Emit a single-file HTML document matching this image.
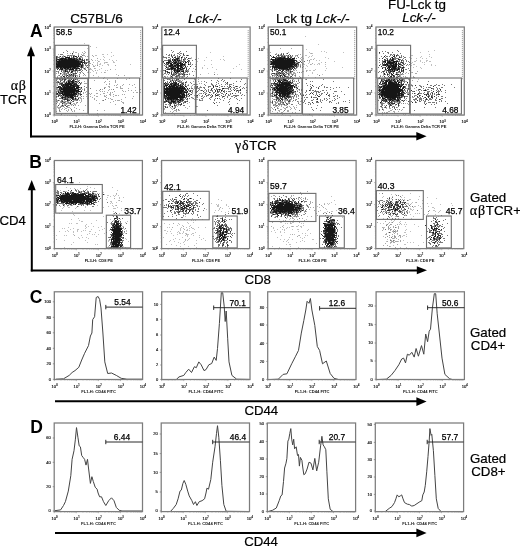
<!DOCTYPE html>
<html><head><meta charset="utf-8"><style>
html,body{margin:0;padding:0;background:#fff;width:520px;height:549px;overflow:hidden;font-family:"Liberation Sans", sans-serif;}
svg{display:block;will-change:transform}
</style></head><body>
<svg width="520" height="549" viewBox="0 0 520 549"><rect x="0" y="0" width="520" height="549" fill="#fff"/>
<defs><filter id="bl" x="-5%" y="-5%" width="110%" height="110%"><feGaussianBlur stdDeviation="0.55"/></filter></defs>
<text x="70.2" y="23" font-size="13.5" text-anchor="start" font-weight="normal" font-style="normal" fill="#000" font-family='"Liberation Sans", sans-serif'  stroke="#000" stroke-width="0.2">C57BL/6</text>
<text x="188.0" y="23" font-size="13.4" text-anchor="start" font-weight="normal" font-style="italic" fill="#000" font-family='"Liberation Sans", sans-serif'  stroke="#000" stroke-width="0.2">Lck-/-</text>
<text x="276.0" y="23" font-size="13.5" fill="#000" stroke="#000" stroke-width="0.2" font-family='"Liberation Sans", sans-serif'>Lck tg <tspan font-style="italic">Lck-/-</tspan></text>
<text x="388.0" y="8.8" font-size="13.4" text-anchor="start" font-weight="normal" font-style="normal" fill="#000" font-family='"Liberation Sans", sans-serif'  stroke="#000" stroke-width="0.2">FU-Lck tg</text>
<text x="402.2" y="22.4" font-size="13.4" text-anchor="start" font-weight="normal" font-style="italic" fill="#000" font-family='"Liberation Sans", sans-serif'  stroke="#000" stroke-width="0.2">Lck-/-</text>
<text x="30.0" y="37.0" font-size="17.5" text-anchor="start" font-weight="bold" font-style="normal" fill="#000" font-family='"Liberation Sans", sans-serif' >A</text>
<text x="29.3" y="168.2" font-size="17.5" text-anchor="start" font-weight="bold" font-style="normal" fill="#000" font-family='"Liberation Sans", sans-serif' >B</text>
<text x="29.8" y="303.0" font-size="17.5" text-anchor="start" font-weight="bold" font-style="normal" fill="#000" font-family='"Liberation Sans", sans-serif' >C</text>
<text x="30.2" y="432.6" font-size="17.5" text-anchor="start" font-weight="bold" font-style="normal" fill="#000" font-family='"Liberation Sans", sans-serif' >D</text>
<text x="26.4" y="90.1" font-size="14" text-anchor="end" letter-spacing="0.6" fill="#000" stroke="#000" stroke-width="0.2" font-family='"Liberation Serif", serif'>αβ</text>
<text x="26.8" y="103.6" font-size="13.0" text-anchor="end" font-weight="normal" font-style="normal" fill="#000" font-family='"Liberation Sans", sans-serif'  stroke="#000" stroke-width="0.2">TCR</text>
<text x="235.0" y="150.4" font-size="13.3" fill="#000" stroke="#000" stroke-width="0.2" font-family='"Liberation Sans", sans-serif'><tspan font-family='"Liberation Serif", serif' font-size="14" letter-spacing="0.7">γδ</tspan>TCR</text>
<text x="25.8" y="224.9" font-size="13.2" text-anchor="end" font-weight="normal" font-style="normal" fill="#000" font-family='"Liberation Sans", sans-serif'  stroke="#000" stroke-width="0.2">CD4</text>
<text x="244.4" y="283.9" font-size="13.3" text-anchor="start" font-weight="normal" font-style="normal" fill="#000" font-family='"Liberation Sans", sans-serif'  stroke="#000" stroke-width="0.2">CD8</text>
<text x="244.4" y="415.0" font-size="13.2" text-anchor="start" font-weight="normal" font-style="normal" fill="#000" font-family='"Liberation Sans", sans-serif'  stroke="#000" stroke-width="0.2">CD44</text>
<text x="244.2" y="545.8" font-size="13.2" text-anchor="start" font-weight="normal" font-style="normal" fill="#000" font-family='"Liberation Sans", sans-serif'  stroke="#000" stroke-width="0.2">CD44</text>
<text x="470.0" y="201.9" font-size="13.3" text-anchor="start" font-weight="normal" font-style="normal" fill="#000" font-family='"Liberation Sans", sans-serif'  stroke="#000" stroke-width="0.2">Gated</text>
<text x="469.8" y="215.2" font-size="13.3" fill="#000" stroke="#000" stroke-width="0.2" font-family='"Liberation Sans", sans-serif'><tspan font-family='"Liberation Serif", serif' font-size="14" letter-spacing="0.8">αβ</tspan>TCR+</text>
<text x="470.0" y="336.6" font-size="13.3" text-anchor="start" font-weight="normal" font-style="normal" fill="#000" font-family='"Liberation Sans", sans-serif'  stroke="#000" stroke-width="0.2">Gated</text>
<text x="470.8" y="350.0" font-size="13.3" text-anchor="start" font-weight="normal" font-style="normal" fill="#000" font-family='"Liberation Sans", sans-serif'  stroke="#000" stroke-width="0.2">CD4+</text>
<text x="470.0" y="463.1" font-size="13.3" text-anchor="start" font-weight="normal" font-style="normal" fill="#000" font-family='"Liberation Sans", sans-serif'  stroke="#000" stroke-width="0.2">Gated</text>
<text x="471.2" y="476.2" font-size="13.3" text-anchor="start" font-weight="normal" font-style="normal" fill="#000" font-family='"Liberation Sans", sans-serif'  stroke="#000" stroke-width="0.2">CD8+</text>
<line x1="31" y1="56" x2="31" y2="137.3" stroke="#000" stroke-width="2"/>
<line x1="30" y1="136.6" x2="417" y2="136.6" stroke="#000" stroke-width="2"/>
<polygon points="31,46 27,56.2 35,56.2" fill="#000"/>
<polygon points="426.6,136.3 416.3,132 416.3,140.6" fill="#000"/>
<line x1="31.8" y1="189" x2="31.8" y2="271.4" stroke="#000" stroke-width="2"/>
<line x1="30.8" y1="270.4" x2="417" y2="270.4" stroke="#000" stroke-width="2"/>
<polygon points="31.7,180.1 27.7,190.3 35.7,190.3" fill="#000"/>
<polygon points="427.0,270.2 416.8,266.2 416.8,274.2" fill="#000"/>
<line x1="55" y1="401.3" x2="417" y2="401.3" stroke="#000" stroke-width="2"/>
<polygon points="426.6,401.6 416.4,397.3 416.4,405.9" fill="#000"/>
<line x1="55" y1="533" x2="417" y2="533" stroke="#000" stroke-width="2"/>
<polygon points="426.6,532.9 416.4,528.6 416.4,537.2" fill="#000"/>
<path d="M84 43.5h1M96 47.5h1M87 48.5h1M111 52.5h1M83 53.5h1M83 54.5h1M102 54.5h1M103 54.5h1M107 54.5h1M95 55.5h1M96 55.5h1M113 55.5h1M103 56.5h1M111 56.5h1M104 57.5h1M100 59.5h1M103 59.5h1M109 59.5h1M95 60.5h1M97 60.5h1M104 60.5h1M112 60.5h1M116 60.5h1M99 61.5h1M113 61.5h1M93 62.5h1M97 62.5h1M104 62.5h1M105 62.5h1M107 62.5h1M113 62.5h1M114 62.5h1M97 63.5h1M100 63.5h1M104 63.5h1M97 64.5h1M99 64.5h1M100 64.5h1M107 64.5h1M108 64.5h1M130 64.5h1M93 65.5h1M95 65.5h1M102 65.5h1M108 65.5h1M99 66.5h1M85 67.5h1M95 68.5h1M101 68.5h1M90 69.5h1M91 69.5h1M99 69.5h1M115 69.5h1M92 70.5h1M97 70.5h1M105 70.5h1M107 70.5h1M93 71.5h1M87 72.5h1M90 72.5h1M96 72.5h1M101 72.5h1M105 72.5h1M96 73.5h1M116 74.5h1M98 76.5h1M104 77.5h1" stroke="#c0c0c0" stroke-width="1" fill="none" shape-rendering="crispEdges" filter="url(#bl)"/>
<path d="M90 46.5h1M66 50.5h1M73 51.5h1M84 51.5h1M73 52.5h1M75 52.5h1M76 52.5h1M82 52.5h1M85 52.5h1M67 53.5h1M70 53.5h1M78 53.5h1M84 53.5h1M58 54.5h1M72 54.5h1M78 54.5h1M81 54.5h1M63 55.5h1M69 55.5h1M72 55.5h1M83 55.5h1M84 55.5h1M92 55.5h1M59 56.5h1M63 56.5h1M67 56.5h1M85 56.5h1M87 56.5h1M93 56.5h1M61 57.5h1M63 57.5h1M72 57.5h1M74 57.5h1M80 57.5h1M81 57.5h1M82 57.5h1M57 58.5h1M77 58.5h1M78 58.5h1M97 58.5h1M88 59.5h1M91 59.5h1M57 60.5h1M80 60.5h1M87 60.5h1M92 60.5h1M98 61.5h1M89 62.5h1M106 62.5h1M89 63.5h1M90 63.5h1M83 64.5h1M92 64.5h1M86 65.5h1M115 65.5h1M83 66.5h1M93 66.5h1M94 66.5h1M83 67.5h1M83 68.5h1M85 68.5h1M90 68.5h1M94 68.5h1M63 69.5h1M64 69.5h1M77 69.5h1M84 69.5h1M89 69.5h1M110 69.5h1M59 70.5h1M62 70.5h1M70 70.5h1M95 70.5h1M57 71.5h1M68 71.5h1M73 71.5h1M74 71.5h1M88 71.5h1M62 72.5h1M63 72.5h1M65 72.5h1M70 72.5h1M77 72.5h1M79 72.5h1M82 72.5h1M104 72.5h1M56 73.5h1M58 73.5h1M61 73.5h1M63 73.5h1M65 73.5h1M67 73.5h1M70 73.5h1M72 73.5h1M80 73.5h1M60 74.5h1M62 74.5h1M63 74.5h1M65 74.5h1M68 74.5h1M70 74.5h1M72 74.5h1M74 74.5h1M75 74.5h1M58 75.5h1M64 75.5h1M65 75.5h1M68 75.5h1M74 75.5h1M76 75.5h1M77 75.5h1M79 75.5h1M83 75.5h1M85 75.5h1M93 75.5h1M118 75.5h1M124 75.5h1M57 76.5h1M60 76.5h1M70 76.5h1M71 76.5h1M72 76.5h1M77 76.5h1M60 77.5h1M62 77.5h1M65 77.5h1M66 77.5h1M69 77.5h1M71 77.5h1M72 77.5h1M74 77.5h1M75 77.5h1M57 78.5h1M68 78.5h1M69 78.5h1M74 78.5h1M79 78.5h1M85 78.5h1M103 78.5h1M117 78.5h1M129 78.5h1M56 79.5h1M57 79.5h1M61 79.5h1M63 79.5h1M66 79.5h1M68 79.5h1M70 79.5h1M74 79.5h1M76 79.5h1M107 79.5h1M126 79.5h1M62 80.5h1M65 80.5h1M67 80.5h1M77 80.5h1M78 80.5h1M88 80.5h1M94 80.5h1M115 80.5h1M67 81.5h1M77 81.5h1M84 81.5h1M105 81.5h1M109 81.5h1M115 81.5h1M60 82.5h1M61 82.5h1M63 82.5h1M65 82.5h1M67 82.5h1M75 82.5h1M104 82.5h1M115 82.5h1M57 83.5h1M64 83.5h1M81 83.5h1M84 83.5h1M85 83.5h1M86 83.5h1M109 83.5h1M57 84.5h1M77 84.5h1M88 84.5h1M106 84.5h1M109 84.5h1M117 84.5h1M123 84.5h1M129 84.5h1M134 84.5h1M57 85.5h1M114 85.5h1M116 85.5h1M122 85.5h1M132 85.5h1M88 86.5h1M108 86.5h1M109 86.5h1M120 86.5h1M80 87.5h1M104 87.5h1M105 87.5h1M109 87.5h1M116 87.5h1M117 87.5h1M120 87.5h1M135 87.5h1M56 88.5h1M57 88.5h1M80 88.5h1M84 88.5h1M120 88.5h1M121 88.5h1M122 88.5h1M128 88.5h1M56 89.5h1M57 89.5h1M58 89.5h1M82 89.5h1M88 89.5h1M102 89.5h1M109 89.5h1M111 89.5h1M140 89.5h1M57 90.5h1M96 90.5h1M99 90.5h1M108 90.5h1M122 90.5h1M128 90.5h1M131 90.5h1M135 90.5h1M57 91.5h1M59 91.5h1M86 91.5h1M100 91.5h1M102 91.5h1M104 91.5h1M114 91.5h1M123 91.5h1M125 91.5h1M83 92.5h1M85 92.5h1M107 92.5h1M110 92.5h1M112 92.5h1M133 92.5h1M136 92.5h1M137 92.5h1M140 92.5h1M58 93.5h1M77 93.5h1M83 93.5h1M88 93.5h1M89 93.5h1M91 93.5h1M96 93.5h1M97 93.5h1M103 93.5h1M104 93.5h1M110 93.5h1M77 94.5h1M79 94.5h1M86 94.5h1M90 94.5h1M100 94.5h1M109 94.5h1M110 94.5h1M113 94.5h1M122 94.5h1M124 94.5h1M62 95.5h1M78 95.5h1M94 95.5h1M104 95.5h1M106 95.5h1M110 95.5h1M115 95.5h1M116 95.5h1M118 95.5h1M57 96.5h1M61 96.5h1M63 96.5h1M83 96.5h1M86 96.5h1M90 96.5h1M96 96.5h1M97 96.5h1M104 96.5h1M105 96.5h1M113 96.5h1M133 96.5h1M78 97.5h1M79 97.5h1M80 97.5h1M88 97.5h1M92 97.5h1M106 97.5h1M125 97.5h1M63 98.5h1M68 98.5h1M69 98.5h1M70 98.5h1M74 98.5h1M76 98.5h1M80 98.5h1M81 98.5h1M83 98.5h1M87 98.5h1M94 98.5h1M108 98.5h1M110 98.5h1M132 98.5h1M62 99.5h1M69 99.5h1M78 99.5h1M81 99.5h1M94 99.5h1M111 99.5h1M112 99.5h1M121 99.5h1M56 100.5h1M57 100.5h1M59 100.5h1M64 100.5h1M73 100.5h1M74 100.5h1M75 100.5h1M79 100.5h1M81 100.5h1M96 100.5h1M102 100.5h1M115 100.5h1M117 100.5h1M118 100.5h1M119 100.5h1M57 101.5h1M60 101.5h1M63 101.5h1M64 101.5h1M66 101.5h1M68 101.5h1M70 101.5h1M81 101.5h1M113 101.5h1M121 101.5h1M57 102.5h1M60 102.5h1M62 102.5h1M65 102.5h1M67 102.5h1M69 102.5h1M71 102.5h1M76 102.5h1M80 102.5h1M110 102.5h1M122 102.5h1M123 102.5h1M59 103.5h1M63 103.5h1M64 103.5h1M65 103.5h1M67 103.5h1M68 103.5h1M73 103.5h1M74 103.5h1M76 103.5h1M99 103.5h1M123 103.5h1M59 104.5h1M62 104.5h1M64 104.5h1M65 104.5h1M66 104.5h1M70 104.5h1M71 104.5h1M72 104.5h1M74 104.5h1M75 104.5h1M115 104.5h1M61 105.5h1M63 105.5h1M64 105.5h1M67 105.5h1M69 105.5h1M71 105.5h1M75 105.5h1M78 105.5h1M85 105.5h1M57 106.5h1M60 106.5h1M62 106.5h1M57 107.5h1M58 107.5h1M59 107.5h1M64 107.5h1M67 107.5h1M68 107.5h1M69 107.5h1M74 107.5h1M58 108.5h1M59 108.5h1M62 108.5h1M65 108.5h1M66 108.5h1M70 108.5h1M76 108.5h1M59 109.5h1M61 109.5h1M64 109.5h1M68 109.5h1M79 109.5h1M66 110.5h1M68 110.5h1M71 110.5h1M74 110.5h1M83 110.5h1M97 110.5h1M104 110.5h1M56 111.5h1M59 111.5h1M60 111.5h1M67 111.5h1M72 111.5h1M74 111.5h1M65 113.5h1M97 113.5h1" stroke="#a8a8a8" stroke-width="1" fill="none" shape-rendering="crispEdges" filter="url(#bl)"/>
<path d="M89 65.5h1M97 65.5h1M86 66.5h1M84 74.5h1" stroke="#909090" stroke-width="1" fill="none" shape-rendering="crispEdges" filter="url(#bl)"/>
<path d="M67 51.5h1M63 52.5h1M60 54.5h1M61 54.5h1M62 54.5h1M67 55.5h1M68 55.5h1M70 55.5h1M71 55.5h1M73 55.5h1M74 55.5h1M78 55.5h1M82 55.5h1M57 56.5h1M62 56.5h1M65 56.5h1M69 56.5h1M71 56.5h1M74 56.5h1M81 56.5h1M57 57.5h1M58 57.5h1M59 57.5h1M62 57.5h1M71 57.5h1M76 57.5h1M79 57.5h1M59 58.5h1M67 58.5h1M82 58.5h1M78 59.5h1M81 59.5h1M84 59.5h1M87 59.5h1M58 60.5h1M79 60.5h1M81 60.5h1M86 60.5h1M82 61.5h1M85 62.5h1M86 62.5h1M87 62.5h1M85 63.5h1M81 64.5h1M85 64.5h1M80 65.5h1M83 65.5h1M85 65.5h1M87 65.5h1M80 66.5h1M78 67.5h1M80 67.5h1M56 68.5h1M57 68.5h1M63 68.5h1M69 68.5h1M71 68.5h1M81 68.5h1M68 69.5h1M79 69.5h1M80 69.5h1M81 69.5h1M85 69.5h1M61 70.5h1M63 70.5h1M64 70.5h1M66 70.5h1M67 70.5h1M71 70.5h1M72 70.5h1M74 70.5h1M77 70.5h1M78 70.5h1M80 70.5h1M82 70.5h1M56 71.5h1M58 71.5h1M63 71.5h1M64 71.5h1M75 71.5h1M77 71.5h1M81 71.5h1M58 72.5h1M64 72.5h1M67 72.5h1M72 72.5h1M75 72.5h1M80 72.5h1M88 72.5h1M64 73.5h1M66 73.5h1M68 73.5h1M74 73.5h1M83 73.5h1M64 74.5h1M66 74.5h1M79 74.5h1M59 75.5h1M62 75.5h1M66 75.5h1M69 75.5h1M71 75.5h1M72 75.5h1M61 76.5h1M68 76.5h1M69 76.5h1M57 77.5h1M61 77.5h1M68 77.5h1M70 77.5h1M76 77.5h1M58 78.5h1M63 78.5h1M71 78.5h1M75 78.5h1M59 79.5h1M60 79.5h1M69 79.5h1M77 79.5h1M56 80.5h1M60 80.5h1M61 80.5h1M74 80.5h1M79 80.5h1M57 81.5h1M58 81.5h1M63 81.5h1M66 81.5h1M74 81.5h1M56 82.5h1M57 82.5h1M59 82.5h1M62 82.5h1M64 82.5h1M70 82.5h1M74 82.5h1M76 82.5h1M77 82.5h1M81 82.5h1M59 83.5h1M78 83.5h1M59 84.5h1M60 84.5h1M72 84.5h1M80 84.5h1M69 85.5h1M79 85.5h1M84 86.5h1M56 87.5h1M62 87.5h1M86 87.5h1M81 88.5h1M90 88.5h1M104 88.5h1M76 89.5h1M77 89.5h1M80 89.5h1M84 89.5h1M100 89.5h1M113 89.5h1M58 90.5h1M59 90.5h1M61 90.5h1M62 90.5h1M81 90.5h1M84 90.5h1M56 91.5h1M80 91.5h1M56 92.5h1M75 92.5h1M78 92.5h1M80 92.5h1M79 93.5h1M80 93.5h1M58 94.5h1M59 94.5h1M60 94.5h1M78 94.5h1M60 95.5h1M77 95.5h1M80 95.5h1M60 96.5h1M64 96.5h1M73 96.5h1M76 96.5h1M81 96.5h1M56 97.5h1M66 97.5h1M75 97.5h1M59 98.5h1M60 98.5h1M61 98.5h1M64 98.5h1M66 98.5h1M56 99.5h1M63 99.5h1M68 99.5h1M70 99.5h1M74 99.5h1M76 99.5h1M105 99.5h1M61 100.5h1M62 100.5h1M76 100.5h1M77 100.5h1M103 100.5h1M56 101.5h1M61 101.5h1M65 101.5h1M67 101.5h1M72 101.5h1M61 102.5h1M63 102.5h1M68 102.5h1M70 102.5h1M77 102.5h1M56 103.5h1M66 103.5h1M69 103.5h1M68 105.5h1M73 105.5h1M61 106.5h1M63 106.5h1M67 106.5h1M60 107.5h1M71 109.5h1M59 110.5h1M61 114.5h1" stroke="#787878" stroke-width="1" fill="none" shape-rendering="crispEdges" filter="url(#bl)"/>
<path d="M80 56.5h1M88 62.5h1M88 64.5h1M86 70.5h1" stroke="#606060" stroke-width="1" fill="none" shape-rendering="crispEdges" filter="url(#bl)"/>
<path d="M56 56.5h1M77 57.5h1M66 58.5h1M72 58.5h1M75 58.5h1M80 58.5h1M75 59.5h1M86 59.5h1M83 60.5h1M84 60.5h1M89 61.5h1M79 65.5h1M82 66.5h1M58 67.5h1M59 67.5h1M76 67.5h1M82 67.5h1M87 67.5h1M66 68.5h1M84 68.5h1M59 69.5h1M60 69.5h1M67 69.5h1M75 69.5h1M69 70.5h1M61 71.5h1M66 71.5h1M69 71.5h1M68 72.5h1M73 73.5h1M75 73.5h1M76 73.5h1M69 74.5h1M73 74.5h1M70 75.5h1M73 75.5h1M75 75.5h1M64 76.5h1M66 76.5h1M73 76.5h1M79 76.5h1M67 77.5h1M59 78.5h1M64 78.5h1M65 78.5h1M62 79.5h1M64 79.5h1M71 79.5h1M75 79.5h1M69 80.5h1M70 80.5h1M60 81.5h1M64 81.5h1M70 81.5h1M78 81.5h1M71 82.5h1M60 83.5h1M73 83.5h1M76 83.5h1M80 83.5h1M62 84.5h1M78 85.5h1M60 86.5h1M59 87.5h1M78 88.5h1M60 89.5h1M79 89.5h1M59 92.5h1M60 92.5h1M61 92.5h1M63 93.5h1M72 93.5h1M57 94.5h1M59 95.5h1M64 95.5h1M74 95.5h1M75 95.5h1M56 96.5h1M58 96.5h1M62 96.5h1M61 97.5h1M67 97.5h1M69 97.5h1M67 98.5h1M71 98.5h1M73 98.5h1M66 99.5h1M75 99.5h1M77 99.5h1M58 100.5h1M68 100.5h1M69 100.5h1M73 101.5h1M64 102.5h1M58 105.5h1M65 105.5h1M66 106.5h1" stroke="#484848" stroke-width="1" fill="none" shape-rendering="crispEdges" filter="url(#bl)"/>
<path d="M72 53.5h1M60 56.5h1M64 56.5h1M76 56.5h1M78 56.5h1M56 57.5h1M65 57.5h1M73 57.5h1M56 58.5h1M60 58.5h1M64 58.5h1M73 58.5h1M76 58.5h1M56 59.5h1M57 59.5h1M59 59.5h1M63 59.5h1M67 59.5h1M76 59.5h1M79 59.5h1M82 59.5h1M60 60.5h1M77 60.5h1M78 60.5h1M82 60.5h1M56 61.5h1M79 61.5h1M80 61.5h1M88 61.5h1M56 62.5h1M57 62.5h1M79 62.5h1M80 62.5h1M82 62.5h1M83 62.5h1M84 62.5h1M57 63.5h1M80 63.5h1M82 63.5h1M84 63.5h1M86 63.5h1M82 64.5h1M56 65.5h1M82 65.5h1M56 67.5h1M62 67.5h1M71 67.5h1M72 67.5h1M77 67.5h1M81 67.5h1M61 68.5h1M73 68.5h1M75 68.5h1M77 68.5h1M79 68.5h1M57 69.5h1M65 69.5h1M66 69.5h1M76 69.5h1M73 70.5h1M75 70.5h1M76 70.5h1M79 70.5h1M67 71.5h1M71 71.5h1M60 73.5h1M62 78.5h1M67 78.5h1M72 78.5h1M65 79.5h1M73 79.5h1M64 80.5h1M68 80.5h1M72 80.5h1M69 81.5h1M73 81.5h1M76 81.5h1M58 82.5h1M61 83.5h1M62 83.5h1M66 83.5h1M71 83.5h1M74 83.5h1M75 83.5h1M61 84.5h1M64 84.5h1M73 84.5h1M75 84.5h1M61 85.5h1M62 85.5h1M64 85.5h1M74 85.5h1M75 85.5h1M76 85.5h1M58 86.5h1M59 86.5h1M63 86.5h1M65 86.5h1M71 86.5h1M72 86.5h1M75 86.5h1M76 86.5h1M77 86.5h1M57 87.5h1M61 87.5h1M79 87.5h1M81 87.5h1M59 88.5h1M60 88.5h1M62 88.5h1M73 88.5h1M75 88.5h1M59 89.5h1M58 91.5h1M60 91.5h1M75 91.5h1M77 91.5h1M63 92.5h1M76 92.5h1M77 92.5h1M56 93.5h1M59 93.5h1M60 93.5h1M70 93.5h1M76 93.5h1M78 93.5h1M56 94.5h1M75 94.5h1M80 94.5h1M81 94.5h1M58 95.5h1M61 95.5h1M66 96.5h1M68 96.5h1M69 96.5h1M74 96.5h1M75 96.5h1M77 96.5h1M63 97.5h1M64 97.5h1M65 97.5h1M65 98.5h1M78 98.5h1M64 99.5h1M65 99.5h1M67 99.5h1M72 99.5h1M73 99.5h1M62 101.5h1M62 103.5h1M62 105.5h1" stroke="#303030" stroke-width="1" fill="none" shape-rendering="crispEdges" filter="url(#bl)"/>
<path d="M73 56.5h1M75 56.5h1M66 57.5h1M67 57.5h1M68 57.5h1M69 57.5h1M61 58.5h1M62 58.5h1M63 58.5h1M65 58.5h1M68 58.5h1M69 58.5h1M70 58.5h1M71 58.5h1M74 58.5h1M79 58.5h1M58 59.5h1M60 59.5h1M61 59.5h1M62 59.5h1M64 59.5h1M65 59.5h1M66 59.5h1M68 59.5h1M69 59.5h1M70 59.5h1M71 59.5h1M72 59.5h1M73 59.5h1M74 59.5h1M77 59.5h1M80 59.5h1M56 60.5h1M59 60.5h1M61 60.5h1M62 60.5h1M63 60.5h1M64 60.5h1M65 60.5h1M66 60.5h1M67 60.5h1M68 60.5h1M69 60.5h1M70 60.5h1M71 60.5h1M72 60.5h1M73 60.5h1M74 60.5h1M75 60.5h1M76 60.5h1M57 61.5h1M58 61.5h1M59 61.5h1M60 61.5h1M61 61.5h1M62 61.5h1M63 61.5h1M64 61.5h1M65 61.5h1M66 61.5h1M67 61.5h1M68 61.5h1M69 61.5h1M70 61.5h1M71 61.5h1M72 61.5h1M73 61.5h1M74 61.5h1M75 61.5h1M76 61.5h1M77 61.5h1M78 61.5h1M81 61.5h1M84 61.5h1M58 62.5h1M59 62.5h1M60 62.5h1M61 62.5h1M62 62.5h1M63 62.5h1M64 62.5h1M65 62.5h1M66 62.5h1M67 62.5h1M68 62.5h1M69 62.5h1M70 62.5h1M71 62.5h1M72 62.5h1M73 62.5h1M74 62.5h1M75 62.5h1M76 62.5h1M77 62.5h1M78 62.5h1M81 62.5h1M56 63.5h1M58 63.5h1M59 63.5h1M60 63.5h1M61 63.5h1M62 63.5h1M63 63.5h1M64 63.5h1M65 63.5h1M66 63.5h1M67 63.5h1M68 63.5h1M69 63.5h1M70 63.5h1M71 63.5h1M72 63.5h1M73 63.5h1M74 63.5h1M75 63.5h1M76 63.5h1M77 63.5h1M78 63.5h1M79 63.5h1M56 64.5h1M57 64.5h1M58 64.5h1M59 64.5h1M60 64.5h1M61 64.5h1M62 64.5h1M63 64.5h1M64 64.5h1M65 64.5h1M66 64.5h1M67 64.5h1M68 64.5h1M69 64.5h1M70 64.5h1M71 64.5h1M72 64.5h1M73 64.5h1M74 64.5h1M75 64.5h1M76 64.5h1M77 64.5h1M78 64.5h1M79 64.5h1M80 64.5h1M57 65.5h1M58 65.5h1M59 65.5h1M60 65.5h1M61 65.5h1M62 65.5h1M63 65.5h1M64 65.5h1M65 65.5h1M66 65.5h1M67 65.5h1M68 65.5h1M69 65.5h1M70 65.5h1M71 65.5h1M72 65.5h1M73 65.5h1M74 65.5h1M75 65.5h1M76 65.5h1M77 65.5h1M78 65.5h1M81 65.5h1M56 66.5h1M57 66.5h1M58 66.5h1M59 66.5h1M60 66.5h1M61 66.5h1M62 66.5h1M63 66.5h1M64 66.5h1M65 66.5h1M66 66.5h1M67 66.5h1M68 66.5h1M69 66.5h1M70 66.5h1M71 66.5h1M72 66.5h1M73 66.5h1M74 66.5h1M75 66.5h1M76 66.5h1M77 66.5h1M78 66.5h1M79 66.5h1M81 66.5h1M57 67.5h1M60 67.5h1M61 67.5h1M63 67.5h1M64 67.5h1M65 67.5h1M66 67.5h1M67 67.5h1M68 67.5h1M69 67.5h1M70 67.5h1M73 67.5h1M74 67.5h1M75 67.5h1M58 68.5h1M60 68.5h1M62 68.5h1M64 68.5h1M65 68.5h1M67 68.5h1M68 68.5h1M70 68.5h1M72 68.5h1M74 68.5h1M76 68.5h1M78 68.5h1M61 69.5h1M62 69.5h1M69 69.5h1M70 69.5h1M71 69.5h1M72 69.5h1M73 69.5h1M65 70.5h1M65 71.5h1M72 71.5h1M71 72.5h1M71 74.5h1M67 75.5h1M63 76.5h1M75 76.5h1M64 77.5h1M73 80.5h1M68 81.5h1M71 81.5h1M72 81.5h1M75 81.5h1M66 82.5h1M68 82.5h1M69 82.5h1M72 82.5h1M73 82.5h1M79 82.5h1M65 83.5h1M67 83.5h1M68 83.5h1M69 83.5h1M70 83.5h1M72 83.5h1M63 84.5h1M65 84.5h1M66 84.5h1M67 84.5h1M68 84.5h1M69 84.5h1M70 84.5h1M71 84.5h1M74 84.5h1M76 84.5h1M63 85.5h1M65 85.5h1M66 85.5h1M67 85.5h1M68 85.5h1M70 85.5h1M71 85.5h1M72 85.5h1M73 85.5h1M77 85.5h1M62 86.5h1M64 86.5h1M66 86.5h1M67 86.5h1M68 86.5h1M69 86.5h1M70 86.5h1M73 86.5h1M74 86.5h1M78 86.5h1M58 87.5h1M60 87.5h1M63 87.5h1M64 87.5h1M65 87.5h1M66 87.5h1M67 87.5h1M68 87.5h1M69 87.5h1M70 87.5h1M71 87.5h1M72 87.5h1M73 87.5h1M74 87.5h1M76 87.5h1M77 87.5h1M78 87.5h1M61 88.5h1M63 88.5h1M64 88.5h1M65 88.5h1M66 88.5h1M67 88.5h1M68 88.5h1M69 88.5h1M70 88.5h1M71 88.5h1M72 88.5h1M74 88.5h1M76 88.5h1M77 88.5h1M61 89.5h1M62 89.5h1M63 89.5h1M64 89.5h1M65 89.5h1M66 89.5h1M67 89.5h1M68 89.5h1M69 89.5h1M70 89.5h1M71 89.5h1M72 89.5h1M73 89.5h1M74 89.5h1M75 89.5h1M78 89.5h1M60 90.5h1M63 90.5h1M64 90.5h1M65 90.5h1M66 90.5h1M67 90.5h1M68 90.5h1M69 90.5h1M70 90.5h1M71 90.5h1M72 90.5h1M73 90.5h1M74 90.5h1M75 90.5h1M76 90.5h1M77 90.5h1M78 90.5h1M61 91.5h1M62 91.5h1M63 91.5h1M64 91.5h1M65 91.5h1M66 91.5h1M67 91.5h1M68 91.5h1M69 91.5h1M70 91.5h1M71 91.5h1M72 91.5h1M73 91.5h1M74 91.5h1M76 91.5h1M78 91.5h1M79 91.5h1M81 91.5h1M58 92.5h1M62 92.5h1M64 92.5h1M65 92.5h1M66 92.5h1M67 92.5h1M68 92.5h1M69 92.5h1M70 92.5h1M71 92.5h1M72 92.5h1M73 92.5h1M74 92.5h1M57 93.5h1M61 93.5h1M62 93.5h1M64 93.5h1M65 93.5h1M66 93.5h1M67 93.5h1M68 93.5h1M69 93.5h1M71 93.5h1M73 93.5h1M74 93.5h1M75 93.5h1M62 94.5h1M63 94.5h1M64 94.5h1M65 94.5h1M66 94.5h1M67 94.5h1M68 94.5h1M69 94.5h1M70 94.5h1M71 94.5h1M72 94.5h1M73 94.5h1M74 94.5h1M76 94.5h1M63 95.5h1M65 95.5h1M66 95.5h1M67 95.5h1M68 95.5h1M69 95.5h1M70 95.5h1M71 95.5h1M72 95.5h1M73 95.5h1M65 96.5h1M67 96.5h1M70 96.5h1M71 96.5h1M72 96.5h1M62 97.5h1M68 97.5h1M70 97.5h1M71 97.5h1M72 97.5h1M73 97.5h1M62 98.5h1M72 98.5h1M75 98.5h1M67 100.5h1M71 100.5h1M70 103.5h1" stroke="#181818" stroke-width="1" fill="none" shape-rendering="crispEdges" filter="url(#bl)"/>
<rect x="54.20" y="27.00" width="88.30" height="88.00" fill="none" stroke="#7c7c7c" stroke-width="1.25"/>
<rect x="55.00" y="45.30" width="33.80" height="32.70" fill="none" stroke="#6e6e6e" stroke-width="1.1"/>
<rect x="88.40" y="78.00" width="51.20" height="36.00" fill="none" stroke="#6e6e6e" stroke-width="1.1"/>
<rect x="55.90" y="78.60" width="31.90" height="34.80" fill="none" stroke="#6e6e6e" stroke-width="1.0"/>
<path d="M140.6 30.0V80" stroke="#999" stroke-width="0.9" stroke-dasharray="1.2 0.8" fill="none"/>
<text x="54.50" y="123.40" font-size="4.2" text-anchor="middle" fill="#111" stroke="#111" stroke-width="0.15" font-family='"Liberation Sans", sans-serif'>10<tspan font-size="2.60" dy="-1.6">0</tspan></text>
<text x="76.58" y="123.40" font-size="4.2" text-anchor="middle" fill="#111" stroke="#111" stroke-width="0.15" font-family='"Liberation Sans", sans-serif'>10<tspan font-size="2.60" dy="-1.6">1</tspan></text>
<text x="98.65" y="123.40" font-size="4.2" text-anchor="middle" fill="#111" stroke="#111" stroke-width="0.15" font-family='"Liberation Sans", sans-serif'>10<tspan font-size="2.60" dy="-1.6">2</tspan></text>
<text x="120.72" y="123.40" font-size="4.2" text-anchor="middle" fill="#111" stroke="#111" stroke-width="0.15" font-family='"Liberation Sans", sans-serif'>10<tspan font-size="2.60" dy="-1.6">3</tspan></text>
<text x="142.80" y="123.40" font-size="4.2" text-anchor="middle" fill="#111" stroke="#111" stroke-width="0.15" font-family='"Liberation Sans", sans-serif'>10<tspan font-size="2.60" dy="-1.6">4</tspan></text>
<text x="50.60" y="116.50" font-size="4.2" text-anchor="end" fill="#111" stroke="#111" stroke-width="0.15" font-family='"Liberation Sans", sans-serif'>10<tspan font-size="2.60" dy="-1.6">0</tspan></text>
<text x="50.60" y="94.50" font-size="4.2" text-anchor="end" fill="#111" stroke="#111" stroke-width="0.15" font-family='"Liberation Sans", sans-serif'>10<tspan font-size="2.60" dy="-1.6">1</tspan></text>
<text x="50.60" y="72.50" font-size="4.2" text-anchor="end" fill="#111" stroke="#111" stroke-width="0.15" font-family='"Liberation Sans", sans-serif'>10<tspan font-size="2.60" dy="-1.6">2</tspan></text>
<text x="50.60" y="50.50" font-size="4.2" text-anchor="end" fill="#111" stroke="#111" stroke-width="0.15" font-family='"Liberation Sans", sans-serif'>10<tspan font-size="2.60" dy="-1.6">3</tspan></text>
<text x="50.60" y="28.50" font-size="4.2" text-anchor="end" fill="#111" stroke="#111" stroke-width="0.15" font-family='"Liberation Sans", sans-serif'>10<tspan font-size="2.60" dy="-1.6">4</tspan></text>
<path d="M54.20 115.00v1.6M54.20 115.00h-1.6M60.85 115.00v0.9M54.20 108.38h-0.9M64.73 115.00v0.9M54.20 104.50h-0.9M67.49 115.00v0.9M54.20 101.75h-0.9M69.63 115.00v0.9M54.20 99.62h-0.9M71.38 115.00v0.9M54.20 97.88h-0.9M72.86 115.00v0.9M54.20 96.41h-0.9M74.14 115.00v0.9M54.20 95.13h-0.9M75.26 115.00v0.9M54.20 94.01h-0.9M76.28 115.00v1.6M54.20 93.00h-1.6M82.92 115.00v0.9M54.20 86.38h-0.9M86.81 115.00v0.9M54.20 82.50h-0.9M89.57 115.00v0.9M54.20 79.75h-0.9M91.70 115.00v0.9M54.20 77.62h-0.9M93.45 115.00v0.9M54.20 75.88h-0.9M94.93 115.00v0.9M54.20 74.41h-0.9M96.21 115.00v0.9M54.20 73.13h-0.9M97.34 115.00v0.9M54.20 72.01h-0.9M98.35 115.00v1.6M54.20 71.00h-1.6M105.00 115.00v0.9M54.20 64.38h-0.9M108.88 115.00v0.9M54.20 60.50h-0.9M111.64 115.00v0.9M54.20 57.75h-0.9M113.78 115.00v0.9M54.20 55.62h-0.9M115.53 115.00v0.9M54.20 53.88h-0.9M117.01 115.00v0.9M54.20 52.41h-0.9M118.29 115.00v0.9M54.20 51.13h-0.9M119.41 115.00v0.9M54.20 50.01h-0.9M120.42 115.00v1.6M54.20 49.00h-1.6M127.07 115.00v0.9M54.20 42.38h-0.9M130.96 115.00v0.9M54.20 38.50h-0.9M133.72 115.00v0.9M54.20 35.75h-0.9M135.85 115.00v0.9M54.20 33.62h-0.9M137.60 115.00v0.9M54.20 31.88h-0.9M139.08 115.00v0.9M54.20 30.41h-0.9M140.36 115.00v0.9M54.20 29.13h-0.9M141.49 115.00v0.9M54.20 28.01h-0.9" stroke="#888" stroke-width="0.6" fill="none"/>
<text x="97.1" y="128.2" font-size="4.0" font-weight="bold" text-anchor="middle" fill="#111" font-family='"Liberation Sans", sans-serif'>FL2-H: Gamma Delta TCR PE</text>
<text x="56.0" y="34.8" font-size="8.3" text-anchor="start" font-weight="normal" font-style="normal" fill="#000" font-family='"Liberation Sans", sans-serif'  stroke="#000" stroke-width="0.25">58.5</text>
<text x="136.6" y="112.5" font-size="8.3" text-anchor="end" font-weight="normal" font-style="normal" fill="#000" font-family='"Liberation Sans", sans-serif'  stroke="#000" stroke-width="0.25">1.42</text>
<path d="M210 52.5h1M178 56.5h1M223 56.5h1M191 57.5h1M206 57.5h1M191 58.5h1M198 58.5h1M220 59.5h1M223 59.5h1M204 60.5h1M211 60.5h1M224 60.5h1M197 61.5h1M195 64.5h1M211 64.5h1M239 64.5h1M191 65.5h1M204 65.5h1M236 66.5h1M202 67.5h1M212 67.5h1M193 68.5h1M202 68.5h1M207 68.5h1M233 68.5h1M216 69.5h1M241 69.5h1M194 71.5h1M214 72.5h1M230 72.5h1M208 73.5h1M217 74.5h1" stroke="#c0c0c0" stroke-width="1" fill="none" shape-rendering="crispEdges" filter="url(#bl)"/>
<path d="M188 70.5h1M172 71.5h1M180 71.5h1M173 72.5h1M167 73.5h1M175 73.5h1M177 73.5h1M180 73.5h1M182 73.5h1M184 73.5h1M189 73.5h1M163 74.5h1M166 74.5h1M176 74.5h1M181 74.5h1M185 74.5h1M200 74.5h1M170 75.5h1M165 76.5h1M167 76.5h1M170 76.5h1M172 76.5h1M178 76.5h1M180 76.5h1M181 76.5h1M183 76.5h1M163 77.5h1M171 77.5h1M175 77.5h1M177 77.5h1M181 77.5h1M183 77.5h1M198 77.5h1M164 78.5h1M166 78.5h1M168 78.5h1M170 78.5h1M174 78.5h1M177 78.5h1M178 78.5h1M179 78.5h1M183 78.5h1M185 78.5h1M194 78.5h1M168 79.5h1M170 79.5h1M174 79.5h1M194 79.5h1M198 79.5h1M163 80.5h1M171 80.5h1M173 80.5h1M174 80.5h1M177 80.5h1M178 80.5h1M180 80.5h1M182 80.5h1M171 81.5h1M177 81.5h1M180 81.5h1M193 81.5h1M198 81.5h1M201 81.5h1M182 82.5h1M163 83.5h1M177 83.5h1M185 83.5h1M199 83.5h1M201 83.5h1M169 84.5h1M188 84.5h1M193 84.5h1M197 84.5h1M163 85.5h1M184 85.5h1M187 85.5h1M192 85.5h1M165 86.5h1M191 86.5h1M194 86.5h1M200 86.5h1M191 87.5h1M194 87.5h1M199 87.5h1M194 88.5h1M197 88.5h1M199 88.5h1M193 89.5h1M195 89.5h1M189 90.5h1M191 90.5h1M196 90.5h1M200 90.5h1M204 90.5h1M163 91.5h1M195 91.5h1M192 92.5h1M195 92.5h1M205 92.5h1M192 93.5h1M195 93.5h1M199 93.5h1M200 93.5h1M205 93.5h1M187 94.5h1M198 94.5h1M187 95.5h1M194 95.5h1M199 95.5h1M187 96.5h1M189 96.5h1M197 96.5h1M202 96.5h1M192 97.5h1M196 97.5h1M192 98.5h1M166 99.5h1M184 99.5h1M194 99.5h1M196 99.5h1M197 99.5h1M202 99.5h1M187 100.5h1M201 100.5h1M163 101.5h1M176 101.5h1M189 102.5h1M176 103.5h1M187 103.5h1M168 104.5h1M169 104.5h1M176 104.5h1M177 104.5h1M169 105.5h1M178 105.5h1M163 106.5h1M164 106.5h1M167 106.5h1M169 106.5h1M171 106.5h1M174 106.5h1M177 106.5h1M189 106.5h1M197 106.5h1M166 107.5h1M170 107.5h1M172 107.5h1M174 107.5h1M185 107.5h1M164 108.5h1M171 108.5h1M173 108.5h1M187 108.5h1M164 109.5h1M172 109.5h1M163 110.5h1M174 110.5h1M175 110.5h1M176 110.5h1M178 110.5h1M179 110.5h1M170 111.5h1M173 111.5h1M176 111.5h1M165 112.5h1M172 112.5h1M180 113.5h1M174 114.5h1" stroke="#a8a8a8" stroke-width="1" fill="none" shape-rendering="crispEdges" filter="url(#bl)"/>
<path d="M171 50.5h1M173 51.5h1M180 51.5h1M186 51.5h1M172 52.5h1M179 52.5h1M177 53.5h1M178 53.5h1M180 53.5h1M181 53.5h1M183 53.5h1M166 54.5h1M169 54.5h1M171 54.5h1M174 54.5h1M179 54.5h1M168 55.5h1M169 55.5h1M173 55.5h1M174 55.5h1M177 55.5h1M180 55.5h1M183 55.5h1M184 55.5h1M186 55.5h1M188 55.5h1M163 56.5h1M171 56.5h1M172 56.5h1M175 56.5h1M177 56.5h1M182 56.5h1M163 57.5h1M164 57.5h1M165 57.5h1M166 57.5h1M168 57.5h1M169 57.5h1M177 57.5h1M178 57.5h1M179 57.5h1M182 57.5h1M184 57.5h1M166 58.5h1M170 58.5h1M173 58.5h1M175 58.5h1M179 58.5h1M181 58.5h1M184 58.5h1M185 58.5h1M189 58.5h1M190 58.5h1M168 59.5h1M169 59.5h1M170 59.5h1M173 59.5h1M178 59.5h1M179 59.5h1M181 59.5h1M184 59.5h1M185 59.5h1M187 59.5h1M195 59.5h1M164 60.5h1M165 60.5h1M166 60.5h1M167 60.5h1M173 60.5h1M176 60.5h1M180 60.5h1M181 60.5h1M183 60.5h1M184 60.5h1M189 60.5h1M192 60.5h1M171 61.5h1M174 61.5h1M177 61.5h1M179 61.5h1M180 61.5h1M181 61.5h1M182 61.5h1M183 61.5h1M184 61.5h1M188 61.5h1M189 61.5h1M163 62.5h1M170 62.5h1M171 62.5h1M173 62.5h1M177 62.5h1M179 62.5h1M181 62.5h1M190 62.5h1M167 63.5h1M169 63.5h1M176 63.5h1M184 63.5h1M185 63.5h1M188 63.5h1M190 63.5h1M165 64.5h1M166 64.5h1M168 64.5h1M173 64.5h1M174 64.5h1M175 64.5h1M185 64.5h1M189 64.5h1M190 64.5h1M192 64.5h1M164 65.5h1M166 65.5h1M168 65.5h1M173 65.5h1M183 65.5h1M185 65.5h1M165 66.5h1M166 66.5h1M168 66.5h1M176 66.5h1M179 66.5h1M182 66.5h1M183 66.5h1M187 66.5h1M195 66.5h1M167 67.5h1M168 67.5h1M170 67.5h1M174 67.5h1M175 67.5h1M184 67.5h1M185 67.5h1M186 67.5h1M165 68.5h1M167 68.5h1M168 68.5h1M169 68.5h1M181 68.5h1M189 68.5h1M166 69.5h1M170 69.5h1M173 69.5h1M176 69.5h1M179 69.5h1M183 69.5h1M188 69.5h1M195 69.5h1M163 70.5h1M164 70.5h1M171 70.5h1M173 70.5h1M180 70.5h1M181 70.5h1M182 70.5h1M185 70.5h1M186 70.5h1M187 70.5h1M166 71.5h1M171 71.5h1M175 71.5h1M185 71.5h1M187 71.5h1M188 71.5h1M192 71.5h1M165 72.5h1M174 72.5h1M176 72.5h1M178 72.5h1M180 72.5h1M184 72.5h1M185 72.5h1M187 72.5h1M164 73.5h1M165 73.5h1M169 73.5h1M173 73.5h1M174 73.5h1M178 73.5h1M179 73.5h1M181 73.5h1M168 74.5h1M172 74.5h1M174 74.5h1M178 74.5h1M180 74.5h1M183 74.5h1M186 74.5h1M189 74.5h1M214 74.5h1M173 75.5h1M174 75.5h1M176 75.5h1M177 75.5h1M179 75.5h1M183 75.5h1M184 75.5h1M193 75.5h1M164 76.5h1M175 76.5h1M177 76.5h1M179 76.5h1M182 76.5h1M184 76.5h1M187 76.5h1M165 77.5h1M170 77.5h1M176 77.5h1M182 77.5h1M186 77.5h1M167 78.5h1M172 78.5h1M176 78.5h1M180 78.5h1M181 78.5h1M184 78.5h1M218 78.5h1M230 78.5h1M167 79.5h1M169 79.5h1M172 79.5h1M177 79.5h1M184 79.5h1M222 79.5h1M241 79.5h1M164 80.5h1M170 80.5h1M175 80.5h1M179 80.5h1M211 80.5h1M217 80.5h1M221 80.5h1M224 80.5h1M167 81.5h1M179 81.5h1M181 81.5h1M186 81.5h1M204 81.5h1M218 81.5h1M223 81.5h1M236 81.5h1M240 81.5h1M163 82.5h1M167 82.5h1M171 82.5h1M179 82.5h1M180 82.5h1M181 82.5h1M183 82.5h1M186 82.5h1M190 82.5h1M206 82.5h1M216 82.5h1M225 82.5h1M165 83.5h1M167 83.5h1M168 83.5h1M181 83.5h1M183 83.5h1M191 83.5h1M211 83.5h1M218 83.5h1M226 83.5h1M227 83.5h1M233 83.5h1M245 83.5h1M163 84.5h1M164 84.5h1M166 84.5h1M172 84.5h1M181 84.5h1M182 84.5h1M194 84.5h1M196 84.5h1M204 84.5h1M211 84.5h1M212 84.5h1M216 84.5h1M221 84.5h1M225 84.5h1M227 84.5h1M229 84.5h1M230 84.5h1M231 84.5h1M244 84.5h1M164 85.5h1M170 85.5h1M177 85.5h1M181 85.5h1M185 85.5h1M188 85.5h1M205 85.5h1M212 85.5h1M213 85.5h1M215 85.5h1M219 85.5h1M229 85.5h1M233 85.5h1M163 86.5h1M175 86.5h1M179 86.5h1M195 86.5h1M196 86.5h1M208 86.5h1M209 86.5h1M210 86.5h1M215 86.5h1M216 86.5h1M221 86.5h1M222 86.5h1M224 86.5h1M227 86.5h1M229 86.5h1M235 86.5h1M237 86.5h1M240 86.5h1M168 87.5h1M186 87.5h1M197 87.5h1M200 87.5h1M201 87.5h1M203 87.5h1M204 87.5h1M208 87.5h1M219 87.5h1M228 87.5h1M229 87.5h1M231 87.5h1M233 87.5h1M234 87.5h1M239 87.5h1M243 87.5h1M246 87.5h1M163 88.5h1M191 88.5h1M192 88.5h1M198 88.5h1M204 88.5h1M211 88.5h1M212 88.5h1M216 88.5h1M224 88.5h1M225 88.5h1M226 88.5h1M227 88.5h1M228 88.5h1M230 88.5h1M234 88.5h1M236 88.5h1M237 88.5h1M242 88.5h1M244 88.5h1M186 89.5h1M187 89.5h1M188 89.5h1M196 89.5h1M199 89.5h1M205 89.5h1M208 89.5h1M214 89.5h1M216 89.5h1M217 89.5h1M218 89.5h1M220 89.5h1M222 89.5h1M228 89.5h1M230 89.5h1M233 89.5h1M235 89.5h1M165 90.5h1M188 90.5h1M192 90.5h1M198 90.5h1M202 90.5h1M206 90.5h1M208 90.5h1M210 90.5h1M211 90.5h1M212 90.5h1M219 90.5h1M222 90.5h1M224 90.5h1M231 90.5h1M236 90.5h1M238 90.5h1M239 90.5h1M246 90.5h1M185 91.5h1M186 91.5h1M189 91.5h1M192 91.5h1M196 91.5h1M197 91.5h1M206 91.5h1M208 91.5h1M212 91.5h1M218 91.5h1M219 91.5h1M221 91.5h1M224 91.5h1M226 91.5h1M228 91.5h1M229 91.5h1M230 91.5h1M236 91.5h1M238 91.5h1M191 92.5h1M204 92.5h1M210 92.5h1M213 92.5h1M214 92.5h1M217 92.5h1M218 92.5h1M220 92.5h1M224 92.5h1M238 92.5h1M240 92.5h1M246 92.5h1M184 93.5h1M188 93.5h1M189 93.5h1M201 93.5h1M203 93.5h1M206 93.5h1M213 93.5h1M216 93.5h1M221 93.5h1M222 93.5h1M230 93.5h1M235 93.5h1M240 93.5h1M180 94.5h1M190 94.5h1M208 94.5h1M209 94.5h1M211 94.5h1M217 94.5h1M218 94.5h1M219 94.5h1M223 94.5h1M225 94.5h1M228 94.5h1M230 94.5h1M242 94.5h1M163 95.5h1M185 95.5h1M202 95.5h1M206 95.5h1M207 95.5h1M208 95.5h1M210 95.5h1M215 95.5h1M218 95.5h1M221 95.5h1M225 95.5h1M228 95.5h1M229 95.5h1M233 95.5h1M234 95.5h1M235 95.5h1M236 95.5h1M237 95.5h1M238 95.5h1M241 95.5h1M244 95.5h1M163 96.5h1M167 96.5h1M188 96.5h1M196 96.5h1M201 96.5h1M204 96.5h1M206 96.5h1M211 96.5h1M212 96.5h1M215 96.5h1M219 96.5h1M222 96.5h1M224 96.5h1M227 96.5h1M231 96.5h1M232 96.5h1M235 96.5h1M236 96.5h1M185 97.5h1M186 97.5h1M191 97.5h1M197 97.5h1M203 97.5h1M210 97.5h1M211 97.5h1M222 97.5h1M227 97.5h1M234 97.5h1M164 98.5h1M179 98.5h1M183 98.5h1M185 98.5h1M189 98.5h1M193 98.5h1M201 98.5h1M202 98.5h1M209 98.5h1M215 98.5h1M219 98.5h1M224 98.5h1M230 98.5h1M236 98.5h1M241 98.5h1M179 99.5h1M183 99.5h1M186 99.5h1M187 99.5h1M199 99.5h1M210 99.5h1M214 99.5h1M220 99.5h1M229 99.5h1M237 99.5h1M165 100.5h1M167 100.5h1M169 100.5h1M170 100.5h1M174 100.5h1M176 100.5h1M178 100.5h1M181 100.5h1M199 100.5h1M200 100.5h1M202 100.5h1M214 100.5h1M223 100.5h1M239 100.5h1M169 101.5h1M170 101.5h1M179 101.5h1M181 101.5h1M182 101.5h1M184 101.5h1M186 101.5h1M229 101.5h1M163 102.5h1M165 102.5h1M172 102.5h1M176 102.5h1M177 102.5h1M180 102.5h1M183 102.5h1M184 102.5h1M213 102.5h1M216 102.5h1M219 102.5h1M228 102.5h1M163 103.5h1M173 103.5h1M174 103.5h1M183 103.5h1M237 103.5h1M165 104.5h1M166 104.5h1M174 104.5h1M178 104.5h1M179 104.5h1M229 104.5h1M175 105.5h1M176 105.5h1M180 105.5h1M183 105.5h1M184 105.5h1M217 105.5h1M175 106.5h1M196 106.5h1M175 107.5h1M176 109.5h1M178 109.5h1M207 110.5h1M171 113.5h1" stroke="#787878" stroke-width="1" fill="none" shape-rendering="crispEdges" filter="url(#bl)"/>
<path d="M177 74.5h1" stroke="#606060" stroke-width="1" fill="none" shape-rendering="crispEdges" filter="url(#bl)"/>
<path d="M183 72.5h1M183 73.5h1M171 74.5h1M173 74.5h1M175 74.5h1M179 74.5h1M187 74.5h1M172 75.5h1M178 75.5h1M176 76.5h1M179 77.5h1M176 79.5h1M178 79.5h1M176 80.5h1M175 81.5h1M178 81.5h1M170 83.5h1M173 83.5h1M167 84.5h1M185 84.5h1M179 85.5h1M178 86.5h1M186 86.5h1M197 86.5h1M183 87.5h1M196 87.5h1M185 88.5h1M196 88.5h1M190 90.5h1M201 90.5h1M187 92.5h1M191 94.5h1M181 95.5h1M196 95.5h1M165 97.5h1M166 97.5h1M163 98.5h1M166 98.5h1M168 100.5h1M177 100.5h1M183 100.5h1M164 101.5h1M165 101.5h1M167 101.5h1M180 101.5h1M185 101.5h1M187 101.5h1M164 102.5h1M175 102.5h1M178 102.5h1M185 102.5h1M169 103.5h1M178 103.5h1M181 103.5h1M170 104.5h1M180 104.5h1M170 105.5h1M165 106.5h1M165 107.5h1M167 107.5h1M174 108.5h1" stroke="#484848" stroke-width="1" fill="none" shape-rendering="crispEdges" filter="url(#bl)"/>
<path d="M183 54.5h1M171 55.5h1M187 55.5h1M179 56.5h1M172 57.5h1M174 57.5h1M175 57.5h1M186 57.5h1M176 58.5h1M188 58.5h1M175 59.5h1M176 59.5h1M183 59.5h1M168 60.5h1M169 60.5h1M170 60.5h1M172 60.5h1M178 60.5h1M188 60.5h1M163 61.5h1M168 61.5h1M169 61.5h1M170 61.5h1M175 61.5h1M176 61.5h1M178 61.5h1M185 61.5h1M187 61.5h1M166 62.5h1M172 62.5h1M178 62.5h1M183 62.5h1M186 62.5h1M188 62.5h1M164 63.5h1M166 63.5h1M173 63.5h1M178 63.5h1M181 63.5h1M167 64.5h1M170 64.5h1M169 65.5h1M176 65.5h1M182 65.5h1M184 65.5h1M171 66.5h1M172 66.5h1M174 66.5h1M190 66.5h1M173 67.5h1M180 67.5h1M170 68.5h1M182 68.5h1M184 68.5h1M186 68.5h1M167 69.5h1M168 69.5h1M172 69.5h1M175 69.5h1M178 69.5h1M182 69.5h1M186 69.5h1M165 70.5h1M175 70.5h1M176 70.5h1M178 70.5h1M183 70.5h1M165 71.5h1M167 71.5h1M176 71.5h1M181 71.5h1M186 71.5h1M167 72.5h1M168 72.5h1M169 72.5h1M171 72.5h1M177 72.5h1M171 73.5h1M176 73.5h1M182 74.5h1M184 74.5h1M171 76.5h1M171 78.5h1M175 78.5h1M172 80.5h1M170 81.5h1M173 81.5h1M165 82.5h1M169 82.5h1M173 82.5h1M174 82.5h1M175 82.5h1M176 82.5h1M185 82.5h1M227 82.5h1M166 83.5h1M171 83.5h1M174 83.5h1M182 83.5h1M165 84.5h1M168 84.5h1M173 84.5h1M176 84.5h1M177 84.5h1M178 84.5h1M180 84.5h1M183 84.5h1M172 85.5h1M176 85.5h1M182 85.5h1M166 86.5h1M182 86.5h1M183 86.5h1M230 86.5h1M236 86.5h1M163 87.5h1M164 87.5h1M166 87.5h1M167 87.5h1M171 87.5h1M178 87.5h1M181 87.5h1M213 87.5h1M165 88.5h1M189 88.5h1M222 88.5h1M163 89.5h1M164 89.5h1M180 89.5h1M182 89.5h1M183 89.5h1M184 89.5h1M185 89.5h1M211 89.5h1M240 89.5h1M168 90.5h1M185 90.5h1M215 90.5h1M217 90.5h1M234 90.5h1M237 90.5h1M240 90.5h1M183 91.5h1M184 91.5h1M190 91.5h1M203 91.5h1M215 91.5h1M217 91.5h1M223 91.5h1M163 92.5h1M182 92.5h1M183 92.5h1M196 92.5h1M209 92.5h1M163 93.5h1M182 93.5h1M186 93.5h1M232 93.5h1M181 94.5h1M186 94.5h1M188 94.5h1M205 94.5h1M215 94.5h1M165 95.5h1M166 95.5h1M183 95.5h1M186 95.5h1M197 95.5h1M212 95.5h1M216 95.5h1M217 95.5h1M164 96.5h1M165 96.5h1M169 96.5h1M183 96.5h1M186 96.5h1M223 96.5h1M164 97.5h1M184 97.5h1M181 98.5h1M182 98.5h1M187 98.5h1M217 98.5h1M169 99.5h1M172 99.5h1M174 99.5h1M175 99.5h1M182 99.5h1M163 100.5h1M166 100.5h1M172 100.5h1M173 100.5h1M175 100.5h1M182 100.5h1M168 101.5h1M175 101.5h1M177 101.5h1M168 102.5h1M169 102.5h1M170 102.5h1M171 102.5h1M174 102.5h1M170 103.5h1M171 103.5h1M175 103.5h1M214 103.5h1M181 104.5h1M174 105.5h1" stroke="#303030" stroke-width="1" fill="none" shape-rendering="crispEdges" filter="url(#bl)"/>
<path d="M181 57.5h1M177 58.5h1M178 58.5h1M172 59.5h1M174 59.5h1M177 59.5h1M174 60.5h1M175 60.5h1M177 60.5h1M179 60.5h1M173 61.5h1M167 62.5h1M168 62.5h1M169 62.5h1M174 62.5h1M175 62.5h1M176 62.5h1M180 62.5h1M185 62.5h1M168 63.5h1M170 63.5h1M171 63.5h1M174 63.5h1M175 63.5h1M177 63.5h1M179 63.5h1M180 63.5h1M182 63.5h1M171 64.5h1M172 64.5h1M176 64.5h1M177 64.5h1M178 64.5h1M180 64.5h1M181 64.5h1M182 64.5h1M183 64.5h1M184 64.5h1M188 64.5h1M170 65.5h1M171 65.5h1M172 65.5h1M174 65.5h1M175 65.5h1M177 65.5h1M178 65.5h1M179 65.5h1M180 65.5h1M181 65.5h1M169 66.5h1M170 66.5h1M173 66.5h1M175 66.5h1M177 66.5h1M178 66.5h1M180 66.5h1M181 66.5h1M185 66.5h1M166 67.5h1M171 67.5h1M172 67.5h1M176 67.5h1M177 67.5h1M178 67.5h1M181 67.5h1M182 67.5h1M171 68.5h1M172 68.5h1M173 68.5h1M174 68.5h1M175 68.5h1M177 68.5h1M178 68.5h1M179 68.5h1M180 68.5h1M183 68.5h1M169 69.5h1M171 69.5h1M174 69.5h1M177 69.5h1M180 69.5h1M181 69.5h1M174 70.5h1M177 70.5h1M179 70.5h1M174 71.5h1M177 71.5h1M178 71.5h1M179 71.5h1M182 71.5h1M183 71.5h1M175 72.5h1M172 77.5h1M164 83.5h1M172 83.5h1M175 83.5h1M176 83.5h1M178 83.5h1M170 84.5h1M171 84.5h1M174 84.5h1M175 84.5h1M165 85.5h1M166 85.5h1M167 85.5h1M169 85.5h1M171 85.5h1M173 85.5h1M174 85.5h1M175 85.5h1M178 85.5h1M180 85.5h1M164 86.5h1M168 86.5h1M169 86.5h1M170 86.5h1M171 86.5h1M172 86.5h1M173 86.5h1M174 86.5h1M176 86.5h1M177 86.5h1M180 86.5h1M181 86.5h1M185 86.5h1M213 86.5h1M217 86.5h1M169 87.5h1M170 87.5h1M172 87.5h1M173 87.5h1M174 87.5h1M175 87.5h1M176 87.5h1M177 87.5h1M179 87.5h1M180 87.5h1M182 87.5h1M184 87.5h1M164 88.5h1M166 88.5h1M167 88.5h1M168 88.5h1M169 88.5h1M170 88.5h1M171 88.5h1M172 88.5h1M173 88.5h1M174 88.5h1M175 88.5h1M176 88.5h1M177 88.5h1M178 88.5h1M179 88.5h1M180 88.5h1M181 88.5h1M182 88.5h1M183 88.5h1M184 88.5h1M187 88.5h1M223 88.5h1M165 89.5h1M166 89.5h1M167 89.5h1M168 89.5h1M169 89.5h1M170 89.5h1M171 89.5h1M172 89.5h1M173 89.5h1M174 89.5h1M175 89.5h1M176 89.5h1M177 89.5h1M178 89.5h1M179 89.5h1M181 89.5h1M219 89.5h1M163 90.5h1M164 90.5h1M166 90.5h1M167 90.5h1M169 90.5h1M170 90.5h1M171 90.5h1M172 90.5h1M173 90.5h1M174 90.5h1M175 90.5h1M176 90.5h1M177 90.5h1M178 90.5h1M179 90.5h1M180 90.5h1M181 90.5h1M182 90.5h1M183 90.5h1M186 90.5h1M221 90.5h1M164 91.5h1M165 91.5h1M166 91.5h1M167 91.5h1M168 91.5h1M169 91.5h1M170 91.5h1M171 91.5h1M172 91.5h1M173 91.5h1M174 91.5h1M175 91.5h1M176 91.5h1M177 91.5h1M178 91.5h1M179 91.5h1M180 91.5h1M181 91.5h1M182 91.5h1M187 91.5h1M164 92.5h1M165 92.5h1M166 92.5h1M167 92.5h1M168 92.5h1M169 92.5h1M170 92.5h1M171 92.5h1M172 92.5h1M173 92.5h1M174 92.5h1M175 92.5h1M176 92.5h1M177 92.5h1M178 92.5h1M179 92.5h1M180 92.5h1M181 92.5h1M184 92.5h1M185 92.5h1M186 92.5h1M164 93.5h1M165 93.5h1M166 93.5h1M167 93.5h1M168 93.5h1M169 93.5h1M170 93.5h1M171 93.5h1M172 93.5h1M173 93.5h1M174 93.5h1M175 93.5h1M176 93.5h1M177 93.5h1M178 93.5h1M179 93.5h1M180 93.5h1M181 93.5h1M183 93.5h1M226 93.5h1M163 94.5h1M164 94.5h1M166 94.5h1M167 94.5h1M168 94.5h1M169 94.5h1M170 94.5h1M171 94.5h1M172 94.5h1M173 94.5h1M174 94.5h1M175 94.5h1M176 94.5h1M177 94.5h1M178 94.5h1M179 94.5h1M182 94.5h1M183 94.5h1M184 94.5h1M164 95.5h1M167 95.5h1M168 95.5h1M169 95.5h1M170 95.5h1M171 95.5h1M172 95.5h1M173 95.5h1M174 95.5h1M175 95.5h1M176 95.5h1M177 95.5h1M178 95.5h1M179 95.5h1M180 95.5h1M182 95.5h1M184 95.5h1M189 95.5h1M166 96.5h1M168 96.5h1M170 96.5h1M171 96.5h1M172 96.5h1M173 96.5h1M174 96.5h1M175 96.5h1M176 96.5h1M177 96.5h1M178 96.5h1M179 96.5h1M180 96.5h1M181 96.5h1M182 96.5h1M184 96.5h1M167 97.5h1M168 97.5h1M169 97.5h1M170 97.5h1M171 97.5h1M172 97.5h1M173 97.5h1M174 97.5h1M175 97.5h1M176 97.5h1M177 97.5h1M178 97.5h1M179 97.5h1M180 97.5h1M181 97.5h1M182 97.5h1M183 97.5h1M165 98.5h1M167 98.5h1M168 98.5h1M169 98.5h1M170 98.5h1M171 98.5h1M172 98.5h1M173 98.5h1M174 98.5h1M175 98.5h1M176 98.5h1M177 98.5h1M180 98.5h1M165 99.5h1M167 99.5h1M168 99.5h1M170 99.5h1M171 99.5h1M173 99.5h1M176 99.5h1M177 99.5h1M178 99.5h1M180 99.5h1M181 99.5h1M171 100.5h1M179 100.5h1M180 100.5h1M166 101.5h1M171 101.5h1M172 101.5h1M173 101.5h1M174 101.5h1M178 101.5h1M173 102.5h1M179 102.5h1M172 106.5h1" stroke="#181818" stroke-width="1" fill="none" shape-rendering="crispEdges" filter="url(#bl)"/>
<rect x="161.80" y="27.00" width="88.30" height="88.00" fill="none" stroke="#7c7c7c" stroke-width="1.25"/>
<rect x="162.60" y="45.30" width="33.80" height="32.70" fill="none" stroke="#6e6e6e" stroke-width="1.1"/>
<rect x="196.00" y="78.00" width="51.20" height="36.00" fill="none" stroke="#6e6e6e" stroke-width="1.1"/>
<rect x="163.50" y="78.60" width="31.90" height="34.80" fill="none" stroke="#6e6e6e" stroke-width="1.0"/>
<path d="M248.2 30.0V80" stroke="#999" stroke-width="0.9" stroke-dasharray="1.2 0.8" fill="none"/>
<text x="162.10" y="123.40" font-size="4.2" text-anchor="middle" fill="#111" stroke="#111" stroke-width="0.15" font-family='"Liberation Sans", sans-serif'>10<tspan font-size="2.60" dy="-1.6">0</tspan></text>
<text x="184.18" y="123.40" font-size="4.2" text-anchor="middle" fill="#111" stroke="#111" stroke-width="0.15" font-family='"Liberation Sans", sans-serif'>10<tspan font-size="2.60" dy="-1.6">1</tspan></text>
<text x="206.25" y="123.40" font-size="4.2" text-anchor="middle" fill="#111" stroke="#111" stroke-width="0.15" font-family='"Liberation Sans", sans-serif'>10<tspan font-size="2.60" dy="-1.6">2</tspan></text>
<text x="228.33" y="123.40" font-size="4.2" text-anchor="middle" fill="#111" stroke="#111" stroke-width="0.15" font-family='"Liberation Sans", sans-serif'>10<tspan font-size="2.60" dy="-1.6">3</tspan></text>
<text x="250.40" y="123.40" font-size="4.2" text-anchor="middle" fill="#111" stroke="#111" stroke-width="0.15" font-family='"Liberation Sans", sans-serif'>10<tspan font-size="2.60" dy="-1.6">4</tspan></text>
<text x="158.20" y="116.50" font-size="4.2" text-anchor="end" fill="#111" stroke="#111" stroke-width="0.15" font-family='"Liberation Sans", sans-serif'>10<tspan font-size="2.60" dy="-1.6">0</tspan></text>
<text x="158.20" y="94.50" font-size="4.2" text-anchor="end" fill="#111" stroke="#111" stroke-width="0.15" font-family='"Liberation Sans", sans-serif'>10<tspan font-size="2.60" dy="-1.6">1</tspan></text>
<text x="158.20" y="72.50" font-size="4.2" text-anchor="end" fill="#111" stroke="#111" stroke-width="0.15" font-family='"Liberation Sans", sans-serif'>10<tspan font-size="2.60" dy="-1.6">2</tspan></text>
<text x="158.20" y="50.50" font-size="4.2" text-anchor="end" fill="#111" stroke="#111" stroke-width="0.15" font-family='"Liberation Sans", sans-serif'>10<tspan font-size="2.60" dy="-1.6">3</tspan></text>
<text x="158.20" y="28.50" font-size="4.2" text-anchor="end" fill="#111" stroke="#111" stroke-width="0.15" font-family='"Liberation Sans", sans-serif'>10<tspan font-size="2.60" dy="-1.6">4</tspan></text>
<path d="M161.80 115.00v1.6M161.80 115.00h-1.6M168.45 115.00v0.9M161.80 108.38h-0.9M172.33 115.00v0.9M161.80 104.50h-0.9M175.09 115.00v0.9M161.80 101.75h-0.9M177.23 115.00v0.9M161.80 99.62h-0.9M178.98 115.00v0.9M161.80 97.88h-0.9M180.46 115.00v0.9M161.80 96.41h-0.9M181.74 115.00v0.9M161.80 95.13h-0.9M182.86 115.00v0.9M161.80 94.01h-0.9M183.88 115.00v1.6M161.80 93.00h-1.6M190.52 115.00v0.9M161.80 86.38h-0.9M194.41 115.00v0.9M161.80 82.50h-0.9M197.17 115.00v0.9M161.80 79.75h-0.9M199.30 115.00v0.9M161.80 77.62h-0.9M201.05 115.00v0.9M161.80 75.88h-0.9M202.53 115.00v0.9M161.80 74.41h-0.9M203.81 115.00v0.9M161.80 73.13h-0.9M204.94 115.00v0.9M161.80 72.01h-0.9M205.95 115.00v1.6M161.80 71.00h-1.6M212.60 115.00v0.9M161.80 64.38h-0.9M216.48 115.00v0.9M161.80 60.50h-0.9M219.24 115.00v0.9M161.80 57.75h-0.9M221.38 115.00v0.9M161.80 55.62h-0.9M223.13 115.00v0.9M161.80 53.88h-0.9M224.61 115.00v0.9M161.80 52.41h-0.9M225.89 115.00v0.9M161.80 51.13h-0.9M227.01 115.00v0.9M161.80 50.01h-0.9M228.03 115.00v1.6M161.80 49.00h-1.6M234.67 115.00v0.9M161.80 42.38h-0.9M238.56 115.00v0.9M161.80 38.50h-0.9M241.32 115.00v0.9M161.80 35.75h-0.9M243.45 115.00v0.9M161.80 33.62h-0.9M245.20 115.00v0.9M161.80 31.88h-0.9M246.68 115.00v0.9M161.80 30.41h-0.9M247.96 115.00v0.9M161.80 29.13h-0.9M249.09 115.00v0.9M161.80 28.01h-0.9" stroke="#888" stroke-width="0.6" fill="none"/>
<text x="204.8" y="128.2" font-size="4.0" font-weight="bold" text-anchor="middle" fill="#111" font-family='"Liberation Sans", sans-serif'>FL2-H: Gamma Delta TCR PE</text>
<text x="163.60000000000002" y="34.8" font-size="8.3" text-anchor="start" font-weight="normal" font-style="normal" fill="#000" font-family='"Liberation Sans", sans-serif'  stroke="#000" stroke-width="0.25">12.4</text>
<text x="244.20000000000002" y="112.5" font-size="8.3" text-anchor="end" font-weight="normal" font-style="normal" fill="#000" font-family='"Liberation Sans", sans-serif'  stroke="#000" stroke-width="0.25">4.94</text>
<path d="M305 36.5h1M318 44.5h1M306 49.5h1M321 51.5h1M324 51.5h1M309 52.5h1M326 52.5h1M343 52.5h1M310 53.5h1M312 53.5h1M298 54.5h1M285 55.5h1M305 55.5h1M306 55.5h1M312 55.5h1M302 56.5h1M309 56.5h1M311 56.5h1M308 57.5h1M325 57.5h1M303 58.5h1M314 58.5h1M328 58.5h1M310 59.5h1M311 59.5h1M299 60.5h1M301 60.5h1M316 60.5h1M319 60.5h1M309 61.5h1M334 61.5h1M296 62.5h1M309 62.5h1M321 62.5h1M303 63.5h1M308 63.5h1M318 63.5h1M319 63.5h1M303 64.5h1M304 64.5h1M311 64.5h1M314 64.5h1M317 64.5h1M319 64.5h1M325 64.5h1M302 65.5h1M306 65.5h1M307 66.5h1M325 66.5h1M342 67.5h1M305 68.5h1M326 68.5h1M315 69.5h1M307 70.5h1M309 70.5h1M310 70.5h1M313 70.5h1M314 70.5h1M325 70.5h1M303 71.5h1M312 72.5h1M312 73.5h1M317 74.5h1M322 74.5h1M308 75.5h1M315 77.5h1" stroke="#c0c0c0" stroke-width="1" fill="none" shape-rendering="crispEdges" filter="url(#bl)"/>
<path d="M280 48.5h1M291 48.5h1M270 52.5h1M288 52.5h1M276 53.5h1M286 53.5h1M311 53.5h1M276 54.5h1M280 54.5h1M300 54.5h1M279 55.5h1M283 55.5h1M287 55.5h1M295 55.5h1M296 55.5h1M279 56.5h1M289 56.5h1M292 56.5h1M295 56.5h1M297 56.5h1M301 57.5h1M291 58.5h1M300 58.5h1M301 59.5h1M313 59.5h1M270 60.5h1M297 61.5h1M325 62.5h1M302 63.5h1M312 63.5h1M300 64.5h1M302 64.5h1M310 64.5h1M297 65.5h1M271 66.5h1M298 66.5h1M303 66.5h1M297 67.5h1M300 67.5h1M296 68.5h1M271 69.5h1M295 69.5h1M271 70.5h1M275 70.5h1M276 70.5h1M285 70.5h1M289 70.5h1M293 70.5h1M294 70.5h1M296 70.5h1M306 70.5h1M278 71.5h1M285 71.5h1M286 71.5h1M287 71.5h1M289 71.5h1M302 71.5h1M306 71.5h1M276 72.5h1M280 72.5h1M288 72.5h1M289 72.5h1M291 72.5h1M293 72.5h1M294 72.5h1M297 72.5h1M301 72.5h1M271 73.5h1M275 73.5h1M286 73.5h1M289 73.5h1M290 73.5h1M291 73.5h1M293 73.5h1M294 73.5h1M295 73.5h1M274 74.5h1M275 74.5h1M278 74.5h1M281 74.5h1M282 74.5h1M284 74.5h1M286 74.5h1M289 74.5h1M291 74.5h1M293 74.5h1M295 74.5h1M273 75.5h1M274 75.5h1M275 75.5h1M276 75.5h1M278 75.5h1M282 75.5h1M285 75.5h1M288 75.5h1M289 75.5h1M294 75.5h1M270 76.5h1M272 76.5h1M274 76.5h1M279 76.5h1M288 76.5h1M295 76.5h1M299 76.5h1M270 77.5h1M272 77.5h1M273 77.5h1M278 77.5h1M281 77.5h1M289 77.5h1M277 78.5h1M278 78.5h1M285 78.5h1M286 78.5h1M289 78.5h1M293 78.5h1M272 79.5h1M273 79.5h1M276 79.5h1M278 79.5h1M286 79.5h1M292 79.5h1M293 79.5h1M298 79.5h1M302 79.5h1M305 79.5h1M270 80.5h1M294 80.5h1M273 81.5h1M276 81.5h1M293 81.5h1M294 81.5h1M298 81.5h1M278 83.5h1M292 83.5h1M293 83.5h1M295 83.5h1M298 83.5h1M293 84.5h1M272 86.5h1M295 86.5h1M296 86.5h1M298 86.5h1M295 87.5h1M297 87.5h1M296 88.5h1M296 89.5h1M298 89.5h1M270 90.5h1M272 90.5h1M297 90.5h1M299 90.5h1M273 91.5h1M273 92.5h1M274 92.5h1M294 92.5h1M295 92.5h1M270 93.5h1M274 93.5h1M291 93.5h1M293 93.5h1M272 94.5h1M273 94.5h1M275 94.5h1M290 94.5h1M291 94.5h1M293 94.5h1M296 94.5h1M297 94.5h1M303 94.5h1M270 95.5h1M271 95.5h1M290 95.5h1M296 95.5h1M270 96.5h1M271 96.5h1M274 96.5h1M275 96.5h1M277 96.5h1M291 96.5h1M293 96.5h1M294 96.5h1M298 96.5h1M275 97.5h1M279 97.5h1M283 97.5h1M296 97.5h1M272 98.5h1M279 98.5h1M273 99.5h1M275 99.5h1M277 99.5h1M283 99.5h1M284 99.5h1M286 99.5h1M289 99.5h1M291 99.5h1M295 99.5h1M272 100.5h1M279 100.5h1M284 100.5h1M285 100.5h1M286 100.5h1M288 100.5h1M290 100.5h1M301 100.5h1M270 101.5h1M274 101.5h1M275 101.5h1M277 101.5h1M278 101.5h1M279 101.5h1M281 101.5h1M282 101.5h1M284 101.5h1M285 101.5h1M290 101.5h1M292 101.5h1M298 101.5h1M300 101.5h1M301 101.5h1M270 102.5h1M271 102.5h1M276 102.5h1M277 102.5h1M281 102.5h1M288 102.5h1M289 102.5h1M298 102.5h1M275 103.5h1M276 103.5h1M279 103.5h1M282 103.5h1M287 103.5h1M288 103.5h1M273 104.5h1M274 104.5h1M280 104.5h1M282 104.5h1M286 104.5h1M299 104.5h1M300 104.5h1M274 105.5h1M275 105.5h1M279 105.5h1M281 105.5h1M284 105.5h1M285 105.5h1M286 105.5h1M296 105.5h1M275 106.5h1M276 106.5h1M278 106.5h1M281 106.5h1M287 106.5h1M289 106.5h1M293 106.5h1M271 107.5h1M277 107.5h1M283 107.5h1M287 107.5h1M290 107.5h1M294 107.5h1M296 107.5h1M272 108.5h1M278 108.5h1M284 108.5h1M285 108.5h1M291 108.5h1M294 108.5h1M273 109.5h1M280 109.5h1M281 109.5h1M285 109.5h1M290 109.5h1M295 109.5h1M270 110.5h1M275 110.5h1M278 110.5h1M279 110.5h1M287 110.5h1M288 110.5h1M272 111.5h1M279 111.5h1M283 111.5h1M287 111.5h1M288 111.5h1M277 112.5h1M281 112.5h1M282 112.5h1M292 112.5h1M295 112.5h1M280 113.5h1M281 113.5h1M284 113.5h1M289 113.5h1M282 114.5h1" stroke="#a8a8a8" stroke-width="1" fill="none" shape-rendering="crispEdges" filter="url(#bl)"/>
<path d="M291 56.5h1M307 60.5h1M309 60.5h1M300 65.5h1" stroke="#909090" stroke-width="1" fill="none" shape-rendering="crispEdges" filter="url(#bl)"/>
<path d="M281 53.5h1M283 53.5h1M275 54.5h1M278 54.5h1M289 54.5h1M277 55.5h1M280 55.5h1M281 55.5h1M282 55.5h1M284 55.5h1M286 55.5h1M292 55.5h1M297 55.5h1M271 56.5h1M278 56.5h1M283 56.5h1M285 56.5h1M287 56.5h1M288 56.5h1M290 56.5h1M275 57.5h1M276 57.5h1M285 57.5h1M287 57.5h1M294 57.5h1M298 57.5h1M296 58.5h1M270 59.5h1M294 59.5h1M270 62.5h1M295 62.5h1M297 62.5h1M270 63.5h1M295 63.5h1M298 63.5h1M297 64.5h1M272 65.5h1M274 65.5h1M293 65.5h1M298 65.5h1M270 66.5h1M294 66.5h1M297 66.5h1M300 66.5h1M270 67.5h1M302 67.5h1M275 68.5h1M277 68.5h1M288 68.5h1M291 68.5h1M295 68.5h1M270 69.5h1M272 69.5h1M280 69.5h1M272 70.5h1M287 70.5h1M290 70.5h1M276 71.5h1M284 71.5h1M288 71.5h1M291 71.5h1M277 72.5h1M278 72.5h1M281 72.5h1M282 72.5h1M283 72.5h1M285 72.5h1M299 72.5h1M277 73.5h1M279 73.5h1M281 73.5h1M283 73.5h1M287 73.5h1M288 73.5h1M271 74.5h1M277 74.5h1M279 74.5h1M285 74.5h1M292 74.5h1M279 75.5h1M283 75.5h1M292 75.5h1M295 75.5h1M319 75.5h1M276 76.5h1M278 76.5h1M286 76.5h1M287 76.5h1M290 76.5h1M275 77.5h1M282 77.5h1M284 77.5h1M286 77.5h1M292 77.5h1M300 77.5h1M271 78.5h1M272 78.5h1M273 78.5h1M275 78.5h1M276 78.5h1M279 78.5h1M281 78.5h1M282 78.5h1M290 78.5h1M291 78.5h1M274 79.5h1M275 79.5h1M277 79.5h1M280 79.5h1M281 79.5h1M282 79.5h1M288 79.5h1M306 79.5h1M323 79.5h1M273 80.5h1M277 80.5h1M280 80.5h1M282 80.5h1M290 80.5h1M298 80.5h1M284 81.5h1M285 81.5h1M288 81.5h1M290 81.5h1M292 81.5h1M296 81.5h1M310 81.5h1M312 81.5h1M333 81.5h1M278 82.5h1M291 82.5h1M299 82.5h1M272 83.5h1M280 83.5h1M290 83.5h1M297 83.5h1M306 83.5h1M271 84.5h1M273 84.5h1M274 84.5h1M294 84.5h1M295 84.5h1M296 84.5h1M310 84.5h1M322 84.5h1M270 85.5h1M271 85.5h1M276 85.5h1M295 85.5h1M307 85.5h1M321 85.5h1M275 86.5h1M293 86.5h1M310 86.5h1M313 86.5h1M319 86.5h1M324 86.5h1M272 87.5h1M273 87.5h1M278 87.5h1M316 87.5h1M318 87.5h1M324 87.5h1M326 87.5h1M327 87.5h1M330 87.5h1M336 87.5h1M339 87.5h1M348 87.5h1M272 88.5h1M275 88.5h1M310 88.5h1M311 88.5h1M333 88.5h1M273 89.5h1M276 89.5h1M292 89.5h1M299 89.5h1M301 89.5h1M310 89.5h1M330 89.5h1M273 90.5h1M301 90.5h1M306 90.5h1M310 90.5h1M312 90.5h1M313 90.5h1M315 90.5h1M322 90.5h1M323 90.5h1M326 90.5h1M272 91.5h1M275 91.5h1M278 91.5h1M292 91.5h1M293 91.5h1M294 91.5h1M297 91.5h1M306 91.5h1M314 91.5h1M315 91.5h1M316 91.5h1M317 91.5h1M318 91.5h1M320 91.5h1M334 91.5h1M335 91.5h1M336 91.5h1M341 91.5h1M299 92.5h1M302 92.5h1M305 92.5h1M311 92.5h1M313 92.5h1M316 92.5h1M318 92.5h1M319 92.5h1M324 92.5h1M327 92.5h1M271 93.5h1M277 93.5h1M278 93.5h1M295 93.5h1M300 93.5h1M316 93.5h1M321 93.5h1M322 93.5h1M327 93.5h1M333 93.5h1M270 94.5h1M274 94.5h1M281 94.5h1M292 94.5h1M300 94.5h1M302 94.5h1M306 94.5h1M309 94.5h1M313 94.5h1M316 94.5h1M319 94.5h1M321 94.5h1M329 94.5h1M344 94.5h1M272 95.5h1M281 95.5h1M289 95.5h1M298 95.5h1M301 95.5h1M305 95.5h1M315 95.5h1M320 95.5h1M329 95.5h1M335 95.5h1M337 95.5h1M273 96.5h1M285 96.5h1M292 96.5h1M296 96.5h1M311 96.5h1M329 96.5h1M333 96.5h1M334 96.5h1M337 96.5h1M278 97.5h1M286 97.5h1M290 97.5h1M291 97.5h1M293 97.5h1M304 97.5h1M306 97.5h1M307 97.5h1M313 97.5h1M314 97.5h1M315 97.5h1M316 97.5h1M339 97.5h1M276 98.5h1M282 98.5h1M284 98.5h1M288 98.5h1M291 98.5h1M293 98.5h1M298 98.5h1M301 98.5h1M324 98.5h1M326 98.5h1M329 98.5h1M334 98.5h1M337 98.5h1M274 99.5h1M278 99.5h1M285 99.5h1M290 99.5h1M296 99.5h1M305 99.5h1M313 99.5h1M316 99.5h1M320 99.5h1M324 99.5h1M327 99.5h1M335 99.5h1M287 100.5h1M293 100.5h1M295 100.5h1M304 100.5h1M311 100.5h1M312 100.5h1M320 100.5h1M322 100.5h1M326 100.5h1M332 100.5h1M334 100.5h1M349 100.5h1M280 101.5h1M297 101.5h1M304 101.5h1M316 101.5h1M320 101.5h1M329 101.5h1M330 101.5h1M343 101.5h1M345 101.5h1M275 102.5h1M280 102.5h1M282 102.5h1M285 102.5h1M303 102.5h1M308 102.5h1M309 102.5h1M316 102.5h1M317 102.5h1M318 102.5h1M321 102.5h1M329 102.5h1M331 102.5h1M338 102.5h1M349 102.5h1M272 103.5h1M278 103.5h1M280 103.5h1M283 103.5h1M289 103.5h1M298 103.5h1M305 103.5h1M310 103.5h1M313 103.5h1M336 103.5h1M338 103.5h1M275 104.5h1M278 104.5h1M279 104.5h1M281 104.5h1M283 104.5h1M291 104.5h1M292 104.5h1M308 104.5h1M310 104.5h1M273 105.5h1M276 105.5h1M277 105.5h1M317 105.5h1M302 106.5h1M274 107.5h1M286 107.5h1M311 107.5h1M321 107.5h1M277 108.5h1M316 108.5h1M302 109.5h1M312 109.5h1M284 110.5h1M299 110.5h1M313 110.5h1M320 110.5h1M309 114.5h1" stroke="#787878" stroke-width="1" fill="none" shape-rendering="crispEdges" filter="url(#bl)"/>
<path d="M304 61.5h1M301 62.5h1" stroke="#606060" stroke-width="1" fill="none" shape-rendering="crispEdges" filter="url(#bl)"/>
<path d="M287 53.5h1M281 54.5h1M283 54.5h1M288 55.5h1M290 55.5h1M276 56.5h1M281 56.5h1M282 56.5h1M272 57.5h1M277 57.5h1M278 57.5h1M282 57.5h1M290 57.5h1M291 57.5h1M271 58.5h1M296 60.5h1M270 61.5h1M272 61.5h1M300 61.5h1M299 62.5h1M298 64.5h1M295 65.5h1M296 66.5h1M291 67.5h1M292 67.5h1M294 67.5h1M296 67.5h1M274 69.5h1M279 69.5h1M281 69.5h1M289 69.5h1M290 69.5h1M274 70.5h1M279 70.5h1M272 71.5h1M277 71.5h1M281 71.5h1M292 71.5h1M286 72.5h1M290 72.5h1M272 73.5h1M273 73.5h1M276 73.5h1M278 73.5h1M282 73.5h1M284 73.5h1M276 74.5h1M288 74.5h1M272 75.5h1M281 75.5h1M282 76.5h1M284 76.5h1M291 76.5h1M276 77.5h1M277 77.5h1M280 77.5h1M287 77.5h1M288 77.5h1M284 78.5h1M279 79.5h1M275 80.5h1M283 80.5h1M292 80.5h1M286 81.5h1M277 82.5h1M271 83.5h1M273 83.5h1M277 83.5h1M275 84.5h1M274 85.5h1M284 85.5h1M296 85.5h1M270 86.5h1M274 87.5h1M270 89.5h1M275 90.5h1M291 90.5h1M293 90.5h1M272 92.5h1M289 94.5h1M295 94.5h1M278 95.5h1M286 95.5h1M294 95.5h1M303 95.5h1M272 96.5h1M290 96.5h1M280 97.5h1M285 97.5h1M287 97.5h1M289 97.5h1M278 98.5h1M281 98.5h1M276 99.5h1M279 99.5h1M287 99.5h1M276 100.5h1M278 100.5h1M282 100.5h1M289 100.5h1M272 101.5h1M288 101.5h1M289 101.5h1M272 102.5h1M283 102.5h1M286 103.5h1M284 104.5h1M287 104.5h1M275 109.5h1" stroke="#484848" stroke-width="1" fill="none" shape-rendering="crispEdges" filter="url(#bl)"/>
<path d="M270 55.5h1M278 55.5h1M273 56.5h1M284 56.5h1M279 57.5h1M281 57.5h1M283 57.5h1M276 58.5h1M277 58.5h1M288 58.5h1M290 58.5h1M274 59.5h1M276 59.5h1M284 59.5h1M286 59.5h1M293 59.5h1M272 60.5h1M274 60.5h1M295 60.5h1M294 61.5h1M296 61.5h1M271 62.5h1M298 62.5h1M293 63.5h1M296 63.5h1M297 63.5h1M272 64.5h1M294 64.5h1M296 64.5h1M273 65.5h1M292 65.5h1M274 66.5h1M295 66.5h1M272 67.5h1M273 67.5h1M290 67.5h1M293 67.5h1M276 68.5h1M290 68.5h1M294 68.5h1M275 69.5h1M276 69.5h1M277 69.5h1M282 69.5h1M284 69.5h1M285 69.5h1M286 69.5h1M291 69.5h1M293 69.5h1M278 70.5h1M280 70.5h1M282 70.5h1M283 70.5h1M286 70.5h1M288 70.5h1M282 71.5h1M290 71.5h1M279 72.5h1M274 73.5h1M277 75.5h1M280 76.5h1M285 76.5h1M283 77.5h1M290 77.5h1M280 78.5h1M284 79.5h1M285 79.5h1M279 80.5h1M281 80.5h1M286 80.5h1M287 80.5h1M275 81.5h1M282 81.5h1M283 81.5h1M287 81.5h1M289 81.5h1M274 82.5h1M279 82.5h1M283 82.5h1M287 82.5h1M289 82.5h1M292 82.5h1M274 83.5h1M275 83.5h1M276 83.5h1M291 83.5h1M276 84.5h1M278 84.5h1M290 84.5h1M272 85.5h1M275 85.5h1M312 85.5h1M277 86.5h1M279 86.5h1M288 86.5h1M289 86.5h1M292 86.5h1M271 87.5h1M275 87.5h1M287 87.5h1M291 87.5h1M296 87.5h1M311 87.5h1M273 88.5h1M289 88.5h1M291 88.5h1M292 88.5h1M297 88.5h1M318 88.5h1M272 89.5h1M288 89.5h1M290 89.5h1M291 89.5h1M293 89.5h1M274 90.5h1M276 90.5h1M289 90.5h1M290 90.5h1M309 90.5h1M277 91.5h1M288 91.5h1M295 91.5h1M276 92.5h1M280 92.5h1M286 92.5h1M290 92.5h1M291 92.5h1M292 92.5h1M293 92.5h1M272 93.5h1M276 93.5h1M290 93.5h1M292 93.5h1M310 93.5h1M312 93.5h1M277 94.5h1M286 94.5h1M326 94.5h1M275 95.5h1M276 95.5h1M283 95.5h1M288 95.5h1M317 95.5h1M328 95.5h1M276 96.5h1M279 96.5h1M280 96.5h1M282 96.5h1M288 96.5h1M289 96.5h1M318 96.5h1M319 96.5h1M276 97.5h1M277 97.5h1M284 97.5h1M288 97.5h1M311 97.5h1M277 98.5h1M280 98.5h1M285 98.5h1M317 98.5h1M282 99.5h1M317 99.5h1M280 100.5h1M317 101.5h1M312 102.5h1" stroke="#303030" stroke-width="1" fill="none" shape-rendering="crispEdges" filter="url(#bl)"/>
<path d="M273 57.5h1M274 57.5h1M280 57.5h1M284 57.5h1M288 57.5h1M275 58.5h1M278 58.5h1M279 58.5h1M280 58.5h1M281 58.5h1M282 58.5h1M283 58.5h1M284 58.5h1M285 58.5h1M286 58.5h1M287 58.5h1M289 58.5h1M292 58.5h1M293 58.5h1M294 58.5h1M271 59.5h1M272 59.5h1M273 59.5h1M275 59.5h1M277 59.5h1M278 59.5h1M279 59.5h1M280 59.5h1M281 59.5h1M282 59.5h1M283 59.5h1M285 59.5h1M287 59.5h1M288 59.5h1M289 59.5h1M290 59.5h1M291 59.5h1M292 59.5h1M273 60.5h1M275 60.5h1M276 60.5h1M277 60.5h1M278 60.5h1M279 60.5h1M280 60.5h1M281 60.5h1M282 60.5h1M283 60.5h1M284 60.5h1M285 60.5h1M286 60.5h1M287 60.5h1M288 60.5h1M289 60.5h1M290 60.5h1M291 60.5h1M292 60.5h1M293 60.5h1M294 60.5h1M271 61.5h1M273 61.5h1M274 61.5h1M275 61.5h1M276 61.5h1M277 61.5h1M278 61.5h1M279 61.5h1M280 61.5h1M281 61.5h1M282 61.5h1M283 61.5h1M284 61.5h1M285 61.5h1M286 61.5h1M287 61.5h1M288 61.5h1M289 61.5h1M290 61.5h1M291 61.5h1M292 61.5h1M293 61.5h1M272 62.5h1M273 62.5h1M274 62.5h1M275 62.5h1M276 62.5h1M277 62.5h1M278 62.5h1M279 62.5h1M280 62.5h1M281 62.5h1M282 62.5h1M283 62.5h1M284 62.5h1M285 62.5h1M286 62.5h1M287 62.5h1M288 62.5h1M289 62.5h1M290 62.5h1M291 62.5h1M292 62.5h1M293 62.5h1M294 62.5h1M271 63.5h1M272 63.5h1M273 63.5h1M274 63.5h1M275 63.5h1M276 63.5h1M277 63.5h1M278 63.5h1M279 63.5h1M280 63.5h1M281 63.5h1M282 63.5h1M283 63.5h1M284 63.5h1M285 63.5h1M286 63.5h1M287 63.5h1M288 63.5h1M289 63.5h1M290 63.5h1M291 63.5h1M292 63.5h1M294 63.5h1M270 64.5h1M271 64.5h1M273 64.5h1M274 64.5h1M275 64.5h1M276 64.5h1M277 64.5h1M278 64.5h1M279 64.5h1M280 64.5h1M281 64.5h1M282 64.5h1M283 64.5h1M284 64.5h1M285 64.5h1M286 64.5h1M287 64.5h1M288 64.5h1M289 64.5h1M290 64.5h1M291 64.5h1M292 64.5h1M293 64.5h1M295 64.5h1M275 65.5h1M276 65.5h1M277 65.5h1M278 65.5h1M279 65.5h1M280 65.5h1M281 65.5h1M282 65.5h1M283 65.5h1M284 65.5h1M285 65.5h1M286 65.5h1M287 65.5h1M288 65.5h1M289 65.5h1M290 65.5h1M291 65.5h1M294 65.5h1M296 65.5h1M272 66.5h1M273 66.5h1M275 66.5h1M276 66.5h1M277 66.5h1M278 66.5h1M279 66.5h1M280 66.5h1M281 66.5h1M282 66.5h1M283 66.5h1M284 66.5h1M285 66.5h1M286 66.5h1M287 66.5h1M288 66.5h1M289 66.5h1M290 66.5h1M291 66.5h1M292 66.5h1M293 66.5h1M274 67.5h1M275 67.5h1M276 67.5h1M277 67.5h1M278 67.5h1M279 67.5h1M280 67.5h1M281 67.5h1M282 67.5h1M283 67.5h1M284 67.5h1M285 67.5h1M286 67.5h1M287 67.5h1M288 67.5h1M289 67.5h1M272 68.5h1M274 68.5h1M278 68.5h1M279 68.5h1M280 68.5h1M281 68.5h1M282 68.5h1M283 68.5h1M284 68.5h1M285 68.5h1M286 68.5h1M287 68.5h1M289 68.5h1M292 68.5h1M283 69.5h1M287 69.5h1M288 69.5h1M280 73.5h1M283 74.5h1M280 75.5h1M284 75.5h1M283 78.5h1M283 79.5h1M278 80.5h1M284 80.5h1M285 80.5h1M278 81.5h1M279 81.5h1M280 81.5h1M280 82.5h1M281 82.5h1M282 82.5h1M284 82.5h1M285 82.5h1M286 82.5h1M288 82.5h1M290 82.5h1M279 83.5h1M281 83.5h1M282 83.5h1M283 83.5h1M284 83.5h1M285 83.5h1M286 83.5h1M287 83.5h1M288 83.5h1M289 83.5h1M277 84.5h1M279 84.5h1M280 84.5h1M281 84.5h1M282 84.5h1M283 84.5h1M284 84.5h1M285 84.5h1M286 84.5h1M287 84.5h1M288 84.5h1M289 84.5h1M277 85.5h1M278 85.5h1M279 85.5h1M280 85.5h1M281 85.5h1M282 85.5h1M283 85.5h1M285 85.5h1M286 85.5h1M287 85.5h1M288 85.5h1M289 85.5h1M290 85.5h1M291 85.5h1M292 85.5h1M293 85.5h1M276 86.5h1M278 86.5h1M280 86.5h1M281 86.5h1M282 86.5h1M283 86.5h1M284 86.5h1M285 86.5h1M286 86.5h1M287 86.5h1M290 86.5h1M291 86.5h1M294 86.5h1M276 87.5h1M277 87.5h1M279 87.5h1M280 87.5h1M281 87.5h1M282 87.5h1M283 87.5h1M284 87.5h1M285 87.5h1M286 87.5h1M288 87.5h1M289 87.5h1M290 87.5h1M292 87.5h1M294 87.5h1M274 88.5h1M276 88.5h1M277 88.5h1M278 88.5h1M279 88.5h1M280 88.5h1M281 88.5h1M282 88.5h1M283 88.5h1M284 88.5h1M285 88.5h1M286 88.5h1M287 88.5h1M288 88.5h1M290 88.5h1M274 89.5h1M275 89.5h1M277 89.5h1M278 89.5h1M279 89.5h1M280 89.5h1M281 89.5h1M282 89.5h1M283 89.5h1M284 89.5h1M285 89.5h1M286 89.5h1M287 89.5h1M289 89.5h1M277 90.5h1M278 90.5h1M279 90.5h1M280 90.5h1M281 90.5h1M282 90.5h1M283 90.5h1M284 90.5h1M285 90.5h1M286 90.5h1M287 90.5h1M288 90.5h1M292 90.5h1M276 91.5h1M279 91.5h1M280 91.5h1M281 91.5h1M282 91.5h1M283 91.5h1M284 91.5h1M285 91.5h1M286 91.5h1M287 91.5h1M289 91.5h1M290 91.5h1M291 91.5h1M275 92.5h1M277 92.5h1M278 92.5h1M279 92.5h1M281 92.5h1M282 92.5h1M283 92.5h1M284 92.5h1M285 92.5h1M287 92.5h1M288 92.5h1M289 92.5h1M279 93.5h1M280 93.5h1M281 93.5h1M282 93.5h1M283 93.5h1M284 93.5h1M285 93.5h1M286 93.5h1M287 93.5h1M288 93.5h1M289 93.5h1M276 94.5h1M279 94.5h1M280 94.5h1M282 94.5h1M283 94.5h1M284 94.5h1M285 94.5h1M287 94.5h1M288 94.5h1M274 95.5h1M279 95.5h1M280 95.5h1M282 95.5h1M284 95.5h1M285 95.5h1M287 95.5h1M281 96.5h1M283 96.5h1M284 96.5h1M286 96.5h1M287 96.5h1M282 97.5h1M286 98.5h1M281 99.5h1" stroke="#181818" stroke-width="1" fill="none" shape-rendering="crispEdges" filter="url(#bl)"/>
<rect x="268.30" y="27.00" width="88.30" height="88.00" fill="none" stroke="#7c7c7c" stroke-width="1.25"/>
<rect x="269.10" y="45.30" width="33.80" height="32.70" fill="none" stroke="#6e6e6e" stroke-width="1.1"/>
<rect x="302.50" y="78.00" width="51.20" height="36.00" fill="none" stroke="#6e6e6e" stroke-width="1.1"/>
<rect x="270.00" y="78.60" width="31.90" height="34.80" fill="none" stroke="#6e6e6e" stroke-width="1.0"/>
<path d="M354.7 30.0V80" stroke="#999" stroke-width="0.9" stroke-dasharray="1.2 0.8" fill="none"/>
<text x="268.60" y="123.40" font-size="4.2" text-anchor="middle" fill="#111" stroke="#111" stroke-width="0.15" font-family='"Liberation Sans", sans-serif'>10<tspan font-size="2.60" dy="-1.6">0</tspan></text>
<text x="290.68" y="123.40" font-size="4.2" text-anchor="middle" fill="#111" stroke="#111" stroke-width="0.15" font-family='"Liberation Sans", sans-serif'>10<tspan font-size="2.60" dy="-1.6">1</tspan></text>
<text x="312.75" y="123.40" font-size="4.2" text-anchor="middle" fill="#111" stroke="#111" stroke-width="0.15" font-family='"Liberation Sans", sans-serif'>10<tspan font-size="2.60" dy="-1.6">2</tspan></text>
<text x="334.83" y="123.40" font-size="4.2" text-anchor="middle" fill="#111" stroke="#111" stroke-width="0.15" font-family='"Liberation Sans", sans-serif'>10<tspan font-size="2.60" dy="-1.6">3</tspan></text>
<text x="356.90" y="123.40" font-size="4.2" text-anchor="middle" fill="#111" stroke="#111" stroke-width="0.15" font-family='"Liberation Sans", sans-serif'>10<tspan font-size="2.60" dy="-1.6">4</tspan></text>
<text x="264.70" y="116.50" font-size="4.2" text-anchor="end" fill="#111" stroke="#111" stroke-width="0.15" font-family='"Liberation Sans", sans-serif'>10<tspan font-size="2.60" dy="-1.6">0</tspan></text>
<text x="264.70" y="94.50" font-size="4.2" text-anchor="end" fill="#111" stroke="#111" stroke-width="0.15" font-family='"Liberation Sans", sans-serif'>10<tspan font-size="2.60" dy="-1.6">1</tspan></text>
<text x="264.70" y="72.50" font-size="4.2" text-anchor="end" fill="#111" stroke="#111" stroke-width="0.15" font-family='"Liberation Sans", sans-serif'>10<tspan font-size="2.60" dy="-1.6">2</tspan></text>
<text x="264.70" y="50.50" font-size="4.2" text-anchor="end" fill="#111" stroke="#111" stroke-width="0.15" font-family='"Liberation Sans", sans-serif'>10<tspan font-size="2.60" dy="-1.6">3</tspan></text>
<text x="264.70" y="28.50" font-size="4.2" text-anchor="end" fill="#111" stroke="#111" stroke-width="0.15" font-family='"Liberation Sans", sans-serif'>10<tspan font-size="2.60" dy="-1.6">4</tspan></text>
<path d="M268.30 115.00v1.6M268.30 115.00h-1.6M274.95 115.00v0.9M268.30 108.38h-0.9M278.83 115.00v0.9M268.30 104.50h-0.9M281.59 115.00v0.9M268.30 101.75h-0.9M283.73 115.00v0.9M268.30 99.62h-0.9M285.48 115.00v0.9M268.30 97.88h-0.9M286.96 115.00v0.9M268.30 96.41h-0.9M288.24 115.00v0.9M268.30 95.13h-0.9M289.36 115.00v0.9M268.30 94.01h-0.9M290.38 115.00v1.6M268.30 93.00h-1.6M297.02 115.00v0.9M268.30 86.38h-0.9M300.91 115.00v0.9M268.30 82.50h-0.9M303.67 115.00v0.9M268.30 79.75h-0.9M305.80 115.00v0.9M268.30 77.62h-0.9M307.55 115.00v0.9M268.30 75.88h-0.9M309.03 115.00v0.9M268.30 74.41h-0.9M310.31 115.00v0.9M268.30 73.13h-0.9M311.44 115.00v0.9M268.30 72.01h-0.9M312.45 115.00v1.6M268.30 71.00h-1.6M319.10 115.00v0.9M268.30 64.38h-0.9M322.98 115.00v0.9M268.30 60.50h-0.9M325.74 115.00v0.9M268.30 57.75h-0.9M327.88 115.00v0.9M268.30 55.62h-0.9M329.63 115.00v0.9M268.30 53.88h-0.9M331.11 115.00v0.9M268.30 52.41h-0.9M332.39 115.00v0.9M268.30 51.13h-0.9M333.51 115.00v0.9M268.30 50.01h-0.9M334.53 115.00v1.6M268.30 49.00h-1.6M341.17 115.00v0.9M268.30 42.38h-0.9M345.06 115.00v0.9M268.30 38.50h-0.9M347.82 115.00v0.9M268.30 35.75h-0.9M349.95 115.00v0.9M268.30 33.62h-0.9M351.70 115.00v0.9M268.30 31.88h-0.9M353.18 115.00v0.9M268.30 30.41h-0.9M354.46 115.00v0.9M268.30 29.13h-0.9M355.59 115.00v0.9M268.30 28.01h-0.9" stroke="#888" stroke-width="0.6" fill="none"/>
<text x="311.3" y="128.2" font-size="4.0" font-weight="bold" text-anchor="middle" fill="#111" font-family='"Liberation Sans", sans-serif'>FL2-H: Gamma Delta TCR PE</text>
<text x="270.1" y="34.8" font-size="8.3" text-anchor="start" font-weight="normal" font-style="normal" fill="#000" font-family='"Liberation Sans", sans-serif'  stroke="#000" stroke-width="0.25">50.1</text>
<text x="348.6" y="112.5" font-size="8.3" text-anchor="end" font-weight="normal" font-style="normal" fill="#000" font-family='"Liberation Sans", sans-serif'  stroke="#000" stroke-width="0.25">3.85</text>
<path d="M434 50.5h1M428 51.5h1M420 52.5h1M429 54.5h1M411 55.5h1M412 55.5h1M421 56.5h1M429 56.5h1M409 57.5h1M420 57.5h1M431 57.5h1M411 58.5h1M416 58.5h1M422 58.5h1M426 58.5h1M416 60.5h1M420 60.5h1M426 60.5h1M427 60.5h1M414 61.5h1M415 61.5h1M420 61.5h1M426 61.5h1M429 61.5h1M430 61.5h1M412 62.5h1M422 62.5h1M424 62.5h1M411 63.5h1M413 64.5h1M414 64.5h1M424 64.5h1M431 64.5h1M400 65.5h1M403 65.5h1M408 65.5h1M411 65.5h1M431 65.5h1M435 65.5h1M416 66.5h1M413 67.5h1M420 67.5h1M421 68.5h1M411 72.5h1M418 79.5h1" stroke="#c0c0c0" stroke-width="1" fill="none" shape-rendering="crispEdges" filter="url(#bl)"/>
<path d="M387 66.5h1M385 70.5h1M417 71.5h1M392 72.5h1M399 72.5h1M406 72.5h1M412 72.5h1M383 73.5h1M390 73.5h1M397 73.5h1M400 73.5h1M405 73.5h1M408 73.5h1M415 73.5h1M416 73.5h1M383 74.5h1M389 74.5h1M399 74.5h1M400 74.5h1M402 74.5h1M403 74.5h1M380 75.5h1M383 75.5h1M400 75.5h1M382 76.5h1M396 76.5h1M397 76.5h1M400 76.5h1M403 76.5h1M405 76.5h1M413 76.5h1M384 77.5h1M387 77.5h1M400 77.5h1M405 77.5h1M406 77.5h1M407 77.5h1M410 77.5h1M413 77.5h1M414 77.5h1M379 78.5h1M388 78.5h1M389 78.5h1M390 78.5h1M396 78.5h1M398 78.5h1M402 78.5h1M404 78.5h1M406 78.5h1M407 78.5h1M410 78.5h1M390 79.5h1M395 79.5h1M400 79.5h1M404 79.5h1M408 79.5h1M383 80.5h1M399 80.5h1M403 80.5h1M412 80.5h1M393 81.5h1M396 81.5h1M400 81.5h1M402 81.5h1M405 81.5h1M406 81.5h1M417 81.5h1M400 83.5h1M407 83.5h1M411 84.5h1M406 85.5h1M420 85.5h1M378 86.5h1M412 86.5h1M382 87.5h1M408 87.5h1M378 88.5h1M406 88.5h1M407 88.5h1M409 88.5h1M410 88.5h1M414 88.5h1M378 89.5h1M407 89.5h1M405 90.5h1M416 90.5h1M410 91.5h1M379 92.5h1M407 92.5h1M408 92.5h1M407 93.5h1M408 93.5h1M415 93.5h1M410 94.5h1M410 95.5h1M414 95.5h1M416 95.5h1M400 96.5h1M402 97.5h1M412 97.5h1M413 97.5h1M380 98.5h1M405 99.5h1M387 100.5h1M403 100.5h1M406 100.5h1M400 101.5h1M382 102.5h1M387 102.5h1M395 102.5h1M396 102.5h1M397 102.5h1M398 102.5h1M400 102.5h1M380 103.5h1M384 103.5h1M387 103.5h1M390 103.5h1M397 103.5h1M401 103.5h1M405 103.5h1M407 103.5h1M391 104.5h1M393 104.5h1M408 104.5h1M410 104.5h1M381 105.5h1M384 105.5h1M395 105.5h1M399 105.5h1M392 106.5h1M394 106.5h1M381 107.5h1M386 107.5h1M397 107.5h1M404 107.5h1M382 108.5h1M386 108.5h1M389 108.5h1M390 108.5h1M383 109.5h1M392 109.5h1M397 109.5h1M402 109.5h1M379 110.5h1M383 110.5h1M390 110.5h1M391 110.5h1M401 110.5h1M388 111.5h1M389 111.5h1M393 111.5h1M394 111.5h1M398 111.5h1M382 112.5h1M384 112.5h1M386 112.5h1M387 112.5h1M394 112.5h1M386 113.5h1M387 113.5h1M392 113.5h1M382 114.5h1M403 114.5h1M405 114.5h1" stroke="#a8a8a8" stroke-width="1" fill="none" shape-rendering="crispEdges" filter="url(#bl)"/>
<path d="M397 50.5h1M382 51.5h1M385 51.5h1M398 51.5h1M387 52.5h1M388 52.5h1M392 52.5h1M379 53.5h1M383 53.5h1M388 53.5h1M400 53.5h1M390 54.5h1M391 54.5h1M393 54.5h1M394 54.5h1M397 54.5h1M385 55.5h1M390 55.5h1M392 55.5h1M397 55.5h1M398 55.5h1M401 55.5h1M381 56.5h1M386 56.5h1M387 56.5h1M389 56.5h1M396 56.5h1M399 56.5h1M401 56.5h1M403 56.5h1M383 57.5h1M385 57.5h1M391 57.5h1M394 57.5h1M395 57.5h1M400 57.5h1M401 57.5h1M404 57.5h1M405 57.5h1M379 58.5h1M386 58.5h1M387 58.5h1M394 58.5h1M395 58.5h1M396 58.5h1M397 58.5h1M398 58.5h1M403 58.5h1M385 59.5h1M389 59.5h1M391 59.5h1M394 59.5h1M395 59.5h1M400 59.5h1M402 59.5h1M405 59.5h1M379 60.5h1M382 60.5h1M384 60.5h1M386 60.5h1M388 60.5h1M390 60.5h1M396 60.5h1M397 60.5h1M399 60.5h1M402 60.5h1M403 60.5h1M406 60.5h1M382 61.5h1M391 61.5h1M392 61.5h1M398 61.5h1M399 61.5h1M401 61.5h1M403 61.5h1M406 61.5h1M408 61.5h1M379 62.5h1M382 62.5h1M383 62.5h1M384 62.5h1M395 62.5h1M398 62.5h1M400 62.5h1M403 62.5h1M409 62.5h1M384 63.5h1M394 63.5h1M399 63.5h1M400 63.5h1M402 63.5h1M405 63.5h1M380 64.5h1M382 64.5h1M388 64.5h1M389 64.5h1M392 64.5h1M397 64.5h1M398 64.5h1M401 64.5h1M403 64.5h1M404 64.5h1M407 64.5h1M409 64.5h1M382 65.5h1M386 65.5h1M401 65.5h1M406 65.5h1M400 66.5h1M403 66.5h1M410 66.5h1M378 67.5h1M382 67.5h1M383 67.5h1M384 67.5h1M387 67.5h1M391 67.5h1M396 67.5h1M397 67.5h1M399 67.5h1M401 67.5h1M404 67.5h1M388 68.5h1M397 68.5h1M401 68.5h1M403 68.5h1M408 68.5h1M386 69.5h1M405 69.5h1M406 69.5h1M384 70.5h1M386 70.5h1M391 70.5h1M393 70.5h1M395 70.5h1M399 70.5h1M402 70.5h1M409 70.5h1M379 71.5h1M382 71.5h1M384 71.5h1M386 71.5h1M389 71.5h1M398 71.5h1M402 71.5h1M378 72.5h1M381 72.5h1M383 72.5h1M388 72.5h1M393 72.5h1M397 72.5h1M398 72.5h1M403 72.5h1M387 73.5h1M396 73.5h1M402 73.5h1M385 74.5h1M388 74.5h1M395 74.5h1M401 74.5h1M387 75.5h1M389 75.5h1M391 75.5h1M392 75.5h1M394 75.5h1M397 75.5h1M399 75.5h1M380 76.5h1M399 76.5h1M379 77.5h1M385 77.5h1M392 77.5h1M394 77.5h1M401 77.5h1M386 78.5h1M395 78.5h1M400 78.5h1M405 78.5h1M382 79.5h1M383 79.5h1M384 79.5h1M386 79.5h1M387 79.5h1M392 79.5h1M396 79.5h1M397 79.5h1M401 79.5h1M403 79.5h1M382 80.5h1M392 80.5h1M395 80.5h1M404 80.5h1M380 81.5h1M381 81.5h1M388 81.5h1M392 81.5h1M398 81.5h1M399 81.5h1M403 81.5h1M404 81.5h1M428 81.5h1M382 82.5h1M383 82.5h1M400 82.5h1M404 82.5h1M380 83.5h1M397 83.5h1M403 83.5h1M379 84.5h1M380 84.5h1M382 84.5h1M383 84.5h1M384 84.5h1M387 84.5h1M400 84.5h1M405 84.5h1M406 84.5h1M408 84.5h1M436 84.5h1M442 84.5h1M451 84.5h1M382 85.5h1M408 85.5h1M409 85.5h1M411 85.5h1M412 85.5h1M419 85.5h1M430 85.5h1M431 85.5h1M434 85.5h1M435 85.5h1M438 85.5h1M439 85.5h1M444 85.5h1M380 86.5h1M405 86.5h1M408 86.5h1M420 86.5h1M421 86.5h1M423 86.5h1M378 87.5h1M402 87.5h1M405 87.5h1M416 87.5h1M421 87.5h1M426 87.5h1M428 87.5h1M429 87.5h1M430 87.5h1M436 87.5h1M441 87.5h1M442 87.5h1M454 87.5h1M379 88.5h1M380 88.5h1M400 88.5h1M405 88.5h1M423 88.5h1M432 88.5h1M433 88.5h1M437 88.5h1M439 88.5h1M380 89.5h1M408 89.5h1M409 89.5h1M418 89.5h1M420 89.5h1M425 89.5h1M427 89.5h1M428 89.5h1M433 89.5h1M437 89.5h1M403 90.5h1M404 90.5h1M418 90.5h1M421 90.5h1M423 90.5h1M426 90.5h1M431 90.5h1M436 90.5h1M438 90.5h1M440 90.5h1M445 90.5h1M380 91.5h1M401 91.5h1M403 91.5h1M405 91.5h1M407 91.5h1M412 91.5h1M413 91.5h1M419 91.5h1M427 91.5h1M428 91.5h1M429 91.5h1M437 91.5h1M438 91.5h1M439 91.5h1M441 91.5h1M378 92.5h1M404 92.5h1M406 92.5h1M419 92.5h1M424 92.5h1M427 92.5h1M428 92.5h1M431 92.5h1M432 92.5h1M438 92.5h1M445 92.5h1M403 93.5h1M405 93.5h1M409 93.5h1M412 93.5h1M419 93.5h1M420 93.5h1M421 93.5h1M423 93.5h1M428 93.5h1M430 93.5h1M434 93.5h1M438 93.5h1M400 94.5h1M407 94.5h1M418 94.5h1M425 94.5h1M427 94.5h1M430 94.5h1M432 94.5h1M434 94.5h1M436 94.5h1M437 94.5h1M379 95.5h1M380 95.5h1M415 95.5h1M420 95.5h1M428 95.5h1M429 95.5h1M431 95.5h1M432 95.5h1M436 95.5h1M383 96.5h1M403 96.5h1M405 96.5h1M406 96.5h1M407 96.5h1M412 96.5h1M414 96.5h1M419 96.5h1M427 96.5h1M429 96.5h1M432 96.5h1M438 96.5h1M441 96.5h1M442 96.5h1M383 97.5h1M384 97.5h1M410 97.5h1M417 97.5h1M418 97.5h1M420 97.5h1M424 97.5h1M436 97.5h1M445 97.5h1M379 98.5h1M385 98.5h1M400 98.5h1M404 98.5h1M406 98.5h1M415 98.5h1M416 98.5h1M419 98.5h1M420 98.5h1M421 98.5h1M423 98.5h1M429 98.5h1M430 98.5h1M432 98.5h1M436 98.5h1M441 98.5h1M442 98.5h1M381 99.5h1M382 99.5h1M384 99.5h1M387 99.5h1M396 99.5h1M399 99.5h1M413 99.5h1M414 99.5h1M415 99.5h1M416 99.5h1M419 99.5h1M420 99.5h1M421 99.5h1M425 99.5h1M427 99.5h1M429 99.5h1M430 99.5h1M431 99.5h1M435 99.5h1M440 99.5h1M378 100.5h1M381 100.5h1M388 100.5h1M391 100.5h1M394 100.5h1M395 100.5h1M401 100.5h1M409 100.5h1M414 100.5h1M419 100.5h1M421 100.5h1M423 100.5h1M425 100.5h1M428 100.5h1M435 100.5h1M436 100.5h1M441 100.5h1M383 101.5h1M384 101.5h1M387 101.5h1M392 101.5h1M393 101.5h1M395 101.5h1M396 101.5h1M398 101.5h1M411 101.5h1M415 101.5h1M419 101.5h1M420 101.5h1M424 101.5h1M425 101.5h1M439 101.5h1M441 101.5h1M445 101.5h1M381 102.5h1M385 102.5h1M389 102.5h1M392 102.5h1M394 102.5h1M416 102.5h1M424 102.5h1M428 102.5h1M429 102.5h1M430 102.5h1M432 102.5h1M433 102.5h1M434 102.5h1M436 102.5h1M381 103.5h1M382 103.5h1M383 103.5h1M388 103.5h1M399 103.5h1M403 103.5h1M409 103.5h1M424 103.5h1M426 103.5h1M436 103.5h1M447 103.5h1M381 104.5h1M382 104.5h1M388 104.5h1M389 104.5h1M392 104.5h1M395 104.5h1M431 104.5h1M434 104.5h1M382 105.5h1M389 105.5h1M380 106.5h1M385 106.5h1M393 106.5h1M398 106.5h1M382 107.5h1M384 107.5h1M389 107.5h1M392 107.5h1M396 107.5h1M403 107.5h1M424 107.5h1M435 107.5h1M394 108.5h1M379 109.5h1M399 109.5h1M414 110.5h1" stroke="#787878" stroke-width="1" fill="none" shape-rendering="crispEdges" filter="url(#bl)"/>
<path d="M396 69.5h1M396 70.5h1M388 71.5h1M392 71.5h1M403 71.5h1M390 72.5h1M396 72.5h1M389 73.5h1M397 74.5h1M384 76.5h1M388 76.5h1M393 76.5h1M398 76.5h1M390 77.5h1M393 77.5h1M393 78.5h1M381 79.5h1M393 79.5h1M402 79.5h1M384 80.5h1M394 80.5h1M398 80.5h1M382 81.5h1M409 84.5h1M378 85.5h1M400 85.5h1M402 85.5h1M382 86.5h1M379 87.5h1M408 88.5h1M378 90.5h1M384 90.5h1M407 90.5h1M414 91.5h1M380 92.5h1M380 93.5h1M402 93.5h1M404 93.5h1M402 96.5h1M379 97.5h1M380 97.5h1M404 97.5h1M398 98.5h1M400 99.5h1M383 100.5h1M385 100.5h1M399 100.5h1M404 100.5h1M394 101.5h1M399 101.5h1M403 101.5h1M408 101.5h1M390 102.5h1M391 102.5h1M399 102.5h1M415 102.5h1M396 104.5h1M386 105.5h1M391 105.5h1M381 106.5h1M389 106.5h1M385 107.5h1M394 107.5h1M382 109.5h1M395 109.5h1" stroke="#484848" stroke-width="1" fill="none" shape-rendering="crispEdges" filter="url(#bl)"/>
<path d="M379 52.5h1M394 55.5h1M396 55.5h1M393 56.5h1M394 56.5h1M399 57.5h1M382 58.5h1M390 58.5h1M392 58.5h1M393 58.5h1M384 59.5h1M387 59.5h1M390 59.5h1M393 59.5h1M399 59.5h1M385 60.5h1M389 60.5h1M393 60.5h1M401 60.5h1M383 61.5h1M387 61.5h1M388 61.5h1M390 61.5h1M401 62.5h1M402 62.5h1M382 63.5h1M386 63.5h1M387 63.5h1M388 63.5h1M403 63.5h1M383 64.5h1M384 64.5h1M391 64.5h1M394 64.5h1M400 64.5h1M379 65.5h1M383 65.5h1M384 65.5h1M388 65.5h1M389 65.5h1M390 65.5h1M394 65.5h1M381 66.5h1M386 66.5h1M390 66.5h1M391 66.5h1M398 66.5h1M385 67.5h1M398 67.5h1M400 67.5h1M402 67.5h1M385 68.5h1M392 68.5h1M396 68.5h1M399 68.5h1M402 68.5h1M389 69.5h1M393 69.5h1M395 69.5h1M399 69.5h1M401 69.5h1M403 69.5h1M387 70.5h1M388 70.5h1M389 70.5h1M390 70.5h1M401 70.5h1M383 71.5h1M391 71.5h1M399 71.5h1M401 71.5h1M386 72.5h1M389 72.5h1M400 72.5h1M391 73.5h1M393 73.5h1M384 74.5h1M391 74.5h1M398 74.5h1M390 76.5h1M394 76.5h1M391 77.5h1M396 77.5h1M397 77.5h1M387 78.5h1M391 78.5h1M397 78.5h1M391 79.5h1M385 80.5h1M387 80.5h1M388 80.5h1M389 80.5h1M390 80.5h1M391 80.5h1M400 80.5h1M401 80.5h1M402 80.5h1M385 81.5h1M391 81.5h1M395 81.5h1M401 81.5h1M384 82.5h1M393 82.5h1M394 82.5h1M401 82.5h1M379 83.5h1M383 83.5h1M385 83.5h1M395 83.5h1M401 83.5h1M381 84.5h1M401 84.5h1M402 84.5h1M427 84.5h1M383 85.5h1M386 85.5h1M398 85.5h1M399 85.5h1M401 85.5h1M415 85.5h1M379 86.5h1M385 86.5h1M404 86.5h1M433 86.5h1M381 87.5h1M404 87.5h1M382 88.5h1M403 88.5h1M431 88.5h1M381 89.5h1M402 89.5h1M404 89.5h1M419 89.5h1M440 89.5h1M381 90.5h1M411 90.5h1M424 90.5h1M379 91.5h1M409 91.5h1M433 91.5h1M401 92.5h1M402 92.5h1M379 93.5h1M381 93.5h1M397 93.5h1M414 93.5h1M418 93.5h1M427 93.5h1M432 93.5h1M378 94.5h1M379 94.5h1M380 94.5h1M397 94.5h1M408 94.5h1M417 94.5h1M424 94.5h1M426 94.5h1M428 94.5h1M438 94.5h1M439 94.5h1M383 95.5h1M400 95.5h1M402 95.5h1M403 95.5h1M419 95.5h1M426 95.5h1M379 96.5h1M382 96.5h1M385 96.5h1M397 96.5h1M398 96.5h1M399 96.5h1M401 96.5h1M404 96.5h1M417 96.5h1M422 96.5h1M428 96.5h1M431 96.5h1M434 96.5h1M396 97.5h1M398 97.5h1M400 97.5h1M401 97.5h1M425 97.5h1M428 97.5h1M431 97.5h1M432 97.5h1M387 98.5h1M388 98.5h1M389 98.5h1M391 98.5h1M395 98.5h1M399 98.5h1M426 98.5h1M383 99.5h1M386 99.5h1M388 99.5h1M392 99.5h1M393 99.5h1M397 99.5h1M426 99.5h1M439 99.5h1M384 100.5h1M389 100.5h1M393 100.5h1M396 100.5h1M402 100.5h1M417 100.5h1M381 101.5h1M385 101.5h1M386 101.5h1M391 101.5h1M397 101.5h1M412 102.5h1M391 103.5h1M392 103.5h1M393 103.5h1M398 103.5h1M390 104.5h1M398 104.5h1M425 104.5h1M390 105.5h1M398 105.5h1" stroke="#303030" stroke-width="1" fill="none" shape-rendering="crispEdges" filter="url(#bl)"/>
<path d="M384 56.5h1M392 57.5h1M392 59.5h1M398 59.5h1M387 60.5h1M391 60.5h1M392 60.5h1M384 61.5h1M385 61.5h1M389 61.5h1M393 61.5h1M394 61.5h1M395 61.5h1M396 61.5h1M397 61.5h1M385 62.5h1M387 62.5h1M388 62.5h1M389 62.5h1M390 62.5h1M391 62.5h1M392 62.5h1M393 62.5h1M394 62.5h1M396 62.5h1M389 63.5h1M390 63.5h1M391 63.5h1M392 63.5h1M393 63.5h1M395 63.5h1M396 63.5h1M398 63.5h1M385 64.5h1M386 64.5h1M387 64.5h1M390 64.5h1M393 64.5h1M395 64.5h1M396 64.5h1M399 64.5h1M385 65.5h1M387 65.5h1M391 65.5h1M392 65.5h1M393 65.5h1M395 65.5h1M396 65.5h1M398 65.5h1M402 65.5h1M388 66.5h1M389 66.5h1M392 66.5h1M393 66.5h1M394 66.5h1M395 66.5h1M396 66.5h1M399 66.5h1M388 67.5h1M389 67.5h1M390 67.5h1M392 67.5h1M393 67.5h1M394 67.5h1M395 67.5h1M403 67.5h1M382 68.5h1M387 68.5h1M389 68.5h1M391 68.5h1M393 68.5h1M394 68.5h1M395 68.5h1M398 68.5h1M385 69.5h1M388 69.5h1M390 69.5h1M391 69.5h1M392 69.5h1M394 69.5h1M397 69.5h1M398 69.5h1M392 70.5h1M394 70.5h1M397 70.5h1M403 70.5h1M390 71.5h1M393 71.5h1M394 71.5h1M384 73.5h1M387 74.5h1M392 74.5h1M396 74.5h1M393 75.5h1M391 76.5h1M389 77.5h1M388 79.5h1M389 79.5h1M394 79.5h1M399 79.5h1M381 80.5h1M386 80.5h1M393 80.5h1M397 80.5h1M383 81.5h1M386 81.5h1M387 81.5h1M389 81.5h1M390 81.5h1M394 81.5h1M397 81.5h1M380 82.5h1M385 82.5h1M386 82.5h1M388 82.5h1M389 82.5h1M390 82.5h1M391 82.5h1M392 82.5h1M395 82.5h1M396 82.5h1M398 82.5h1M399 82.5h1M407 82.5h1M382 83.5h1M384 83.5h1M386 83.5h1M388 83.5h1M389 83.5h1M390 83.5h1M391 83.5h1M392 83.5h1M393 83.5h1M394 83.5h1M396 83.5h1M398 83.5h1M385 84.5h1M386 84.5h1M388 84.5h1M389 84.5h1M390 84.5h1M391 84.5h1M392 84.5h1M393 84.5h1M394 84.5h1M395 84.5h1M396 84.5h1M397 84.5h1M398 84.5h1M399 84.5h1M403 84.5h1M384 85.5h1M385 85.5h1M387 85.5h1M388 85.5h1M389 85.5h1M390 85.5h1M391 85.5h1M392 85.5h1M393 85.5h1M394 85.5h1M395 85.5h1M396 85.5h1M397 85.5h1M381 86.5h1M383 86.5h1M384 86.5h1M386 86.5h1M387 86.5h1M388 86.5h1M389 86.5h1M390 86.5h1M391 86.5h1M392 86.5h1M393 86.5h1M394 86.5h1M395 86.5h1M396 86.5h1M397 86.5h1M398 86.5h1M399 86.5h1M400 86.5h1M401 86.5h1M403 86.5h1M380 87.5h1M383 87.5h1M384 87.5h1M385 87.5h1M386 87.5h1M387 87.5h1M388 87.5h1M389 87.5h1M390 87.5h1M391 87.5h1M392 87.5h1M393 87.5h1M394 87.5h1M395 87.5h1M396 87.5h1M397 87.5h1M398 87.5h1M400 87.5h1M403 87.5h1M383 88.5h1M384 88.5h1M385 88.5h1M386 88.5h1M387 88.5h1M388 88.5h1M389 88.5h1M390 88.5h1M391 88.5h1M392 88.5h1M393 88.5h1M394 88.5h1M395 88.5h1M396 88.5h1M397 88.5h1M398 88.5h1M399 88.5h1M402 88.5h1M379 89.5h1M382 89.5h1M383 89.5h1M384 89.5h1M385 89.5h1M386 89.5h1M387 89.5h1M388 89.5h1M389 89.5h1M390 89.5h1M391 89.5h1M392 89.5h1M393 89.5h1M394 89.5h1M395 89.5h1M396 89.5h1M397 89.5h1M398 89.5h1M399 89.5h1M400 89.5h1M401 89.5h1M379 90.5h1M380 90.5h1M382 90.5h1M383 90.5h1M385 90.5h1M386 90.5h1M387 90.5h1M388 90.5h1M389 90.5h1M390 90.5h1M391 90.5h1M392 90.5h1M393 90.5h1M394 90.5h1M395 90.5h1M396 90.5h1M397 90.5h1M398 90.5h1M399 90.5h1M400 90.5h1M401 90.5h1M402 90.5h1M425 90.5h1M381 91.5h1M382 91.5h1M383 91.5h1M384 91.5h1M385 91.5h1M386 91.5h1M387 91.5h1M388 91.5h1M389 91.5h1M390 91.5h1M391 91.5h1M392 91.5h1M393 91.5h1M394 91.5h1M395 91.5h1M396 91.5h1M397 91.5h1M398 91.5h1M399 91.5h1M400 91.5h1M402 91.5h1M381 92.5h1M382 92.5h1M383 92.5h1M384 92.5h1M385 92.5h1M386 92.5h1M387 92.5h1M388 92.5h1M389 92.5h1M390 92.5h1M391 92.5h1M392 92.5h1M393 92.5h1M394 92.5h1M395 92.5h1M396 92.5h1M397 92.5h1M398 92.5h1M399 92.5h1M403 92.5h1M436 92.5h1M382 93.5h1M383 93.5h1M384 93.5h1M385 93.5h1M386 93.5h1M387 93.5h1M388 93.5h1M389 93.5h1M390 93.5h1M391 93.5h1M392 93.5h1M393 93.5h1M394 93.5h1M395 93.5h1M396 93.5h1M398 93.5h1M399 93.5h1M400 93.5h1M401 93.5h1M381 94.5h1M382 94.5h1M383 94.5h1M384 94.5h1M385 94.5h1M386 94.5h1M387 94.5h1M388 94.5h1M389 94.5h1M390 94.5h1M391 94.5h1M392 94.5h1M393 94.5h1M394 94.5h1M395 94.5h1M396 94.5h1M398 94.5h1M399 94.5h1M401 94.5h1M402 94.5h1M403 94.5h1M381 95.5h1M382 95.5h1M384 95.5h1M385 95.5h1M386 95.5h1M387 95.5h1M388 95.5h1M389 95.5h1M390 95.5h1M391 95.5h1M392 95.5h1M393 95.5h1M394 95.5h1M395 95.5h1M396 95.5h1M397 95.5h1M398 95.5h1M399 95.5h1M401 95.5h1M381 96.5h1M384 96.5h1M386 96.5h1M387 96.5h1M388 96.5h1M389 96.5h1M390 96.5h1M391 96.5h1M392 96.5h1M393 96.5h1M394 96.5h1M395 96.5h1M396 96.5h1M382 97.5h1M385 97.5h1M386 97.5h1M387 97.5h1M388 97.5h1M389 97.5h1M390 97.5h1M391 97.5h1M392 97.5h1M393 97.5h1M394 97.5h1M395 97.5h1M397 97.5h1M399 97.5h1M382 98.5h1M383 98.5h1M384 98.5h1M390 98.5h1M392 98.5h1M393 98.5h1M394 98.5h1M397 98.5h1M385 99.5h1M389 99.5h1M390 99.5h1M391 99.5h1M394 99.5h1M395 99.5h1M398 99.5h1M382 100.5h1M386 100.5h1M390 100.5h1M392 100.5h1M397 100.5h1M398 100.5h1M389 101.5h1M380 102.5h1M388 102.5h1M389 103.5h1M394 103.5h1" stroke="#181818" stroke-width="1" fill="none" shape-rendering="crispEdges" filter="url(#bl)"/>
<rect x="376.00" y="27.00" width="88.30" height="88.00" fill="none" stroke="#7c7c7c" stroke-width="1.25"/>
<rect x="376.80" y="45.30" width="33.80" height="32.70" fill="none" stroke="#6e6e6e" stroke-width="1.1"/>
<rect x="410.20" y="78.00" width="51.20" height="36.00" fill="none" stroke="#6e6e6e" stroke-width="1.1"/>
<rect x="377.70" y="78.60" width="31.90" height="34.80" fill="none" stroke="#6e6e6e" stroke-width="1.0"/>
<path d="M462.4 30.0V80" stroke="#999" stroke-width="0.9" stroke-dasharray="1.2 0.8" fill="none"/>
<text x="376.30" y="123.40" font-size="4.2" text-anchor="middle" fill="#111" stroke="#111" stroke-width="0.15" font-family='"Liberation Sans", sans-serif'>10<tspan font-size="2.60" dy="-1.6">0</tspan></text>
<text x="398.38" y="123.40" font-size="4.2" text-anchor="middle" fill="#111" stroke="#111" stroke-width="0.15" font-family='"Liberation Sans", sans-serif'>10<tspan font-size="2.60" dy="-1.6">1</tspan></text>
<text x="420.45" y="123.40" font-size="4.2" text-anchor="middle" fill="#111" stroke="#111" stroke-width="0.15" font-family='"Liberation Sans", sans-serif'>10<tspan font-size="2.60" dy="-1.6">2</tspan></text>
<text x="442.53" y="123.40" font-size="4.2" text-anchor="middle" fill="#111" stroke="#111" stroke-width="0.15" font-family='"Liberation Sans", sans-serif'>10<tspan font-size="2.60" dy="-1.6">3</tspan></text>
<text x="464.60" y="123.40" font-size="4.2" text-anchor="middle" fill="#111" stroke="#111" stroke-width="0.15" font-family='"Liberation Sans", sans-serif'>10<tspan font-size="2.60" dy="-1.6">4</tspan></text>
<text x="372.40" y="116.50" font-size="4.2" text-anchor="end" fill="#111" stroke="#111" stroke-width="0.15" font-family='"Liberation Sans", sans-serif'>10<tspan font-size="2.60" dy="-1.6">0</tspan></text>
<text x="372.40" y="94.50" font-size="4.2" text-anchor="end" fill="#111" stroke="#111" stroke-width="0.15" font-family='"Liberation Sans", sans-serif'>10<tspan font-size="2.60" dy="-1.6">1</tspan></text>
<text x="372.40" y="72.50" font-size="4.2" text-anchor="end" fill="#111" stroke="#111" stroke-width="0.15" font-family='"Liberation Sans", sans-serif'>10<tspan font-size="2.60" dy="-1.6">2</tspan></text>
<text x="372.40" y="50.50" font-size="4.2" text-anchor="end" fill="#111" stroke="#111" stroke-width="0.15" font-family='"Liberation Sans", sans-serif'>10<tspan font-size="2.60" dy="-1.6">3</tspan></text>
<text x="372.40" y="28.50" font-size="4.2" text-anchor="end" fill="#111" stroke="#111" stroke-width="0.15" font-family='"Liberation Sans", sans-serif'>10<tspan font-size="2.60" dy="-1.6">4</tspan></text>
<path d="M376.00 115.00v1.6M376.00 115.00h-1.6M382.65 115.00v0.9M376.00 108.38h-0.9M386.53 115.00v0.9M376.00 104.50h-0.9M389.29 115.00v0.9M376.00 101.75h-0.9M391.43 115.00v0.9M376.00 99.62h-0.9M393.18 115.00v0.9M376.00 97.88h-0.9M394.66 115.00v0.9M376.00 96.41h-0.9M395.94 115.00v0.9M376.00 95.13h-0.9M397.06 115.00v0.9M376.00 94.01h-0.9M398.07 115.00v1.6M376.00 93.00h-1.6M404.72 115.00v0.9M376.00 86.38h-0.9M408.61 115.00v0.9M376.00 82.50h-0.9M411.37 115.00v0.9M376.00 79.75h-0.9M413.50 115.00v0.9M376.00 77.62h-0.9M415.25 115.00v0.9M376.00 75.88h-0.9M416.73 115.00v0.9M376.00 74.41h-0.9M418.01 115.00v0.9M376.00 73.13h-0.9M419.14 115.00v0.9M376.00 72.01h-0.9M420.15 115.00v1.6M376.00 71.00h-1.6M426.80 115.00v0.9M376.00 64.38h-0.9M430.68 115.00v0.9M376.00 60.50h-0.9M433.44 115.00v0.9M376.00 57.75h-0.9M435.58 115.00v0.9M376.00 55.62h-0.9M437.33 115.00v0.9M376.00 53.88h-0.9M438.81 115.00v0.9M376.00 52.41h-0.9M440.09 115.00v0.9M376.00 51.13h-0.9M441.21 115.00v0.9M376.00 50.01h-0.9M442.23 115.00v1.6M376.00 49.00h-1.6M448.87 115.00v0.9M376.00 42.38h-0.9M452.76 115.00v0.9M376.00 38.50h-0.9M455.52 115.00v0.9M376.00 35.75h-0.9M457.65 115.00v0.9M376.00 33.62h-0.9M459.40 115.00v0.9M376.00 31.88h-0.9M460.88 115.00v0.9M376.00 30.41h-0.9M462.16 115.00v0.9M376.00 29.13h-0.9M463.29 115.00v0.9M376.00 28.01h-0.9" stroke="#888" stroke-width="0.6" fill="none"/>
<text x="418.9" y="128.2" font-size="4.0" font-weight="bold" text-anchor="middle" fill="#111" font-family='"Liberation Sans", sans-serif'>FL2-H: Gamma Delta TCR PE</text>
<text x="377.8" y="34.8" font-size="8.3" text-anchor="start" font-weight="normal" font-style="normal" fill="#000" font-family='"Liberation Sans", sans-serif'  stroke="#000" stroke-width="0.25">10.2</text>
<text x="458.40000000000003" y="112.5" font-size="8.3" text-anchor="end" font-weight="normal" font-style="normal" fill="#000" font-family='"Liberation Sans", sans-serif'  stroke="#000" stroke-width="0.25">4.68</text>
<path d="M79 182.5h1M75 184.5h1M87 186.5h1M66 187.5h1M90 187.5h1M112 187.5h1M70 188.5h1M74 188.5h1M80 188.5h1M87 188.5h1M94 188.5h1M77 189.5h1M60 190.5h1M87 190.5h1M117 190.5h1M65 191.5h1M66 191.5h1M71 191.5h1M80 191.5h1M82 191.5h1M92 191.5h1M93 192.5h1M103 192.5h1M62 193.5h1M64 193.5h1M94 193.5h1M95 193.5h1M99 193.5h1M56 194.5h1M57 194.5h1M94 194.5h1M104 194.5h1M116 194.5h1M107 195.5h1M108 195.5h1M113 195.5h1M115 195.5h1M118 195.5h1M102 196.5h1M110 196.5h1M114 196.5h1M56 197.5h1M107 197.5h1M119 197.5h1M123 197.5h1M119 198.5h1M106 199.5h1M85 200.5h1M118 200.5h1M110 201.5h1M111 201.5h1M121 201.5h1M111 202.5h1M116 202.5h1M110 203.5h1M112 203.5h1M62 204.5h1M68 204.5h1M85 204.5h1M64 205.5h1M70 205.5h1M72 205.5h1M97 205.5h1M112 205.5h1M115 205.5h1M60 206.5h1M64 206.5h1M67 206.5h1M78 206.5h1M85 206.5h1M108 206.5h1M113 206.5h1M63 207.5h1M68 207.5h1M69 207.5h1M76 207.5h1M85 207.5h1M103 207.5h1M117 207.5h1M62 208.5h1M75 208.5h1M113 208.5h1M114 208.5h1M115 208.5h1M121 208.5h1M61 210.5h1M84 210.5h1M90 210.5h1M121 210.5h1M124 210.5h1M72 211.5h1M113 211.5h1M59 213.5h1M113 213.5h1M119 213.5h1M73 214.5h1M74 215.5h1M113 215.5h1M122 215.5h1M103 216.5h1M78 218.5h1M118 218.5h1M71 219.5h1M110 219.5h1M120 219.5h1M79 220.5h1M96 220.5h1M113 220.5h1M114 220.5h1M119 220.5h1M81 221.5h1M82 221.5h1M127 221.5h1M125 222.5h1M69 223.5h1M71 223.5h1M76 223.5h1M77 223.5h1M91 223.5h1M110 223.5h1M86 224.5h1M106 224.5h1M121 224.5h1M85 225.5h1M85 226.5h1M88 226.5h1M93 226.5h1M101 226.5h1M122 226.5h1M123 226.5h1M68 227.5h1M86 227.5h1M98 227.5h1M62 228.5h1M64 228.5h1M73 228.5h1M85 228.5h1M104 228.5h1M110 228.5h1M123 228.5h1M70 229.5h1M77 229.5h1M78 229.5h1M91 229.5h1M102 229.5h1M124 229.5h1M67 230.5h1M77 230.5h1M83 230.5h1M85 230.5h1M99 230.5h1M109 230.5h1M126 230.5h1M59 231.5h1M65 231.5h1M68 231.5h1M73 231.5h1M77 231.5h1M81 231.5h1M89 231.5h1M90 231.5h1M112 231.5h1M126 231.5h1M73 232.5h1M95 232.5h1M89 233.5h1M104 233.5h1M123 233.5h1M125 233.5h1M73 234.5h1M87 234.5h1M92 234.5h1M94 234.5h1M98 234.5h1M56 235.5h1M64 235.5h1M66 235.5h1M81 235.5h1M96 236.5h1M110 236.5h1M78 237.5h1M82 237.5h1M86 237.5h1M79 238.5h1M88 238.5h1M125 238.5h1M56 239.5h1M110 239.5h1M126 239.5h1M64 240.5h1M85 240.5h1M108 240.5h1M109 240.5h1M108 241.5h1M120 241.5h1M128 241.5h1M73 242.5h1M87 242.5h1M71 244.5h1M95 244.5h1M97 244.5h1M108 246.5h1M122 246.5h1M123 246.5h1M64 247.5h1M109 247.5h1M125 247.5h1" stroke="#c0c0c0" stroke-width="1" fill="none" shape-rendering="crispEdges" filter="url(#bl)"/>
<path d="M97 193.5h1M116 193.5h1M58 194.5h1M57 196.5h1M114 198.5h1M119 200.5h1M78 203.5h1M116 205.5h1M121 227.5h1M124 232.5h1M74 235.5h1" stroke="#a8a8a8" stroke-width="1" fill="none" shape-rendering="crispEdges" filter="url(#bl)"/>
<path d="M75 189.5h1M86 189.5h1M57 190.5h1M68 190.5h1M75 190.5h1M76 190.5h1M78 190.5h1M83 190.5h1M85 190.5h1M57 191.5h1M58 191.5h1M63 191.5h1M64 191.5h1M70 191.5h1M76 191.5h1M78 191.5h1M83 191.5h1M87 191.5h1M88 191.5h1M90 191.5h1M93 191.5h1M94 191.5h1M95 191.5h1M96 191.5h1M56 192.5h1M57 192.5h1M58 192.5h1M60 192.5h1M61 192.5h1M68 192.5h1M70 192.5h1M71 192.5h1M78 192.5h1M80 192.5h1M81 192.5h1M84 192.5h1M85 192.5h1M86 192.5h1M87 192.5h1M92 192.5h1M57 193.5h1M61 193.5h1M69 193.5h1M71 193.5h1M76 193.5h1M85 193.5h1M87 193.5h1M89 193.5h1M90 193.5h1M62 194.5h1M63 194.5h1M64 194.5h1M93 194.5h1M95 194.5h1M96 194.5h1M59 195.5h1M60 195.5h1M89 195.5h1M95 195.5h1M96 195.5h1M98 195.5h1M56 196.5h1M98 196.5h1M59 197.5h1M90 197.5h1M95 197.5h1M97 197.5h1M57 198.5h1M100 198.5h1M95 199.5h1M99 199.5h1M58 200.5h1M72 200.5h1M92 200.5h1M96 200.5h1M58 201.5h1M60 201.5h1M93 201.5h1M95 201.5h1M98 201.5h1M58 202.5h1M65 202.5h1M68 202.5h1M84 202.5h1M88 202.5h1M93 202.5h1M95 202.5h1M96 202.5h1M107 202.5h1M58 203.5h1M59 203.5h1M60 203.5h1M61 203.5h1M62 203.5h1M63 203.5h1M70 203.5h1M74 203.5h1M79 203.5h1M63 204.5h1M64 204.5h1M66 204.5h1M69 204.5h1M71 204.5h1M74 204.5h1M79 204.5h1M80 204.5h1M81 204.5h1M82 204.5h1M83 204.5h1M88 204.5h1M90 204.5h1M91 204.5h1M93 204.5h1M56 205.5h1M59 205.5h1M67 205.5h1M68 205.5h1M71 205.5h1M83 205.5h1M87 205.5h1M92 206.5h1M93 206.5h1M115 212.5h1M114 213.5h1M112 215.5h1M116 215.5h1M113 216.5h1M117 216.5h1M116 217.5h1M117 218.5h1M122 218.5h1M118 220.5h1M112 221.5h1M114 221.5h1M107 222.5h1M111 222.5h1M120 222.5h1M111 223.5h1M112 223.5h1M120 223.5h1M121 223.5h1M126 223.5h1M111 224.5h1M112 224.5h1M115 224.5h1M114 225.5h1M121 225.5h1M112 226.5h1M120 227.5h1M123 227.5h1M113 228.5h1M122 228.5h1M125 228.5h1M111 230.5h1M122 230.5h1M122 231.5h1M124 231.5h1M122 232.5h1M122 233.5h1M126 233.5h1M110 234.5h1M111 236.5h1M112 236.5h1M121 236.5h1M108 237.5h1M109 237.5h1M120 237.5h1M122 237.5h1M111 238.5h1M122 238.5h1M123 238.5h1M109 239.5h1M122 240.5h1M123 240.5h1M112 241.5h1M122 241.5h1M110 242.5h1M122 242.5h1M110 243.5h1M111 243.5h1M117 243.5h1M110 244.5h1M111 244.5h1M121 244.5h1M109 245.5h1M111 245.5h1M112 245.5h1M114 245.5h1M110 247.5h1M112 247.5h1M118 247.5h1M119 247.5h1M120 247.5h1M122 247.5h1" stroke="#787878" stroke-width="1" fill="none" shape-rendering="crispEdges" filter="url(#bl)"/>
<path d="M79 191.5h1M81 191.5h1M58 193.5h1M78 193.5h1M80 193.5h1M81 193.5h1M92 194.5h1M91 195.5h1M93 195.5h1M89 197.5h1M97 199.5h1M56 201.5h1M85 201.5h1M56 204.5h1M86 204.5h1M89 204.5h1M81 205.5h1M77 206.5h1M116 218.5h1M114 219.5h1M120 221.5h1M117 222.5h1M118 222.5h1M113 223.5h1M112 227.5h1M106 232.5h1M120 232.5h1M111 234.5h1M123 235.5h1" stroke="#606060" stroke-width="1" fill="none" shape-rendering="crispEdges" filter="url(#bl)"/>
<path d="M59 201.5h1M116 220.5h1M114 222.5h1M121 237.5h1M119 244.5h1" stroke="#484848" stroke-width="1" fill="none" shape-rendering="crispEdges" filter="url(#bl)"/>
<path d="M71 190.5h1M84 191.5h1M67 192.5h1M72 192.5h1M73 192.5h1M79 192.5h1M88 192.5h1M63 193.5h1M66 193.5h1M70 193.5h1M73 193.5h1M77 193.5h1M82 193.5h1M83 193.5h1M86 193.5h1M88 193.5h1M92 193.5h1M93 193.5h1M65 194.5h1M72 194.5h1M77 194.5h1M84 194.5h1M90 194.5h1M91 194.5h1M98 194.5h1M103 194.5h1M57 195.5h1M68 195.5h1M87 195.5h1M94 195.5h1M60 196.5h1M85 196.5h1M91 196.5h1M93 196.5h1M96 196.5h1M99 196.5h1M86 197.5h1M91 197.5h1M96 197.5h1M58 198.5h1M91 198.5h1M94 198.5h1M95 198.5h1M96 198.5h1M97 198.5h1M56 199.5h1M57 199.5h1M92 199.5h1M56 200.5h1M59 200.5h1M60 200.5h1M62 200.5h1M89 200.5h1M63 201.5h1M82 201.5h1M91 201.5h1M92 201.5h1M56 202.5h1M57 202.5h1M61 202.5h1M62 202.5h1M64 202.5h1M86 202.5h1M94 202.5h1M57 203.5h1M69 203.5h1M73 203.5h1M75 203.5h1M81 203.5h1M83 203.5h1M85 203.5h1M86 203.5h1M88 203.5h1M89 203.5h1M92 203.5h1M93 203.5h1M70 204.5h1M73 204.5h1M78 204.5h1M94 204.5h1M63 205.5h1M116 213.5h1M116 216.5h1M117 217.5h1M114 218.5h1M119 218.5h1M117 219.5h1M115 220.5h1M116 221.5h1M117 221.5h1M115 222.5h1M118 223.5h1M119 223.5h1M113 224.5h1M112 225.5h1M117 225.5h1M118 225.5h1M119 225.5h1M113 226.5h1M115 226.5h1M119 226.5h1M115 227.5h1M119 227.5h1M112 228.5h1M121 228.5h1M110 229.5h1M111 229.5h1M111 232.5h1M112 233.5h1M121 233.5h1M112 234.5h1M122 234.5h1M111 235.5h1M112 235.5h1M114 235.5h1M110 237.5h1M114 237.5h1M119 237.5h1M123 237.5h1M112 238.5h1M120 238.5h1M114 239.5h1M120 239.5h1M114 240.5h1M120 240.5h1M121 240.5h1M111 241.5h1M118 241.5h1M111 242.5h1M112 242.5h1M120 242.5h1M121 242.5h1M120 244.5h1M122 244.5h1M119 245.5h1M120 245.5h1M121 245.5h1M122 245.5h1M118 246.5h1M121 246.5h1M111 247.5h1M113 247.5h1M114 247.5h1M115 247.5h1" stroke="#303030" stroke-width="1" fill="none" shape-rendering="crispEdges" filter="url(#bl)"/>
<path d="M65 192.5h1M65 193.5h1M67 193.5h1M68 193.5h1M72 193.5h1M74 193.5h1M75 193.5h1M84 193.5h1M60 194.5h1M66 194.5h1M67 194.5h1M68 194.5h1M69 194.5h1M71 194.5h1M73 194.5h1M74 194.5h1M75 194.5h1M76 194.5h1M78 194.5h1M79 194.5h1M80 194.5h1M81 194.5h1M82 194.5h1M83 194.5h1M85 194.5h1M88 194.5h1M89 194.5h1M56 195.5h1M58 195.5h1M61 195.5h1M62 195.5h1M63 195.5h1M64 195.5h1M65 195.5h1M66 195.5h1M67 195.5h1M69 195.5h1M70 195.5h1M71 195.5h1M72 195.5h1M73 195.5h1M74 195.5h1M75 195.5h1M76 195.5h1M77 195.5h1M78 195.5h1M79 195.5h1M80 195.5h1M81 195.5h1M82 195.5h1M83 195.5h1M85 195.5h1M86 195.5h1M88 195.5h1M90 195.5h1M92 195.5h1M59 196.5h1M61 196.5h1M62 196.5h1M63 196.5h1M64 196.5h1M65 196.5h1M66 196.5h1M67 196.5h1M68 196.5h1M69 196.5h1M70 196.5h1M71 196.5h1M72 196.5h1M73 196.5h1M74 196.5h1M75 196.5h1M76 196.5h1M77 196.5h1M78 196.5h1M79 196.5h1M80 196.5h1M81 196.5h1M82 196.5h1M83 196.5h1M84 196.5h1M86 196.5h1M87 196.5h1M88 196.5h1M89 196.5h1M90 196.5h1M92 196.5h1M94 196.5h1M95 196.5h1M57 197.5h1M58 197.5h1M60 197.5h1M61 197.5h1M62 197.5h1M63 197.5h1M64 197.5h1M65 197.5h1M66 197.5h1M67 197.5h1M68 197.5h1M69 197.5h1M70 197.5h1M71 197.5h1M72 197.5h1M73 197.5h1M74 197.5h1M75 197.5h1M76 197.5h1M77 197.5h1M78 197.5h1M79 197.5h1M80 197.5h1M81 197.5h1M82 197.5h1M83 197.5h1M84 197.5h1M85 197.5h1M87 197.5h1M88 197.5h1M92 197.5h1M93 197.5h1M94 197.5h1M56 198.5h1M59 198.5h1M60 198.5h1M61 198.5h1M62 198.5h1M63 198.5h1M64 198.5h1M65 198.5h1M66 198.5h1M67 198.5h1M68 198.5h1M69 198.5h1M70 198.5h1M71 198.5h1M72 198.5h1M73 198.5h1M74 198.5h1M75 198.5h1M76 198.5h1M77 198.5h1M78 198.5h1M79 198.5h1M80 198.5h1M81 198.5h1M82 198.5h1M83 198.5h1M84 198.5h1M85 198.5h1M86 198.5h1M87 198.5h1M88 198.5h1M89 198.5h1M90 198.5h1M92 198.5h1M93 198.5h1M58 199.5h1M60 199.5h1M61 199.5h1M62 199.5h1M63 199.5h1M64 199.5h1M65 199.5h1M66 199.5h1M67 199.5h1M68 199.5h1M69 199.5h1M70 199.5h1M71 199.5h1M72 199.5h1M73 199.5h1M74 199.5h1M75 199.5h1M76 199.5h1M77 199.5h1M78 199.5h1M79 199.5h1M80 199.5h1M81 199.5h1M82 199.5h1M83 199.5h1M84 199.5h1M85 199.5h1M86 199.5h1M87 199.5h1M88 199.5h1M89 199.5h1M90 199.5h1M91 199.5h1M93 199.5h1M94 199.5h1M57 200.5h1M61 200.5h1M63 200.5h1M64 200.5h1M65 200.5h1M66 200.5h1M67 200.5h1M68 200.5h1M69 200.5h1M70 200.5h1M71 200.5h1M73 200.5h1M74 200.5h1M75 200.5h1M76 200.5h1M77 200.5h1M78 200.5h1M79 200.5h1M80 200.5h1M81 200.5h1M82 200.5h1M83 200.5h1M84 200.5h1M86 200.5h1M87 200.5h1M88 200.5h1M90 200.5h1M91 200.5h1M93 200.5h1M94 200.5h1M95 200.5h1M57 201.5h1M61 201.5h1M62 201.5h1M64 201.5h1M65 201.5h1M66 201.5h1M67 201.5h1M68 201.5h1M69 201.5h1M70 201.5h1M71 201.5h1M72 201.5h1M73 201.5h1M74 201.5h1M75 201.5h1M76 201.5h1M77 201.5h1M78 201.5h1M79 201.5h1M80 201.5h1M81 201.5h1M83 201.5h1M84 201.5h1M86 201.5h1M87 201.5h1M88 201.5h1M89 201.5h1M90 201.5h1M63 202.5h1M66 202.5h1M67 202.5h1M69 202.5h1M70 202.5h1M71 202.5h1M72 202.5h1M73 202.5h1M74 202.5h1M75 202.5h1M76 202.5h1M77 202.5h1M78 202.5h1M79 202.5h1M80 202.5h1M81 202.5h1M82 202.5h1M83 202.5h1M85 202.5h1M87 202.5h1M89 202.5h1M90 202.5h1M91 202.5h1M65 203.5h1M66 203.5h1M67 203.5h1M68 203.5h1M71 203.5h1M72 203.5h1M76 203.5h1M80 203.5h1M82 203.5h1M84 203.5h1M87 203.5h1M91 203.5h1M75 204.5h1M87 204.5h1M115 218.5h1M115 221.5h1M118 221.5h1M116 222.5h1M114 223.5h1M116 223.5h1M117 223.5h1M114 224.5h1M116 224.5h1M117 224.5h1M118 224.5h1M120 224.5h1M113 225.5h1M115 225.5h1M116 225.5h1M120 225.5h1M114 226.5h1M116 226.5h1M117 226.5h1M118 226.5h1M120 226.5h1M111 227.5h1M113 227.5h1M114 227.5h1M116 227.5h1M117 227.5h1M118 227.5h1M114 228.5h1M115 228.5h1M116 228.5h1M117 228.5h1M118 228.5h1M119 228.5h1M120 228.5h1M112 229.5h1M113 229.5h1M114 229.5h1M115 229.5h1M116 229.5h1M117 229.5h1M118 229.5h1M119 229.5h1M120 229.5h1M121 229.5h1M112 230.5h1M113 230.5h1M114 230.5h1M115 230.5h1M116 230.5h1M117 230.5h1M118 230.5h1M119 230.5h1M120 230.5h1M113 231.5h1M114 231.5h1M115 231.5h1M116 231.5h1M117 231.5h1M118 231.5h1M119 231.5h1M120 231.5h1M121 231.5h1M113 232.5h1M114 232.5h1M115 232.5h1M116 232.5h1M117 232.5h1M118 232.5h1M119 232.5h1M121 232.5h1M113 233.5h1M114 233.5h1M115 233.5h1M116 233.5h1M117 233.5h1M118 233.5h1M119 233.5h1M120 233.5h1M113 234.5h1M114 234.5h1M115 234.5h1M116 234.5h1M117 234.5h1M118 234.5h1M119 234.5h1M120 234.5h1M121 234.5h1M113 235.5h1M115 235.5h1M116 235.5h1M117 235.5h1M118 235.5h1M119 235.5h1M120 235.5h1M121 235.5h1M113 236.5h1M114 236.5h1M115 236.5h1M116 236.5h1M117 236.5h1M118 236.5h1M119 236.5h1M120 236.5h1M112 237.5h1M113 237.5h1M115 237.5h1M116 237.5h1M117 237.5h1M118 237.5h1M113 238.5h1M114 238.5h1M115 238.5h1M116 238.5h1M117 238.5h1M118 238.5h1M119 238.5h1M111 239.5h1M112 239.5h1M113 239.5h1M115 239.5h1M116 239.5h1M117 239.5h1M118 239.5h1M119 239.5h1M121 239.5h1M111 240.5h1M113 240.5h1M115 240.5h1M116 240.5h1M117 240.5h1M118 240.5h1M119 240.5h1M113 241.5h1M114 241.5h1M115 241.5h1M116 241.5h1M117 241.5h1M119 241.5h1M113 242.5h1M114 242.5h1M115 242.5h1M116 242.5h1M117 242.5h1M118 242.5h1M119 242.5h1M112 243.5h1M113 243.5h1M114 243.5h1M115 243.5h1M116 243.5h1M118 243.5h1M119 243.5h1M121 243.5h1M112 244.5h1M113 244.5h1M114 244.5h1M115 244.5h1M116 244.5h1M117 244.5h1M118 244.5h1M113 245.5h1M115 245.5h1M116 245.5h1M117 245.5h1M118 245.5h1M111 246.5h1M112 246.5h1M113 246.5h1M114 246.5h1M115 246.5h1M116 246.5h1M117 246.5h1M120 246.5h1M116 247.5h1M117 247.5h1" stroke="#181818" stroke-width="1" fill="none" shape-rendering="crispEdges" filter="url(#bl)"/>
<rect x="54.40" y="160.50" width="88.00" height="88.10" fill="none" stroke="#7c7c7c" stroke-width="1.25"/>
<rect x="55.70" y="184.50" width="46.60" height="28.60" fill="none" stroke="#6e6e6e" stroke-width="1.1"/>
<rect x="106.30" y="215.20" width="24.30" height="32.70" fill="none" stroke="#6e6e6e" stroke-width="1.1"/>
<text x="54.70" y="257.00" font-size="4.2" text-anchor="middle" fill="#111" stroke="#111" stroke-width="0.15" font-family='"Liberation Sans", sans-serif'>10<tspan font-size="2.60" dy="-1.6">0</tspan></text>
<text x="76.70" y="257.00" font-size="4.2" text-anchor="middle" fill="#111" stroke="#111" stroke-width="0.15" font-family='"Liberation Sans", sans-serif'>10<tspan font-size="2.60" dy="-1.6">1</tspan></text>
<text x="98.70" y="257.00" font-size="4.2" text-anchor="middle" fill="#111" stroke="#111" stroke-width="0.15" font-family='"Liberation Sans", sans-serif'>10<tspan font-size="2.60" dy="-1.6">2</tspan></text>
<text x="120.70" y="257.00" font-size="4.2" text-anchor="middle" fill="#111" stroke="#111" stroke-width="0.15" font-family='"Liberation Sans", sans-serif'>10<tspan font-size="2.60" dy="-1.6">3</tspan></text>
<text x="142.70" y="257.00" font-size="4.2" text-anchor="middle" fill="#111" stroke="#111" stroke-width="0.15" font-family='"Liberation Sans", sans-serif'>10<tspan font-size="2.60" dy="-1.6">4</tspan></text>
<text x="50.80" y="250.10" font-size="4.2" text-anchor="end" fill="#111" stroke="#111" stroke-width="0.15" font-family='"Liberation Sans", sans-serif'>10<tspan font-size="2.60" dy="-1.6">0</tspan></text>
<text x="50.80" y="228.07" font-size="4.2" text-anchor="end" fill="#111" stroke="#111" stroke-width="0.15" font-family='"Liberation Sans", sans-serif'>10<tspan font-size="2.60" dy="-1.6">1</tspan></text>
<text x="50.80" y="206.05" font-size="4.2" text-anchor="end" fill="#111" stroke="#111" stroke-width="0.15" font-family='"Liberation Sans", sans-serif'>10<tspan font-size="2.60" dy="-1.6">2</tspan></text>
<text x="50.80" y="184.03" font-size="4.2" text-anchor="end" fill="#111" stroke="#111" stroke-width="0.15" font-family='"Liberation Sans", sans-serif'>10<tspan font-size="2.60" dy="-1.6">3</tspan></text>
<text x="50.80" y="162.00" font-size="4.2" text-anchor="end" fill="#111" stroke="#111" stroke-width="0.15" font-family='"Liberation Sans", sans-serif'>10<tspan font-size="2.60" dy="-1.6">4</tspan></text>
<path d="M54.40 248.60v1.6M54.40 248.60h-1.6M61.02 248.60v0.9M54.40 241.97h-0.9M64.90 248.60v0.9M54.40 238.09h-0.9M67.65 248.60v0.9M54.40 235.34h-0.9M69.78 248.60v0.9M54.40 233.21h-0.9M71.52 248.60v0.9M54.40 231.46h-0.9M72.99 248.60v0.9M54.40 229.99h-0.9M74.27 248.60v0.9M54.40 228.71h-0.9M75.39 248.60v0.9M54.40 227.58h-0.9M76.40 248.60v1.6M54.40 226.57h-1.6M83.02 248.60v0.9M54.40 219.94h-0.9M86.90 248.60v0.9M54.40 216.07h-0.9M89.65 248.60v0.9M54.40 213.31h-0.9M91.78 248.60v0.9M54.40 211.18h-0.9M93.52 248.60v0.9M54.40 209.44h-0.9M94.99 248.60v0.9M54.40 207.96h-0.9M96.27 248.60v0.9M54.40 206.68h-0.9M97.39 248.60v0.9M54.40 205.56h-0.9M98.40 248.60v1.6M54.40 204.55h-1.6M105.02 248.60v0.9M54.40 197.92h-0.9M108.90 248.60v0.9M54.40 194.04h-0.9M111.65 248.60v0.9M54.40 191.29h-0.9M113.78 248.60v0.9M54.40 189.16h-0.9M115.52 248.60v0.9M54.40 187.41h-0.9M116.99 248.60v0.9M54.40 185.94h-0.9M118.27 248.60v0.9M54.40 184.66h-0.9M119.39 248.60v0.9M54.40 183.53h-0.9M120.40 248.60v1.6M54.40 182.53h-1.6M127.02 248.60v0.9M54.40 175.89h-0.9M130.90 248.60v0.9M54.40 172.02h-0.9M133.65 248.60v0.9M54.40 169.26h-0.9M135.78 248.60v0.9M54.40 167.13h-0.9M137.52 248.60v0.9M54.40 165.39h-0.9M138.99 248.60v0.9M54.40 163.91h-0.9M140.27 248.60v0.9M54.40 162.63h-0.9M141.39 248.60v0.9M54.40 161.51h-0.9" stroke="#888" stroke-width="0.6" fill="none"/>
<text x="98.8" y="261.8" font-size="4.0" font-weight="bold" text-anchor="middle" fill="#111" font-family='"Liberation Sans", sans-serif'>FL3-H: CD8 PE</text>
<text x="57.0" y="182.8" font-size="8.6" text-anchor="start" font-weight="normal" font-style="normal" fill="#000" font-family='"Liberation Sans", sans-serif'  stroke="#000" stroke-width="0.25">64.1</text>
<text x="141.1" y="213.6" font-size="8.6" text-anchor="end" font-weight="normal" font-style="normal" fill="#000" font-family='"Liberation Sans", sans-serif'  stroke="#000" stroke-width="0.25">33.7</text>
<path d="M218 199.5h1M221 200.5h1M211 203.5h1M216 204.5h1M218 204.5h1M226 204.5h1M217 205.5h1M218 205.5h1M226 205.5h1M217 206.5h1M218 206.5h1M228 206.5h1M176 208.5h1M219 208.5h1M222 208.5h1M229 208.5h1M206 209.5h1M219 209.5h1M215 210.5h1M218 210.5h1M221 211.5h1M228 211.5h1M214 212.5h1M225 212.5h1M183 216.5h1M185 216.5h1M192 218.5h1M202 219.5h1M191 220.5h1M193 220.5h1M195 220.5h1M187 222.5h1M193 222.5h1M164 223.5h1M178 223.5h1M188 223.5h1M169 224.5h1M179 224.5h1M177 225.5h1M182 225.5h1M190 225.5h1M189 226.5h1M167 227.5h1M169 227.5h1M181 227.5h1M186 227.5h1M198 227.5h1M205 227.5h1M180 228.5h1M183 228.5h1M189 228.5h1M192 228.5h1M193 228.5h1M171 229.5h1M180 229.5h1M187 229.5h1M194 229.5h1M164 230.5h1M165 230.5h1M180 230.5h1M186 230.5h1M187 230.5h1M189 230.5h1M167 231.5h1M170 231.5h1M178 231.5h1M183 231.5h1M177 232.5h1M179 232.5h1M183 232.5h1M195 232.5h1M166 233.5h1M171 233.5h1M179 233.5h1M180 233.5h1M182 233.5h1M185 233.5h1M186 233.5h1M192 233.5h1M193 233.5h1M177 234.5h1M187 234.5h1M188 234.5h1M191 234.5h1M173 235.5h1M185 235.5h1M187 235.5h1M193 235.5h1M199 235.5h1M187 236.5h1M163 237.5h1M182 237.5h1M199 237.5h1M175 238.5h1M189 238.5h1M203 238.5h1M173 239.5h1M179 239.5h1M188 239.5h1M201 239.5h1M170 240.5h1M185 240.5h1M187 240.5h1M196 240.5h1M205 240.5h1M169 241.5h1M174 241.5h1M184 241.5h1M178 242.5h1M183 242.5h1M180 243.5h1M196 243.5h1M166 244.5h1M171 244.5h1M184 244.5h1M176 245.5h1M194 245.5h1M180 246.5h1M188 246.5h1M196 247.5h1" stroke="#c0c0c0" stroke-width="1" fill="none" shape-rendering="crispEdges" filter="url(#bl)"/>
<path d="M220 207.5h1M173 223.5h1M183 226.5h1M172 227.5h1M191 227.5h1M184 229.5h1M186 234.5h1M185 239.5h1" stroke="#a8a8a8" stroke-width="1" fill="none" shape-rendering="crispEdges" filter="url(#bl)"/>
<path d="M189 191.5h1M186 193.5h1M187 193.5h1M193 193.5h1M180 194.5h1M185 194.5h1M169 195.5h1M183 195.5h1M185 195.5h1M188 195.5h1M197 195.5h1M182 196.5h1M184 196.5h1M187 196.5h1M175 197.5h1M176 197.5h1M182 197.5h1M172 198.5h1M181 198.5h1M186 198.5h1M189 198.5h1M191 198.5h1M200 198.5h1M165 199.5h1M166 199.5h1M170 199.5h1M172 199.5h1M175 199.5h1M176 199.5h1M184 199.5h1M187 199.5h1M193 199.5h1M163 200.5h1M171 200.5h1M173 200.5h1M176 200.5h1M179 200.5h1M180 200.5h1M187 200.5h1M188 200.5h1M196 200.5h1M197 200.5h1M169 201.5h1M172 201.5h1M173 201.5h1M175 201.5h1M177 201.5h1M183 201.5h1M188 201.5h1M190 201.5h1M191 201.5h1M194 201.5h1M195 201.5h1M174 202.5h1M175 202.5h1M176 202.5h1M181 202.5h1M183 202.5h1M188 202.5h1M189 202.5h1M190 202.5h1M193 202.5h1M195 202.5h1M196 202.5h1M169 203.5h1M172 203.5h1M176 203.5h1M184 203.5h1M187 203.5h1M189 203.5h1M190 203.5h1M191 203.5h1M192 203.5h1M193 203.5h1M195 203.5h1M196 203.5h1M197 203.5h1M203 203.5h1M166 204.5h1M168 204.5h1M178 204.5h1M179 204.5h1M182 204.5h1M185 204.5h1M187 204.5h1M189 204.5h1M192 204.5h1M195 204.5h1M202 204.5h1M164 205.5h1M166 205.5h1M170 205.5h1M172 205.5h1M173 205.5h1M174 205.5h1M175 205.5h1M178 205.5h1M180 205.5h1M183 205.5h1M185 205.5h1M187 205.5h1M192 205.5h1M193 205.5h1M196 205.5h1M197 205.5h1M169 206.5h1M170 206.5h1M173 206.5h1M175 206.5h1M176 206.5h1M178 206.5h1M179 206.5h1M180 206.5h1M182 206.5h1M191 206.5h1M193 206.5h1M197 206.5h1M199 206.5h1M163 207.5h1M164 207.5h1M165 207.5h1M166 207.5h1M168 207.5h1M170 207.5h1M175 207.5h1M180 207.5h1M186 207.5h1M194 207.5h1M195 207.5h1M167 208.5h1M171 208.5h1M173 208.5h1M175 208.5h1M177 208.5h1M179 208.5h1M180 208.5h1M181 208.5h1M185 208.5h1M187 208.5h1M189 208.5h1M191 208.5h1M192 208.5h1M198 208.5h1M204 208.5h1M172 209.5h1M176 209.5h1M180 209.5h1M183 209.5h1M184 209.5h1M186 209.5h1M187 209.5h1M189 209.5h1M191 209.5h1M192 209.5h1M193 209.5h1M195 209.5h1M198 209.5h1M171 210.5h1M178 210.5h1M180 210.5h1M182 210.5h1M185 210.5h1M190 210.5h1M192 210.5h1M195 210.5h1M203 210.5h1M167 211.5h1M170 211.5h1M174 211.5h1M176 211.5h1M177 211.5h1M178 211.5h1M180 211.5h1M181 211.5h1M183 211.5h1M186 211.5h1M193 211.5h1M197 211.5h1M198 211.5h1M171 212.5h1M174 212.5h1M175 212.5h1M177 212.5h1M179 212.5h1M183 212.5h1M186 212.5h1M193 212.5h1M164 213.5h1M174 213.5h1M175 213.5h1M178 213.5h1M183 213.5h1M184 213.5h1M185 213.5h1M186 213.5h1M187 213.5h1M188 213.5h1M191 213.5h1M193 213.5h1M228 213.5h1M172 214.5h1M178 214.5h1M179 214.5h1M185 214.5h1M192 214.5h1M197 214.5h1M225 214.5h1M176 215.5h1M183 215.5h1M197 215.5h1M217 215.5h1M163 216.5h1M168 216.5h1M172 216.5h1M200 216.5h1M216 216.5h1M181 217.5h1M182 217.5h1M198 217.5h1M222 217.5h1M225 217.5h1M176 218.5h1M217 218.5h1M220 218.5h1M221 218.5h1M184 219.5h1M215 219.5h1M224 219.5h1M225 219.5h1M229 219.5h1M231 219.5h1M217 220.5h1M218 220.5h1M219 220.5h1M223 220.5h1M224 220.5h1M226 220.5h1M214 221.5h1M216 221.5h1M218 221.5h1M219 221.5h1M221 221.5h1M225 221.5h1M215 222.5h1M217 222.5h1M218 222.5h1M220 222.5h1M223 222.5h1M224 222.5h1M215 223.5h1M218 223.5h1M219 223.5h1M225 223.5h1M215 224.5h1M217 224.5h1M221 224.5h1M224 224.5h1M225 224.5h1M226 224.5h1M217 225.5h1M218 225.5h1M219 225.5h1M220 225.5h1M223 225.5h1M224 225.5h1M225 225.5h1M216 226.5h1M217 226.5h1M223 226.5h1M226 226.5h1M227 226.5h1M214 227.5h1M218 227.5h1M221 227.5h1M223 227.5h1M226 227.5h1M227 227.5h1M228 227.5h1M230 227.5h1M213 228.5h1M214 228.5h1M217 228.5h1M218 228.5h1M222 228.5h1M225 228.5h1M228 228.5h1M229 228.5h1M230 228.5h1M231 228.5h1M212 229.5h1M218 229.5h1M221 229.5h1M225 229.5h1M227 229.5h1M229 229.5h1M231 229.5h1M215 230.5h1M216 230.5h1M218 230.5h1M227 230.5h1M228 230.5h1M229 230.5h1M231 230.5h1M222 231.5h1M224 231.5h1M214 232.5h1M218 232.5h1M219 232.5h1M221 232.5h1M224 232.5h1M227 232.5h1M230 232.5h1M215 233.5h1M216 233.5h1M217 233.5h1M218 233.5h1M219 233.5h1M221 233.5h1M226 233.5h1M227 233.5h1M229 233.5h1M230 233.5h1M232 233.5h1M234 233.5h1M217 234.5h1M218 234.5h1M223 234.5h1M231 234.5h1M217 235.5h1M218 235.5h1M219 235.5h1M225 235.5h1M232 235.5h1M212 236.5h1M213 236.5h1M217 236.5h1M218 236.5h1M225 236.5h1M226 236.5h1M227 236.5h1M228 236.5h1M216 237.5h1M218 237.5h1M222 237.5h1M226 237.5h1M231 237.5h1M213 238.5h1M215 238.5h1M216 238.5h1M217 238.5h1M222 238.5h1M224 238.5h1M225 238.5h1M214 239.5h1M216 239.5h1M217 239.5h1M218 239.5h1M224 239.5h1M216 240.5h1M218 240.5h1M222 240.5h1M225 240.5h1M226 240.5h1M230 240.5h1M215 241.5h1M217 241.5h1M219 241.5h1M220 241.5h1M224 241.5h1M227 241.5h1M231 241.5h1M216 242.5h1M217 242.5h1M218 242.5h1M220 242.5h1M224 242.5h1M226 242.5h1M227 242.5h1M231 242.5h1M220 243.5h1M222 243.5h1M223 243.5h1M226 243.5h1M218 244.5h1M219 244.5h1M222 244.5h1M218 245.5h1M219 245.5h1M223 245.5h1M228 245.5h1M218 246.5h1M222 246.5h1M225 246.5h1M227 246.5h1M227 247.5h1" stroke="#787878" stroke-width="1" fill="none" shape-rendering="crispEdges" filter="url(#bl)"/>
<path d="M179 195.5h1M180 196.5h1M174 199.5h1M183 199.5h1M188 199.5h1M168 201.5h1M176 201.5h1M178 201.5h1M180 201.5h1M181 201.5h1M184 201.5h1M186 201.5h1M189 201.5h1M178 202.5h1M180 202.5h1M182 202.5h1M186 202.5h1M187 202.5h1M199 202.5h1M171 203.5h1M175 203.5h1M179 203.5h1M180 203.5h1M181 203.5h1M182 203.5h1M183 203.5h1M180 204.5h1M183 204.5h1M188 204.5h1M191 204.5h1M168 205.5h1M184 205.5h1M188 205.5h1M189 205.5h1M190 205.5h1M194 205.5h1M168 206.5h1M183 206.5h1M184 206.5h1M188 206.5h1M171 207.5h1M172 207.5h1M173 207.5h1M177 207.5h1M182 207.5h1M185 207.5h1M189 207.5h1M178 208.5h1M182 208.5h1M184 208.5h1M186 208.5h1M193 208.5h1M175 209.5h1M177 209.5h1M178 209.5h1M182 209.5h1M188 209.5h1M190 209.5h1M170 210.5h1M189 210.5h1M179 211.5h1M182 211.5h1M185 211.5h1M192 211.5h1M178 212.5h1M188 212.5h1M217 216.5h1M222 218.5h1M222 220.5h1M222 221.5h1M219 224.5h1M222 224.5h1M221 225.5h1M222 225.5h1M226 225.5h1M220 226.5h1M221 226.5h1M225 226.5h1M220 227.5h1M216 228.5h1M219 228.5h1M226 228.5h1M217 229.5h1M220 229.5h1M223 229.5h1M224 229.5h1M228 229.5h1M217 230.5h1M219 230.5h1M220 230.5h1M221 230.5h1M217 231.5h1M218 231.5h1M219 231.5h1M223 231.5h1M226 231.5h1M227 231.5h1M230 231.5h1M216 232.5h1M217 232.5h1M225 232.5h1M228 233.5h1M220 234.5h1M221 234.5h1M222 234.5h1M223 236.5h1M224 236.5h1M230 236.5h1M219 238.5h1M220 238.5h1M221 238.5h1M227 238.5h1M219 239.5h1M220 239.5h1M227 239.5h1M221 240.5h1M223 240.5h1M224 240.5h1M229 240.5h1M218 241.5h1M221 241.5h1M223 242.5h1M223 244.5h1M227 244.5h1M222 245.5h1M227 245.5h1" stroke="#303030" stroke-width="1" fill="none" shape-rendering="crispEdges" filter="url(#bl)"/>
<path d="M184 198.5h1M190 198.5h1M177 202.5h1M177 203.5h1M176 205.5h1M177 205.5h1M181 205.5h1M186 205.5h1M171 206.5h1M177 206.5h1M186 206.5h1M187 206.5h1M178 207.5h1M181 207.5h1M184 207.5h1M190 207.5h1M193 207.5h1M183 208.5h1M181 209.5h1M183 210.5h1M186 210.5h1M189 211.5h1M222 219.5h1M224 221.5h1M219 226.5h1M219 227.5h1M222 227.5h1M220 228.5h1M221 228.5h1M223 228.5h1M224 228.5h1M226 229.5h1M223 230.5h1M226 230.5h1M220 231.5h1M225 231.5h1M220 232.5h1M222 232.5h1M223 232.5h1M226 232.5h1M220 233.5h1M222 233.5h1M223 233.5h1M219 234.5h1M224 234.5h1M225 234.5h1M226 234.5h1M220 235.5h1M221 235.5h1M222 235.5h1M224 235.5h1M219 236.5h1M220 236.5h1M222 236.5h1M217 237.5h1M219 237.5h1M221 237.5h1M223 237.5h1M224 237.5h1M225 237.5h1M223 238.5h1M222 239.5h1M223 239.5h1M219 240.5h1" stroke="#181818" stroke-width="1" fill="none" shape-rendering="crispEdges" filter="url(#bl)"/>
<rect x="161.60" y="160.50" width="88.00" height="88.10" fill="none" stroke="#7c7c7c" stroke-width="1.25"/>
<rect x="162.70" y="191.30" width="46.50" height="28.50" fill="none" stroke="#6e6e6e" stroke-width="1.1"/>
<rect x="212.80" y="216.00" width="24.40" height="31.90" fill="none" stroke="#6e6e6e" stroke-width="1.1"/>
<text x="161.90" y="257.00" font-size="4.2" text-anchor="middle" fill="#111" stroke="#111" stroke-width="0.15" font-family='"Liberation Sans", sans-serif'>10<tspan font-size="2.60" dy="-1.6">0</tspan></text>
<text x="183.90" y="257.00" font-size="4.2" text-anchor="middle" fill="#111" stroke="#111" stroke-width="0.15" font-family='"Liberation Sans", sans-serif'>10<tspan font-size="2.60" dy="-1.6">1</tspan></text>
<text x="205.90" y="257.00" font-size="4.2" text-anchor="middle" fill="#111" stroke="#111" stroke-width="0.15" font-family='"Liberation Sans", sans-serif'>10<tspan font-size="2.60" dy="-1.6">2</tspan></text>
<text x="227.90" y="257.00" font-size="4.2" text-anchor="middle" fill="#111" stroke="#111" stroke-width="0.15" font-family='"Liberation Sans", sans-serif'>10<tspan font-size="2.60" dy="-1.6">3</tspan></text>
<text x="249.90" y="257.00" font-size="4.2" text-anchor="middle" fill="#111" stroke="#111" stroke-width="0.15" font-family='"Liberation Sans", sans-serif'>10<tspan font-size="2.60" dy="-1.6">4</tspan></text>
<text x="158.00" y="250.10" font-size="4.2" text-anchor="end" fill="#111" stroke="#111" stroke-width="0.15" font-family='"Liberation Sans", sans-serif'>10<tspan font-size="2.60" dy="-1.6">0</tspan></text>
<text x="158.00" y="228.07" font-size="4.2" text-anchor="end" fill="#111" stroke="#111" stroke-width="0.15" font-family='"Liberation Sans", sans-serif'>10<tspan font-size="2.60" dy="-1.6">1</tspan></text>
<text x="158.00" y="206.05" font-size="4.2" text-anchor="end" fill="#111" stroke="#111" stroke-width="0.15" font-family='"Liberation Sans", sans-serif'>10<tspan font-size="2.60" dy="-1.6">2</tspan></text>
<text x="158.00" y="184.03" font-size="4.2" text-anchor="end" fill="#111" stroke="#111" stroke-width="0.15" font-family='"Liberation Sans", sans-serif'>10<tspan font-size="2.60" dy="-1.6">3</tspan></text>
<text x="158.00" y="162.00" font-size="4.2" text-anchor="end" fill="#111" stroke="#111" stroke-width="0.15" font-family='"Liberation Sans", sans-serif'>10<tspan font-size="2.60" dy="-1.6">4</tspan></text>
<path d="M161.60 248.60v1.6M161.60 248.60h-1.6M168.22 248.60v0.9M161.60 241.97h-0.9M172.10 248.60v0.9M161.60 238.09h-0.9M174.85 248.60v0.9M161.60 235.34h-0.9M176.98 248.60v0.9M161.60 233.21h-0.9M178.72 248.60v0.9M161.60 231.46h-0.9M180.19 248.60v0.9M161.60 229.99h-0.9M181.47 248.60v0.9M161.60 228.71h-0.9M182.59 248.60v0.9M161.60 227.58h-0.9M183.60 248.60v1.6M161.60 226.57h-1.6M190.22 248.60v0.9M161.60 219.94h-0.9M194.10 248.60v0.9M161.60 216.07h-0.9M196.85 248.60v0.9M161.60 213.31h-0.9M198.98 248.60v0.9M161.60 211.18h-0.9M200.72 248.60v0.9M161.60 209.44h-0.9M202.19 248.60v0.9M161.60 207.96h-0.9M203.47 248.60v0.9M161.60 206.68h-0.9M204.59 248.60v0.9M161.60 205.56h-0.9M205.60 248.60v1.6M161.60 204.55h-1.6M212.22 248.60v0.9M161.60 197.92h-0.9M216.10 248.60v0.9M161.60 194.04h-0.9M218.85 248.60v0.9M161.60 191.29h-0.9M220.98 248.60v0.9M161.60 189.16h-0.9M222.72 248.60v0.9M161.60 187.41h-0.9M224.19 248.60v0.9M161.60 185.94h-0.9M225.47 248.60v0.9M161.60 184.66h-0.9M226.59 248.60v0.9M161.60 183.53h-0.9M227.60 248.60v1.6M161.60 182.53h-1.6M234.22 248.60v0.9M161.60 175.89h-0.9M238.10 248.60v0.9M161.60 172.02h-0.9M240.85 248.60v0.9M161.60 169.26h-0.9M242.98 248.60v0.9M161.60 167.13h-0.9M244.72 248.60v0.9M161.60 165.39h-0.9M246.19 248.60v0.9M161.60 163.91h-0.9M247.47 248.60v0.9M161.60 162.63h-0.9M248.59 248.60v0.9M161.60 161.51h-0.9" stroke="#888" stroke-width="0.6" fill="none"/>
<text x="206.0" y="261.8" font-size="4.0" font-weight="bold" text-anchor="middle" fill="#111" font-family='"Liberation Sans", sans-serif'>FL3-H: CD8 PE</text>
<text x="164.0" y="189.60000000000002" font-size="8.6" text-anchor="start" font-weight="normal" font-style="normal" fill="#000" font-family='"Liberation Sans", sans-serif'  stroke="#000" stroke-width="0.25">42.1</text>
<text x="248.29999999999998" y="213.6" font-size="8.6" text-anchor="end" font-weight="normal" font-style="normal" fill="#000" font-family='"Liberation Sans", sans-serif'  stroke="#000" stroke-width="0.25">51.9</text>
<path d="M331 196.5h1M334 200.5h1M331 202.5h1M324 203.5h1M327 203.5h1M329 203.5h1M328 204.5h1M335 204.5h1M317 206.5h1M322 206.5h1M319 207.5h1M325 208.5h1M326 209.5h1M320 210.5h1M336 210.5h1M327 211.5h1M331 211.5h1M332 211.5h1M324 212.5h1M325 212.5h1M273 213.5h1M294 215.5h1M327 215.5h1M307 216.5h1M331 216.5h1M296 217.5h1M342 217.5h1M279 219.5h1M289 219.5h1M306 219.5h1M283 220.5h1M293 220.5h1M282 221.5h1M298 221.5h1M280 222.5h1M281 222.5h1M290 222.5h1M292 222.5h1M293 222.5h1M285 223.5h1M287 223.5h1M291 223.5h1M301 223.5h1M303 223.5h1M283 225.5h1M298 225.5h1M303 225.5h1M291 226.5h1M293 226.5h1M296 226.5h1M297 226.5h1M300 226.5h1M301 226.5h1M273 227.5h1M280 227.5h1M283 227.5h1M287 227.5h1M289 227.5h1M301 227.5h1M273 228.5h1M286 228.5h1M319 228.5h1M277 229.5h1M282 229.5h1M284 229.5h1M292 229.5h1M297 229.5h1M298 229.5h1M308 229.5h1M274 230.5h1M284 230.5h1M307 230.5h1M271 231.5h1M280 231.5h1M298 231.5h1M275 232.5h1M280 232.5h1M284 232.5h1M302 233.5h1M305 233.5h1M310 233.5h1M320 233.5h1M290 234.5h1M294 234.5h1M281 235.5h1M298 235.5h1M305 235.5h1M307 235.5h1M277 237.5h1M289 237.5h1M300 237.5h1M304 237.5h1M302 238.5h1M280 239.5h1M284 239.5h1M288 239.5h1M292 239.5h1M312 239.5h1M313 239.5h1M287 240.5h1M302 240.5h1M283 241.5h1M286 241.5h1M300 241.5h1M304 241.5h1M288 242.5h1M296 242.5h1M316 243.5h1M286 244.5h1M289 244.5h1M290 244.5h1M272 246.5h1M290 246.5h1M279 247.5h1M298 247.5h1" stroke="#c0c0c0" stroke-width="1" fill="none" shape-rendering="crispEdges" filter="url(#bl)"/>
<path d="M307 191.5h1M300 192.5h1M287 193.5h1M301 194.5h1M273 195.5h1M274 195.5h1M291 195.5h1M293 195.5h1M271 196.5h1M275 196.5h1M285 196.5h1M291 196.5h1M286 197.5h1M290 197.5h1M298 197.5h1M301 197.5h1M305 197.5h1M273 198.5h1M289 198.5h1M294 198.5h1M298 198.5h1M300 198.5h1M303 198.5h1M284 199.5h1M298 199.5h1M301 199.5h1M305 199.5h1M307 199.5h1M299 200.5h1M292 201.5h1M293 201.5h1M310 201.5h1M301 202.5h1M304 202.5h1M310 202.5h1M312 202.5h1M310 203.5h1M271 204.5h1M297 204.5h1M306 204.5h1M324 204.5h1M306 205.5h1M321 205.5h1M302 206.5h1M308 206.5h1M302 207.5h1M310 207.5h1M313 207.5h1M323 207.5h1M309 209.5h1M272 210.5h1M300 210.5h1M314 210.5h1M301 211.5h1M304 211.5h1M306 211.5h1M318 211.5h1M299 212.5h1M300 212.5h1M304 212.5h1M270 213.5h1M282 213.5h1M287 213.5h1M316 213.5h1M276 214.5h1M283 214.5h1M291 214.5h1M294 214.5h1M299 214.5h1M303 214.5h1M272 215.5h1M286 215.5h1M292 215.5h1M317 215.5h1M275 216.5h1M280 216.5h1M284 216.5h1M289 216.5h1M291 216.5h1M293 216.5h1M295 216.5h1M297 216.5h1M298 216.5h1M311 216.5h1M274 217.5h1M277 217.5h1M287 217.5h1M292 217.5h1M286 218.5h1M290 218.5h1M292 218.5h1M293 218.5h1M302 218.5h1M294 219.5h1M297 219.5h1M285 220.5h1M304 220.5h1M297 221.5h1M272 222.5h1M299 222.5h1M290 223.5h1M271 226.5h1M282 226.5h1M292 226.5h1M292 234.5h1M299 235.5h1M297 236.5h1" stroke="#a8a8a8" stroke-width="1" fill="none" shape-rendering="crispEdges" filter="url(#bl)"/>
<path d="M319 204.5h1M304 214.5h1" stroke="#909090" stroke-width="1" fill="none" shape-rendering="crispEdges" filter="url(#bl)"/>
<path d="M283 195.5h1M279 196.5h1M286 196.5h1M281 197.5h1M299 197.5h1M274 198.5h1M277 198.5h1M291 198.5h1M293 198.5h1M296 198.5h1M305 198.5h1M274 199.5h1M277 199.5h1M289 199.5h1M275 200.5h1M278 200.5h1M281 200.5h1M284 200.5h1M288 200.5h1M292 200.5h1M303 200.5h1M274 201.5h1M278 201.5h1M281 201.5h1M283 201.5h1M288 201.5h1M294 201.5h1M304 201.5h1M305 201.5h1M306 201.5h1M271 202.5h1M274 202.5h1M295 202.5h1M296 202.5h1M270 203.5h1M271 203.5h1M273 203.5h1M278 203.5h1M284 203.5h1M294 203.5h1M298 203.5h1M299 203.5h1M300 203.5h1M272 204.5h1M273 204.5h1M295 204.5h1M298 204.5h1M299 204.5h1M309 204.5h1M270 205.5h1M275 205.5h1M283 205.5h1M302 205.5h1M303 205.5h1M307 205.5h1M295 206.5h1M296 206.5h1M298 206.5h1M307 206.5h1M300 207.5h1M301 207.5h1M303 207.5h1M308 207.5h1M275 208.5h1M294 208.5h1M301 208.5h1M302 208.5h1M303 208.5h1M271 209.5h1M300 209.5h1M301 209.5h1M303 209.5h1M306 209.5h1M298 210.5h1M301 210.5h1M303 210.5h1M305 210.5h1M270 211.5h1M271 211.5h1M272 211.5h1M292 211.5h1M295 211.5h1M297 211.5h1M305 211.5h1M271 212.5h1M277 212.5h1M278 212.5h1M293 212.5h1M295 212.5h1M298 212.5h1M329 212.5h1M271 213.5h1M272 213.5h1M275 213.5h1M281 213.5h1M284 213.5h1M292 213.5h1M293 213.5h1M294 213.5h1M297 213.5h1M305 213.5h1M323 213.5h1M331 213.5h1M272 214.5h1M275 214.5h1M282 214.5h1M286 214.5h1M287 214.5h1M293 214.5h1M295 214.5h1M296 214.5h1M297 214.5h1M271 215.5h1M277 215.5h1M284 215.5h1M287 215.5h1M295 215.5h1M297 215.5h1M301 215.5h1M325 215.5h1M276 216.5h1M287 216.5h1M294 216.5h1M296 216.5h1M328 216.5h1M275 217.5h1M326 217.5h1M328 217.5h1M331 217.5h1M299 218.5h1M319 218.5h1M327 218.5h1M329 218.5h1M330 218.5h1M326 219.5h1M327 219.5h1M330 219.5h1M331 219.5h1M334 219.5h1M337 220.5h1M324 221.5h1M325 221.5h1M330 221.5h1M332 221.5h1M333 221.5h1M334 221.5h1M327 222.5h1M330 222.5h1M333 222.5h1M334 222.5h1M336 222.5h1M326 223.5h1M327 223.5h1M328 223.5h1M329 223.5h1M335 223.5h1M337 223.5h1M338 223.5h1M334 224.5h1M335 224.5h1M337 224.5h1M339 224.5h1M324 226.5h1M327 226.5h1M333 227.5h1M335 227.5h1M336 227.5h1M341 227.5h1M324 229.5h1M335 229.5h1M337 229.5h1M335 230.5h1M337 230.5h1M321 231.5h1M335 231.5h1M337 231.5h1M323 232.5h1M324 232.5h1M327 232.5h1M335 232.5h1M323 233.5h1M334 233.5h1M324 234.5h1M336 234.5h1M324 235.5h1M338 235.5h1M336 236.5h1M338 236.5h1M325 237.5h1M336 237.5h1M320 238.5h1M322 238.5h1M325 238.5h1M335 238.5h1M324 239.5h1M336 239.5h1M335 240.5h1M323 241.5h1M324 241.5h1M327 241.5h1M331 241.5h1M334 241.5h1M336 241.5h1M323 242.5h1M324 242.5h1M326 243.5h1M334 243.5h1M335 243.5h1M337 243.5h1M322 244.5h1M334 244.5h1M335 244.5h1M330 245.5h1M332 245.5h1M333 245.5h1M335 245.5h1M324 246.5h1M327 246.5h1M330 246.5h1M331 246.5h1M332 246.5h1M335 246.5h1M336 246.5h1M324 247.5h1M327 247.5h1M328 247.5h1M329 247.5h1M330 247.5h1M333 247.5h1" stroke="#787878" stroke-width="1" fill="none" shape-rendering="crispEdges" filter="url(#bl)"/>
<path d="M326 213.5h1M281 216.5h1" stroke="#606060" stroke-width="1" fill="none" shape-rendering="crispEdges" filter="url(#bl)"/>
<path d="M288 198.5h1M279 199.5h1M285 199.5h1M292 199.5h1M294 199.5h1M276 200.5h1M279 200.5h1M285 200.5h1M287 200.5h1M277 201.5h1M284 201.5h1M285 201.5h1M291 201.5h1M295 201.5h1M302 201.5h1M291 202.5h1M277 203.5h1M301 204.5h1M271 205.5h1M296 205.5h1M298 205.5h1M300 205.5h1M301 205.5h1M271 207.5h1M274 209.5h1M298 209.5h1M273 210.5h1M294 211.5h1M272 212.5h1M274 212.5h1M281 212.5h1M286 212.5h1M287 212.5h1M277 213.5h1M285 213.5h1M290 213.5h1M296 213.5h1M274 214.5h1M292 214.5h1M285 215.5h1M289 215.5h1M271 216.5h1M290 216.5h1" stroke="#484848" stroke-width="1" fill="none" shape-rendering="crispEdges" filter="url(#bl)"/>
<path d="M279 198.5h1M280 199.5h1M282 199.5h1M288 199.5h1M280 200.5h1M286 200.5h1M289 200.5h1M293 200.5h1M272 201.5h1M275 201.5h1M276 201.5h1M287 201.5h1M298 201.5h1M270 202.5h1M272 202.5h1M275 202.5h1M276 202.5h1M277 202.5h1M278 202.5h1M281 202.5h1M282 202.5h1M283 202.5h1M287 202.5h1M289 202.5h1M292 202.5h1M274 203.5h1M285 203.5h1M291 203.5h1M292 203.5h1M297 203.5h1M277 204.5h1M284 204.5h1M293 204.5h1M294 204.5h1M296 204.5h1M273 205.5h1M276 205.5h1M293 205.5h1M295 205.5h1M271 206.5h1M273 206.5h1M297 206.5h1M301 206.5h1M294 207.5h1M299 207.5h1M272 208.5h1M296 208.5h1M297 208.5h1M275 209.5h1M277 209.5h1M297 209.5h1M299 209.5h1M275 210.5h1M279 210.5h1M283 210.5h1M294 210.5h1M295 210.5h1M273 211.5h1M277 211.5h1M287 211.5h1M298 211.5h1M300 211.5h1M270 212.5h1M283 212.5h1M285 212.5h1M289 212.5h1M294 212.5h1M297 212.5h1M278 213.5h1M279 213.5h1M283 213.5h1M286 213.5h1M281 214.5h1M288 214.5h1M281 215.5h1M288 215.5h1M332 215.5h1M277 216.5h1M285 217.5h1M330 217.5h1M328 219.5h1M332 219.5h1M333 219.5h1M326 220.5h1M329 220.5h1M330 220.5h1M331 220.5h1M332 220.5h1M333 220.5h1M326 221.5h1M327 221.5h1M331 221.5h1M331 222.5h1M332 222.5h1M325 223.5h1M331 223.5h1M332 223.5h1M334 223.5h1M324 224.5h1M325 224.5h1M326 224.5h1M332 224.5h1M324 225.5h1M334 225.5h1M330 226.5h1M323 227.5h1M326 227.5h1M331 227.5h1M326 228.5h1M333 228.5h1M336 228.5h1M325 229.5h1M323 230.5h1M324 230.5h1M323 231.5h1M324 231.5h1M325 231.5h1M326 232.5h1M326 233.5h1M333 233.5h1M335 233.5h1M321 234.5h1M334 234.5h1M322 235.5h1M335 235.5h1M336 235.5h1M323 236.5h1M324 236.5h1M331 236.5h1M324 237.5h1M333 237.5h1M335 237.5h1M323 238.5h1M337 238.5h1M325 239.5h1M335 239.5h1M324 240.5h1M325 240.5h1M326 240.5h1M327 240.5h1M334 240.5h1M330 241.5h1M332 241.5h1M335 241.5h1M337 241.5h1M325 242.5h1M328 242.5h1M333 242.5h1M334 242.5h1M336 242.5h1M325 243.5h1M327 243.5h1M333 243.5h1M325 244.5h1M333 244.5h1M326 245.5h1M327 245.5h1M331 245.5h1M326 246.5h1M328 246.5h1M329 246.5h1M334 246.5h1" stroke="#303030" stroke-width="1" fill="none" shape-rendering="crispEdges" filter="url(#bl)"/>
<path d="M277 200.5h1M282 200.5h1M283 200.5h1M282 201.5h1M286 201.5h1M289 201.5h1M290 201.5h1M301 201.5h1M279 202.5h1M280 202.5h1M284 202.5h1M285 202.5h1M286 202.5h1M288 202.5h1M294 202.5h1M298 202.5h1M272 203.5h1M275 203.5h1M276 203.5h1M279 203.5h1M280 203.5h1M281 203.5h1M282 203.5h1M283 203.5h1M286 203.5h1M287 203.5h1M288 203.5h1M289 203.5h1M290 203.5h1M295 203.5h1M296 203.5h1M270 204.5h1M275 204.5h1M278 204.5h1M279 204.5h1M280 204.5h1M281 204.5h1M282 204.5h1M283 204.5h1M285 204.5h1M286 204.5h1M287 204.5h1M288 204.5h1M289 204.5h1M290 204.5h1M291 204.5h1M292 204.5h1M300 204.5h1M272 205.5h1M274 205.5h1M277 205.5h1M278 205.5h1M279 205.5h1M280 205.5h1M281 205.5h1M282 205.5h1M284 205.5h1M285 205.5h1M286 205.5h1M287 205.5h1M288 205.5h1M289 205.5h1M290 205.5h1M291 205.5h1M292 205.5h1M294 205.5h1M297 205.5h1M299 205.5h1M274 206.5h1M275 206.5h1M276 206.5h1M277 206.5h1M278 206.5h1M279 206.5h1M280 206.5h1M281 206.5h1M282 206.5h1M283 206.5h1M284 206.5h1M285 206.5h1M286 206.5h1M287 206.5h1M288 206.5h1M289 206.5h1M290 206.5h1M291 206.5h1M292 206.5h1M293 206.5h1M294 206.5h1M299 206.5h1M300 206.5h1M272 207.5h1M273 207.5h1M274 207.5h1M275 207.5h1M276 207.5h1M277 207.5h1M278 207.5h1M279 207.5h1M280 207.5h1M281 207.5h1M282 207.5h1M283 207.5h1M284 207.5h1M285 207.5h1M286 207.5h1M287 207.5h1M288 207.5h1M289 207.5h1M290 207.5h1M291 207.5h1M292 207.5h1M293 207.5h1M295 207.5h1M296 207.5h1M297 207.5h1M298 207.5h1M270 208.5h1M273 208.5h1M274 208.5h1M276 208.5h1M277 208.5h1M278 208.5h1M279 208.5h1M280 208.5h1M281 208.5h1M282 208.5h1M283 208.5h1M284 208.5h1M285 208.5h1M286 208.5h1M287 208.5h1M288 208.5h1M289 208.5h1M290 208.5h1M291 208.5h1M292 208.5h1M293 208.5h1M295 208.5h1M298 208.5h1M299 208.5h1M300 208.5h1M272 209.5h1M273 209.5h1M276 209.5h1M278 209.5h1M279 209.5h1M280 209.5h1M281 209.5h1M282 209.5h1M283 209.5h1M284 209.5h1M285 209.5h1M286 209.5h1M287 209.5h1M288 209.5h1M289 209.5h1M290 209.5h1M291 209.5h1M292 209.5h1M293 209.5h1M294 209.5h1M295 209.5h1M296 209.5h1M271 210.5h1M274 210.5h1M276 210.5h1M277 210.5h1M278 210.5h1M280 210.5h1M281 210.5h1M282 210.5h1M284 210.5h1M285 210.5h1M286 210.5h1M287 210.5h1M288 210.5h1M289 210.5h1M290 210.5h1M291 210.5h1M292 210.5h1M293 210.5h1M296 210.5h1M297 210.5h1M299 210.5h1M302 210.5h1M274 211.5h1M275 211.5h1M276 211.5h1M278 211.5h1M279 211.5h1M280 211.5h1M281 211.5h1M282 211.5h1M283 211.5h1M284 211.5h1M285 211.5h1M286 211.5h1M288 211.5h1M289 211.5h1M290 211.5h1M291 211.5h1M293 211.5h1M296 211.5h1M273 212.5h1M275 212.5h1M276 212.5h1M279 212.5h1M280 212.5h1M282 212.5h1M284 212.5h1M288 212.5h1M290 212.5h1M291 212.5h1M292 212.5h1M296 212.5h1M276 213.5h1M280 213.5h1M288 213.5h1M289 213.5h1M291 213.5h1M273 214.5h1M277 214.5h1M285 214.5h1M278 215.5h1M290 215.5h1M327 217.5h1M334 220.5h1M328 221.5h1M329 221.5h1M328 222.5h1M329 222.5h1M323 223.5h1M324 223.5h1M330 223.5h1M333 223.5h1M327 224.5h1M328 224.5h1M329 224.5h1M330 224.5h1M331 224.5h1M333 224.5h1M325 225.5h1M326 225.5h1M327 225.5h1M328 225.5h1M329 225.5h1M330 225.5h1M331 225.5h1M332 225.5h1M333 225.5h1M325 226.5h1M326 226.5h1M328 226.5h1M329 226.5h1M331 226.5h1M332 226.5h1M334 226.5h1M335 226.5h1M325 227.5h1M327 227.5h1M328 227.5h1M329 227.5h1M330 227.5h1M332 227.5h1M334 227.5h1M324 228.5h1M325 228.5h1M327 228.5h1M328 228.5h1M329 228.5h1M330 228.5h1M331 228.5h1M332 228.5h1M334 228.5h1M326 229.5h1M327 229.5h1M328 229.5h1M329 229.5h1M330 229.5h1M331 229.5h1M332 229.5h1M333 229.5h1M334 229.5h1M325 230.5h1M326 230.5h1M327 230.5h1M328 230.5h1M329 230.5h1M330 230.5h1M331 230.5h1M332 230.5h1M333 230.5h1M334 230.5h1M326 231.5h1M327 231.5h1M328 231.5h1M329 231.5h1M330 231.5h1M331 231.5h1M332 231.5h1M333 231.5h1M334 231.5h1M325 232.5h1M328 232.5h1M329 232.5h1M330 232.5h1M331 232.5h1M332 232.5h1M333 232.5h1M334 232.5h1M336 232.5h1M324 233.5h1M325 233.5h1M327 233.5h1M328 233.5h1M329 233.5h1M330 233.5h1M331 233.5h1M332 233.5h1M336 233.5h1M325 234.5h1M326 234.5h1M327 234.5h1M328 234.5h1M329 234.5h1M330 234.5h1M331 234.5h1M332 234.5h1M333 234.5h1M325 235.5h1M326 235.5h1M327 235.5h1M328 235.5h1M329 235.5h1M330 235.5h1M331 235.5h1M332 235.5h1M333 235.5h1M334 235.5h1M325 236.5h1M326 236.5h1M327 236.5h1M328 236.5h1M329 236.5h1M330 236.5h1M332 236.5h1M333 236.5h1M334 236.5h1M326 237.5h1M327 237.5h1M328 237.5h1M329 237.5h1M330 237.5h1M331 237.5h1M332 237.5h1M334 237.5h1M326 238.5h1M327 238.5h1M328 238.5h1M329 238.5h1M330 238.5h1M331 238.5h1M332 238.5h1M333 238.5h1M326 239.5h1M327 239.5h1M328 239.5h1M329 239.5h1M330 239.5h1M331 239.5h1M332 239.5h1M333 239.5h1M334 239.5h1M328 240.5h1M329 240.5h1M330 240.5h1M331 240.5h1M332 240.5h1M333 240.5h1M325 241.5h1M326 241.5h1M328 241.5h1M329 241.5h1M333 241.5h1M326 242.5h1M329 242.5h1M330 242.5h1M331 242.5h1M332 242.5h1M328 243.5h1M329 243.5h1M330 243.5h1M331 243.5h1M332 243.5h1M327 244.5h1M328 244.5h1M330 244.5h1M331 244.5h1M332 244.5h1M329 245.5h1M331 247.5h1" stroke="#181818" stroke-width="1" fill="none" shape-rendering="crispEdges" filter="url(#bl)"/>
<rect x="268.10" y="160.50" width="88.00" height="88.10" fill="none" stroke="#7c7c7c" stroke-width="1.25"/>
<rect x="268.80" y="193.40" width="47.10" height="28.10" fill="none" stroke="#6e6e6e" stroke-width="1.1"/>
<rect x="319.50" y="216.00" width="24.80" height="31.90" fill="none" stroke="#6e6e6e" stroke-width="1.1"/>
<text x="268.40" y="257.00" font-size="4.2" text-anchor="middle" fill="#111" stroke="#111" stroke-width="0.15" font-family='"Liberation Sans", sans-serif'>10<tspan font-size="2.60" dy="-1.6">0</tspan></text>
<text x="290.40" y="257.00" font-size="4.2" text-anchor="middle" fill="#111" stroke="#111" stroke-width="0.15" font-family='"Liberation Sans", sans-serif'>10<tspan font-size="2.60" dy="-1.6">1</tspan></text>
<text x="312.40" y="257.00" font-size="4.2" text-anchor="middle" fill="#111" stroke="#111" stroke-width="0.15" font-family='"Liberation Sans", sans-serif'>10<tspan font-size="2.60" dy="-1.6">2</tspan></text>
<text x="334.40" y="257.00" font-size="4.2" text-anchor="middle" fill="#111" stroke="#111" stroke-width="0.15" font-family='"Liberation Sans", sans-serif'>10<tspan font-size="2.60" dy="-1.6">3</tspan></text>
<text x="356.40" y="257.00" font-size="4.2" text-anchor="middle" fill="#111" stroke="#111" stroke-width="0.15" font-family='"Liberation Sans", sans-serif'>10<tspan font-size="2.60" dy="-1.6">4</tspan></text>
<text x="264.50" y="250.10" font-size="4.2" text-anchor="end" fill="#111" stroke="#111" stroke-width="0.15" font-family='"Liberation Sans", sans-serif'>10<tspan font-size="2.60" dy="-1.6">0</tspan></text>
<text x="264.50" y="228.07" font-size="4.2" text-anchor="end" fill="#111" stroke="#111" stroke-width="0.15" font-family='"Liberation Sans", sans-serif'>10<tspan font-size="2.60" dy="-1.6">1</tspan></text>
<text x="264.50" y="206.05" font-size="4.2" text-anchor="end" fill="#111" stroke="#111" stroke-width="0.15" font-family='"Liberation Sans", sans-serif'>10<tspan font-size="2.60" dy="-1.6">2</tspan></text>
<text x="264.50" y="184.03" font-size="4.2" text-anchor="end" fill="#111" stroke="#111" stroke-width="0.15" font-family='"Liberation Sans", sans-serif'>10<tspan font-size="2.60" dy="-1.6">3</tspan></text>
<text x="264.50" y="162.00" font-size="4.2" text-anchor="end" fill="#111" stroke="#111" stroke-width="0.15" font-family='"Liberation Sans", sans-serif'>10<tspan font-size="2.60" dy="-1.6">4</tspan></text>
<path d="M268.10 248.60v1.6M268.10 248.60h-1.6M274.72 248.60v0.9M268.10 241.97h-0.9M278.60 248.60v0.9M268.10 238.09h-0.9M281.35 248.60v0.9M268.10 235.34h-0.9M283.48 248.60v0.9M268.10 233.21h-0.9M285.22 248.60v0.9M268.10 231.46h-0.9M286.69 248.60v0.9M268.10 229.99h-0.9M287.97 248.60v0.9M268.10 228.71h-0.9M289.09 248.60v0.9M268.10 227.58h-0.9M290.10 248.60v1.6M268.10 226.57h-1.6M296.72 248.60v0.9M268.10 219.94h-0.9M300.60 248.60v0.9M268.10 216.07h-0.9M303.35 248.60v0.9M268.10 213.31h-0.9M305.48 248.60v0.9M268.10 211.18h-0.9M307.22 248.60v0.9M268.10 209.44h-0.9M308.69 248.60v0.9M268.10 207.96h-0.9M309.97 248.60v0.9M268.10 206.68h-0.9M311.09 248.60v0.9M268.10 205.56h-0.9M312.10 248.60v1.6M268.10 204.55h-1.6M318.72 248.60v0.9M268.10 197.92h-0.9M322.60 248.60v0.9M268.10 194.04h-0.9M325.35 248.60v0.9M268.10 191.29h-0.9M327.48 248.60v0.9M268.10 189.16h-0.9M329.22 248.60v0.9M268.10 187.41h-0.9M330.69 248.60v0.9M268.10 185.94h-0.9M331.97 248.60v0.9M268.10 184.66h-0.9M333.09 248.60v0.9M268.10 183.53h-0.9M334.10 248.60v1.6M268.10 182.53h-1.6M340.72 248.60v0.9M268.10 175.89h-0.9M344.60 248.60v0.9M268.10 172.02h-0.9M347.35 248.60v0.9M268.10 169.26h-0.9M349.48 248.60v0.9M268.10 167.13h-0.9M351.22 248.60v0.9M268.10 165.39h-0.9M352.69 248.60v0.9M268.10 163.91h-0.9M353.97 248.60v0.9M268.10 162.63h-0.9M355.09 248.60v0.9M268.10 161.51h-0.9" stroke="#888" stroke-width="0.6" fill="none"/>
<text x="312.5" y="261.8" font-size="4.0" font-weight="bold" text-anchor="middle" fill="#111" font-family='"Liberation Sans", sans-serif'>FL3-H: CD8 PE</text>
<text x="270.1" y="189.4" font-size="8.6" text-anchor="start" font-weight="normal" font-style="normal" fill="#000" font-family='"Liberation Sans", sans-serif'  stroke="#000" stroke-width="0.25">59.7</text>
<text x="354.8" y="213.6" font-size="8.6" text-anchor="end" font-weight="normal" font-style="normal" fill="#000" font-family='"Liberation Sans", sans-serif'  stroke="#000" stroke-width="0.25">36.4</text>
<path d="M379 193.5h1M410 193.5h1M391 194.5h1M395 194.5h1M402 195.5h1M383 196.5h1M392 196.5h1M419 196.5h1M382 197.5h1M401 197.5h1M404 197.5h1M427 197.5h1M391 198.5h1M436 198.5h1M388 199.5h1M395 199.5h1M404 199.5h1M409 199.5h1M410 199.5h1M418 199.5h1M377 200.5h1M379 200.5h1M392 200.5h1M398 200.5h1M401 200.5h1M404 200.5h1M408 200.5h1M422 200.5h1M386 201.5h1M403 201.5h1M391 202.5h1M398 202.5h1M401 202.5h1M412 202.5h1M415 202.5h1M383 203.5h1M402 203.5h1M406 203.5h1M407 203.5h1M408 203.5h1M411 203.5h1M422 203.5h1M427 203.5h1M431 203.5h1M451 203.5h1M378 204.5h1M384 204.5h1M408 204.5h1M440 204.5h1M381 205.5h1M418 205.5h1M452 205.5h1M380 206.5h1M383 206.5h1M384 206.5h1M396 206.5h1M404 206.5h1M410 206.5h1M414 206.5h1M415 206.5h1M420 206.5h1M428 206.5h1M377 207.5h1M384 207.5h1M408 207.5h1M413 207.5h1M432 207.5h1M433 207.5h1M389 208.5h1M396 208.5h1M410 208.5h1M421 208.5h1M434 208.5h1M403 209.5h1M410 209.5h1M411 209.5h1M413 209.5h1M381 210.5h1M392 210.5h1M400 210.5h1M404 210.5h1M412 210.5h1M433 210.5h1M434 210.5h1M440 210.5h1M384 211.5h1M385 211.5h1M389 211.5h1M402 211.5h1M404 211.5h1M407 211.5h1M409 211.5h1M435 211.5h1M439 211.5h1M387 212.5h1M391 212.5h1M392 212.5h1M394 212.5h1M401 212.5h1M406 212.5h1M409 212.5h1M438 212.5h1M378 213.5h1M382 213.5h1M384 213.5h1M388 213.5h1M395 213.5h1M415 213.5h1M417 213.5h1M419 213.5h1M428 213.5h1M388 214.5h1M405 214.5h1M410 214.5h1M424 214.5h1M427 214.5h1M435 214.5h1M405 215.5h1M395 216.5h1M413 216.5h1M428 216.5h1M433 216.5h1M438 216.5h1M383 218.5h1M411 218.5h1M401 219.5h1M391 220.5h1M394 220.5h1M393 221.5h1M400 221.5h1M391 222.5h1M399 222.5h1M405 222.5h1M380 223.5h1M383 223.5h1M388 223.5h1M386 224.5h1M399 224.5h1M401 224.5h1M404 224.5h1M406 224.5h1M414 224.5h1M405 226.5h1M418 226.5h1M383 227.5h1M384 227.5h1M396 227.5h1M383 229.5h1M406 229.5h1M405 230.5h1M396 231.5h1M410 231.5h1M388 232.5h1M404 232.5h1M405 232.5h1M397 234.5h1M406 234.5h1M403 235.5h1M404 235.5h1M421 235.5h1M383 236.5h1M398 236.5h1M402 236.5h1M406 236.5h1M394 238.5h1M387 239.5h1M390 239.5h1M403 240.5h1M386 241.5h1M398 241.5h1M407 242.5h1M410 242.5h1M413 242.5h1M423 242.5h1M390 243.5h1M404 244.5h1M405 244.5h1M393 245.5h1M418 245.5h1M390 246.5h1M400 247.5h1M406 247.5h1" stroke="#c0c0c0" stroke-width="1" fill="none" shape-rendering="crispEdges" filter="url(#bl)"/>
<path d="M389 199.5h1M402 199.5h1M383 201.5h1M395 201.5h1M392 202.5h1M416 202.5h1M410 204.5h1M429 210.5h1M382 212.5h1M395 212.5h1M390 215.5h1M392 215.5h1M378 216.5h1M391 216.5h1M396 216.5h1M398 218.5h1M391 219.5h1M394 219.5h1M395 219.5h1M385 221.5h1M377 222.5h1M389 222.5h1M400 223.5h1M391 224.5h1M397 224.5h1M389 225.5h1M395 225.5h1M388 226.5h1M393 226.5h1M398 226.5h1M382 227.5h1M390 227.5h1M393 227.5h1M398 227.5h1M383 228.5h1M388 228.5h1M389 228.5h1M398 228.5h1M388 229.5h1M391 229.5h1M394 229.5h1M382 230.5h1M390 230.5h1M393 230.5h1M395 230.5h1M392 231.5h1M393 231.5h1M395 231.5h1M397 231.5h1M390 232.5h1M393 232.5h1M395 232.5h1M386 233.5h1M394 233.5h1M397 233.5h1M385 234.5h1M386 234.5h1M392 234.5h1M394 235.5h1M400 235.5h1M392 236.5h1M395 236.5h1M400 236.5h1M385 237.5h1M389 237.5h1M394 237.5h1M395 237.5h1M400 237.5h1M392 238.5h1M393 238.5h1M396 238.5h1M398 239.5h1M391 240.5h1M394 240.5h1M400 240.5h1M387 241.5h1M391 241.5h1M392 241.5h1M393 241.5h1M395 241.5h1M396 241.5h1M397 241.5h1M400 241.5h1M390 242.5h1M391 242.5h1M393 242.5h1M394 242.5h1M385 243.5h1M397 244.5h1M383 245.5h1M387 245.5h1M389 246.5h1M395 247.5h1" stroke="#a8a8a8" stroke-width="1" fill="none" shape-rendering="crispEdges" filter="url(#bl)"/>
<path d="M392 222.5h1M387 224.5h1M390 224.5h1M388 227.5h1M390 229.5h1M397 230.5h1M389 235.5h1M399 235.5h1M387 236.5h1M394 236.5h1" stroke="#909090" stroke-width="1" fill="none" shape-rendering="crispEdges" filter="url(#bl)"/>
<path d="M382 193.5h1M396 195.5h1M398 195.5h1M400 196.5h1M389 197.5h1M392 197.5h1M387 198.5h1M392 199.5h1M398 199.5h1M400 199.5h1M380 200.5h1M381 200.5h1M382 200.5h1M386 200.5h1M387 200.5h1M389 200.5h1M407 200.5h1M378 201.5h1M379 201.5h1M384 201.5h1M387 201.5h1M388 201.5h1M397 201.5h1M379 202.5h1M382 202.5h1M389 202.5h1M403 202.5h1M379 203.5h1M385 203.5h1M387 203.5h1M388 203.5h1M389 203.5h1M393 203.5h1M396 203.5h1M397 203.5h1M400 203.5h1M380 204.5h1M385 204.5h1M387 204.5h1M388 204.5h1M390 204.5h1M391 204.5h1M394 204.5h1M398 204.5h1M405 204.5h1M382 205.5h1M390 205.5h1M394 205.5h1M395 205.5h1M400 205.5h1M406 205.5h1M409 205.5h1M378 206.5h1M385 206.5h1M388 206.5h1M390 206.5h1M391 206.5h1M397 206.5h1M403 206.5h1M405 206.5h1M406 206.5h1M407 206.5h1M412 206.5h1M387 207.5h1M389 207.5h1M402 207.5h1M383 208.5h1M385 208.5h1M386 208.5h1M388 208.5h1M394 208.5h1M399 208.5h1M401 208.5h1M404 208.5h1M408 208.5h1M381 209.5h1M383 209.5h1M384 209.5h1M385 209.5h1M389 209.5h1M390 209.5h1M394 209.5h1M398 209.5h1M401 209.5h1M404 209.5h1M377 210.5h1M385 210.5h1M390 210.5h1M396 210.5h1M402 210.5h1M403 210.5h1M407 210.5h1M417 210.5h1M383 211.5h1M386 211.5h1M394 211.5h1M395 211.5h1M401 211.5h1M406 211.5h1M428 211.5h1M380 212.5h1M385 212.5h1M386 212.5h1M388 212.5h1M399 212.5h1M402 212.5h1M404 212.5h1M407 212.5h1M392 213.5h1M401 213.5h1M407 213.5h1M383 214.5h1M390 214.5h1M393 214.5h1M402 214.5h1M403 214.5h1M379 215.5h1M396 215.5h1M404 215.5h1M406 215.5h1M441 215.5h1M397 216.5h1M398 216.5h1M389 217.5h1M403 217.5h1M433 217.5h1M436 217.5h1M392 218.5h1M395 218.5h1M433 218.5h1M434 218.5h1M435 218.5h1M387 219.5h1M397 219.5h1M400 219.5h1M437 219.5h1M445 219.5h1M433 220.5h1M436 220.5h1M443 220.5h1M431 221.5h1M436 221.5h1M438 221.5h1M435 222.5h1M437 222.5h1M433 223.5h1M434 223.5h1M447 223.5h1M434 224.5h1M436 224.5h1M438 224.5h1M442 224.5h1M386 225.5h1M434 225.5h1M436 225.5h1M437 225.5h1M439 225.5h1M440 225.5h1M432 226.5h1M433 226.5h1M434 226.5h1M437 226.5h1M438 226.5h1M439 226.5h1M441 226.5h1M442 226.5h1M395 227.5h1M432 227.5h1M434 227.5h1M436 227.5h1M438 227.5h1M444 227.5h1M428 228.5h1M443 228.5h1M385 229.5h1M429 229.5h1M432 229.5h1M435 229.5h1M429 230.5h1M430 230.5h1M434 230.5h1M436 230.5h1M440 230.5h1M441 230.5h1M394 231.5h1M427 231.5h1M429 231.5h1M430 231.5h1M433 231.5h1M435 231.5h1M436 231.5h1M438 231.5h1M444 231.5h1M430 232.5h1M431 232.5h1M439 232.5h1M432 233.5h1M434 233.5h1M438 233.5h1M439 233.5h1M440 233.5h1M441 233.5h1M432 234.5h1M433 234.5h1M434 234.5h1M437 234.5h1M441 234.5h1M442 234.5h1M431 235.5h1M433 235.5h1M447 235.5h1M426 236.5h1M429 236.5h1M430 236.5h1M438 236.5h1M442 236.5h1M391 237.5h1M428 237.5h1M429 237.5h1M434 237.5h1M436 237.5h1M438 237.5h1M440 237.5h1M441 237.5h1M427 238.5h1M430 238.5h1M435 238.5h1M436 238.5h1M437 238.5h1M438 238.5h1M443 238.5h1M444 238.5h1M431 239.5h1M433 239.5h1M435 239.5h1M437 239.5h1M438 239.5h1M390 240.5h1M393 240.5h1M429 240.5h1M432 240.5h1M433 240.5h1M434 240.5h1M436 240.5h1M439 240.5h1M444 240.5h1M431 241.5h1M436 241.5h1M438 241.5h1M440 241.5h1M428 242.5h1M429 242.5h1M432 242.5h1M435 242.5h1M437 242.5h1M439 242.5h1M440 242.5h1M441 242.5h1M442 242.5h1M429 243.5h1M430 243.5h1M437 243.5h1M430 244.5h1M438 244.5h1M439 244.5h1M433 245.5h1M435 245.5h1M438 245.5h1M432 246.5h1M435 246.5h1M436 246.5h1M437 246.5h1" stroke="#787878" stroke-width="1" fill="none" shape-rendering="crispEdges" filter="url(#bl)"/>
<path d="M396 199.5h1M391 201.5h1M398 201.5h1M395 202.5h1M402 202.5h1M390 203.5h1M399 203.5h1M382 204.5h1M396 204.5h1M403 204.5h1M402 205.5h1M402 206.5h1M396 207.5h1M399 207.5h1M388 209.5h1M393 209.5h1M398 211.5h1M399 211.5h1M389 212.5h1M400 212.5h1M397 213.5h1M396 214.5h1M397 214.5h1M388 216.5h1M387 218.5h1" stroke="#606060" stroke-width="1" fill="none" shape-rendering="crispEdges" filter="url(#bl)"/>
<path d="M403 200.5h1M390 201.5h1M404 202.5h1M395 203.5h1M386 204.5h1M386 206.5h1M390 207.5h1M397 210.5h1M381 211.5h1M390 213.5h1M389 214.5h1M389 232.5h1" stroke="#484848" stroke-width="1" fill="none" shape-rendering="crispEdges" filter="url(#bl)"/>
<path d="M389 198.5h1M399 200.5h1M396 201.5h1M386 202.5h1M388 202.5h1M390 202.5h1M396 202.5h1M397 202.5h1M400 202.5h1M405 202.5h1M404 203.5h1M389 204.5h1M392 204.5h1M397 204.5h1M401 204.5h1M402 204.5h1M383 205.5h1M389 205.5h1M392 205.5h1M396 205.5h1M397 205.5h1M398 205.5h1M382 206.5h1M393 206.5h1M398 206.5h1M399 206.5h1M382 207.5h1M391 207.5h1M393 207.5h1M394 207.5h1M397 207.5h1M400 207.5h1M403 207.5h1M395 208.5h1M397 208.5h1M398 208.5h1M392 209.5h1M397 209.5h1M405 209.5h1M387 210.5h1M388 210.5h1M389 210.5h1M394 210.5h1M399 210.5h1M392 211.5h1M400 211.5h1M386 213.5h1M393 213.5h1M394 213.5h1M404 213.5h1M395 214.5h1M435 219.5h1M435 221.5h1M439 221.5h1M436 222.5h1M437 223.5h1M437 224.5h1M425 225.5h1M430 225.5h1M431 225.5h1M435 225.5h1M431 226.5h1M435 226.5h1M431 228.5h1M432 228.5h1M435 228.5h1M437 228.5h1M434 229.5h1M436 229.5h1M439 229.5h1M441 229.5h1M431 230.5h1M435 230.5h1M437 231.5h1M439 231.5h1M429 232.5h1M432 232.5h1M435 232.5h1M433 233.5h1M437 233.5h1M435 234.5h1M438 234.5h1M432 235.5h1M438 235.5h1M439 235.5h1M440 235.5h1M435 236.5h1M440 236.5h1M433 237.5h1M437 237.5h1M439 237.5h1M433 238.5h1M439 238.5h1M434 239.5h1M436 239.5h1M439 239.5h1M437 240.5h1M435 241.5h1M433 242.5h1M434 242.5h1M434 243.5h1M436 245.5h1" stroke="#303030" stroke-width="1" fill="none" shape-rendering="crispEdges" filter="url(#bl)"/>
<path d="M400 201.5h1M391 203.5h1M395 204.5h1M385 205.5h1M387 205.5h1M391 205.5h1M389 206.5h1M394 206.5h1M400 206.5h1M381 207.5h1M388 207.5h1M393 208.5h1M382 209.5h1M391 209.5h1M395 209.5h1M396 209.5h1M395 210.5h1M431 227.5h1M434 228.5h1M436 228.5h1M433 229.5h1M438 229.5h1M433 230.5h1M433 232.5h1M436 232.5h1M435 233.5h1M435 235.5h1M434 236.5h1M437 236.5h1M431 237.5h1M434 238.5h1M440 238.5h1M430 239.5h1" stroke="#181818" stroke-width="1" fill="none" shape-rendering="crispEdges" filter="url(#bl)"/>
<rect x="375.80" y="160.50" width="88.00" height="88.10" fill="none" stroke="#7c7c7c" stroke-width="1.25"/>
<rect x="376.40" y="190.60" width="46.90" height="28.80" fill="none" stroke="#6e6e6e" stroke-width="1.1"/>
<rect x="426.50" y="216.00" width="24.80" height="31.90" fill="none" stroke="#6e6e6e" stroke-width="1.1"/>
<text x="376.10" y="257.00" font-size="4.2" text-anchor="middle" fill="#111" stroke="#111" stroke-width="0.15" font-family='"Liberation Sans", sans-serif'>10<tspan font-size="2.60" dy="-1.6">0</tspan></text>
<text x="398.10" y="257.00" font-size="4.2" text-anchor="middle" fill="#111" stroke="#111" stroke-width="0.15" font-family='"Liberation Sans", sans-serif'>10<tspan font-size="2.60" dy="-1.6">1</tspan></text>
<text x="420.10" y="257.00" font-size="4.2" text-anchor="middle" fill="#111" stroke="#111" stroke-width="0.15" font-family='"Liberation Sans", sans-serif'>10<tspan font-size="2.60" dy="-1.6">2</tspan></text>
<text x="442.10" y="257.00" font-size="4.2" text-anchor="middle" fill="#111" stroke="#111" stroke-width="0.15" font-family='"Liberation Sans", sans-serif'>10<tspan font-size="2.60" dy="-1.6">3</tspan></text>
<text x="464.10" y="257.00" font-size="4.2" text-anchor="middle" fill="#111" stroke="#111" stroke-width="0.15" font-family='"Liberation Sans", sans-serif'>10<tspan font-size="2.60" dy="-1.6">4</tspan></text>
<text x="372.20" y="250.10" font-size="4.2" text-anchor="end" fill="#111" stroke="#111" stroke-width="0.15" font-family='"Liberation Sans", sans-serif'>10<tspan font-size="2.60" dy="-1.6">0</tspan></text>
<text x="372.20" y="228.07" font-size="4.2" text-anchor="end" fill="#111" stroke="#111" stroke-width="0.15" font-family='"Liberation Sans", sans-serif'>10<tspan font-size="2.60" dy="-1.6">1</tspan></text>
<text x="372.20" y="206.05" font-size="4.2" text-anchor="end" fill="#111" stroke="#111" stroke-width="0.15" font-family='"Liberation Sans", sans-serif'>10<tspan font-size="2.60" dy="-1.6">2</tspan></text>
<text x="372.20" y="184.03" font-size="4.2" text-anchor="end" fill="#111" stroke="#111" stroke-width="0.15" font-family='"Liberation Sans", sans-serif'>10<tspan font-size="2.60" dy="-1.6">3</tspan></text>
<text x="372.20" y="162.00" font-size="4.2" text-anchor="end" fill="#111" stroke="#111" stroke-width="0.15" font-family='"Liberation Sans", sans-serif'>10<tspan font-size="2.60" dy="-1.6">4</tspan></text>
<path d="M375.80 248.60v1.6M375.80 248.60h-1.6M382.42 248.60v0.9M375.80 241.97h-0.9M386.30 248.60v0.9M375.80 238.09h-0.9M389.05 248.60v0.9M375.80 235.34h-0.9M391.18 248.60v0.9M375.80 233.21h-0.9M392.92 248.60v0.9M375.80 231.46h-0.9M394.39 248.60v0.9M375.80 229.99h-0.9M395.67 248.60v0.9M375.80 228.71h-0.9M396.79 248.60v0.9M375.80 227.58h-0.9M397.80 248.60v1.6M375.80 226.57h-1.6M404.42 248.60v0.9M375.80 219.94h-0.9M408.30 248.60v0.9M375.80 216.07h-0.9M411.05 248.60v0.9M375.80 213.31h-0.9M413.18 248.60v0.9M375.80 211.18h-0.9M414.92 248.60v0.9M375.80 209.44h-0.9M416.39 248.60v0.9M375.80 207.96h-0.9M417.67 248.60v0.9M375.80 206.68h-0.9M418.79 248.60v0.9M375.80 205.56h-0.9M419.80 248.60v1.6M375.80 204.55h-1.6M426.42 248.60v0.9M375.80 197.92h-0.9M430.30 248.60v0.9M375.80 194.04h-0.9M433.05 248.60v0.9M375.80 191.29h-0.9M435.18 248.60v0.9M375.80 189.16h-0.9M436.92 248.60v0.9M375.80 187.41h-0.9M438.39 248.60v0.9M375.80 185.94h-0.9M439.67 248.60v0.9M375.80 184.66h-0.9M440.79 248.60v0.9M375.80 183.53h-0.9M441.80 248.60v1.6M375.80 182.53h-1.6M448.42 248.60v0.9M375.80 175.89h-0.9M452.30 248.60v0.9M375.80 172.02h-0.9M455.05 248.60v0.9M375.80 169.26h-0.9M457.18 248.60v0.9M375.80 167.13h-0.9M458.92 248.60v0.9M375.80 165.39h-0.9M460.39 248.60v0.9M375.80 163.91h-0.9M461.67 248.60v0.9M375.80 162.63h-0.9M462.79 248.60v0.9M375.80 161.51h-0.9" stroke="#888" stroke-width="0.6" fill="none"/>
<text x="420.2" y="261.8" font-size="4.0" font-weight="bold" text-anchor="middle" fill="#111" font-family='"Liberation Sans", sans-serif'>FL3-H: CD8 PE</text>
<text x="377.7" y="188.9" font-size="8.6" text-anchor="start" font-weight="normal" font-style="normal" fill="#000" font-family='"Liberation Sans", sans-serif'  stroke="#000" stroke-width="0.25">40.3</text>
<text x="462.5" y="213.6" font-size="8.6" text-anchor="end" font-weight="normal" font-style="normal" fill="#000" font-family='"Liberation Sans", sans-serif'  stroke="#000" stroke-width="0.25">45.7</text>
<polyline points="55.8,379.2 63.5,378.8 69.2,375.4 72.1,372.5 75.0,370.6 78.8,367.3 81.7,360.0 84.6,353.3 88.5,345.6 90.4,336.0 91.9,333.0 92.7,319.6 94.6,316.7 96.2,297.5 98.1,296.5 99.6,299.4 101.0,308.0 102.9,333.0 104.8,361.9 107.7,373.5 111.5,373.0 116.3,375.4 121.2,378.3 126.9,379.2 142.0,379.2" fill="none" stroke="#444" stroke-width="1.0" stroke-linejoin="round"/>
<rect x="54.30" y="291.80" width="88.30" height="87.70" fill="none" stroke="#7c7c7c" stroke-width="1.25"/>
<text x="50.9" y="303.2" font-size="4.0" text-anchor="end" fill="#111" stroke="#111" stroke-width="0.15" font-family='"Liberation Sans", sans-serif'>100</text>
<text x="50.9" y="318.7" font-size="4.0" text-anchor="end" fill="#111" stroke="#111" stroke-width="0.15" font-family='"Liberation Sans", sans-serif'>80</text>
<text x="50.9" y="334.2" font-size="4.0" text-anchor="end" fill="#111" stroke="#111" stroke-width="0.15" font-family='"Liberation Sans", sans-serif'>60</text>
<text x="50.9" y="349.7" font-size="4.0" text-anchor="end" fill="#111" stroke="#111" stroke-width="0.15" font-family='"Liberation Sans", sans-serif'>40</text>
<text x="50.9" y="365.2" font-size="4.0" text-anchor="end" fill="#111" stroke="#111" stroke-width="0.15" font-family='"Liberation Sans", sans-serif'>20</text>
<text x="50.9" y="380.7" font-size="4.0" text-anchor="end" fill="#111" stroke="#111" stroke-width="0.15" font-family='"Liberation Sans", sans-serif'>0</text>
<path d="M54.30 301.80h-1.5M54.30 317.30h-1.5M54.30 332.80h-1.5M54.30 348.30h-1.5M54.30 363.80h-1.5M54.30 379.30h-1.5" stroke="#777" stroke-width="0.7" fill="none"/>
<text x="54.60" y="387.90" font-size="4.2" text-anchor="middle" fill="#111" stroke="#111" stroke-width="0.15" font-family='"Liberation Sans", sans-serif'>10<tspan font-size="2.60" dy="-1.6">0</tspan></text>
<text x="76.67" y="387.90" font-size="4.2" text-anchor="middle" fill="#111" stroke="#111" stroke-width="0.15" font-family='"Liberation Sans", sans-serif'>10<tspan font-size="2.60" dy="-1.6">1</tspan></text>
<text x="98.75" y="387.90" font-size="4.2" text-anchor="middle" fill="#111" stroke="#111" stroke-width="0.15" font-family='"Liberation Sans", sans-serif'>10<tspan font-size="2.60" dy="-1.6">2</tspan></text>
<text x="120.82" y="387.90" font-size="4.2" text-anchor="middle" fill="#111" stroke="#111" stroke-width="0.15" font-family='"Liberation Sans", sans-serif'>10<tspan font-size="2.60" dy="-1.6">3</tspan></text>
<text x="142.90" y="387.90" font-size="4.2" text-anchor="middle" fill="#111" stroke="#111" stroke-width="0.15" font-family='"Liberation Sans", sans-serif'>10<tspan font-size="2.60" dy="-1.6">4</tspan></text>
<path d="M54.30 379.50v1.6M60.95 379.50v0.9M64.83 379.50v0.9M67.59 379.50v0.9M69.73 379.50v0.9M71.48 379.50v0.9M72.96 379.50v0.9M74.24 379.50v0.9M75.36 379.50v0.9M76.38 379.50v1.6M83.02 379.50v0.9M86.91 379.50v0.9M89.67 379.50v0.9M91.80 379.50v0.9M93.55 379.50v0.9M95.03 379.50v0.9M96.31 379.50v0.9M97.44 379.50v0.9M98.45 379.50v1.6M105.10 379.50v0.9M108.98 379.50v0.9M111.74 379.50v0.9M113.88 379.50v0.9M115.63 379.50v0.9M117.11 379.50v0.9M118.39 379.50v0.9M119.51 379.50v0.9M120.52 379.50v1.6M127.17 379.50v0.9M131.06 379.50v0.9M133.82 379.50v0.9M135.95 379.50v0.9M137.70 379.50v0.9M139.18 379.50v0.9M140.46 379.50v0.9M141.59 379.50v0.9" stroke="#888" stroke-width="0.6" fill="none"/>
<text x="98.6" y="392.5" font-size="4.1" font-weight="bold" text-anchor="middle" fill="#111" font-family='"Liberation Sans", sans-serif'>FL1-H: CD44 FITC</text>
<path d="M105.8 307.1H142.6M105.8 304.90000000000003v4.4" stroke="#2a2a2a" stroke-width="1.0" fill="none"/>
<text x="122.4" y="305.20000000000005" font-size="8.4" text-anchor="middle" font-weight="normal" font-style="normal" fill="#000" font-family='"Liberation Sans", sans-serif'  stroke="#000" stroke-width="0.25">5.54</text>
<polyline points="162.7,379.6 176.2,379.6 179.0,376.9 183.8,375.4 185.8,372.5 188.7,369.2 191.5,372.5 194.4,366.7 196.3,367.7 198.8,361.9 201.2,364.8 204.0,370.6 206.0,369.6 208.8,364.8 211.7,363.5 214.2,357.1 216.2,360.4 217.5,348.5 219.4,323.5 221.3,292.7 222.7,292.7 224.2,306.2 225.2,321.5 226.2,311.0 227.7,338.8 229.0,361.9 231.9,375.4 236.7,379.2 249.0,379.4" fill="none" stroke="#444" stroke-width="1.0" stroke-linejoin="round"/>
<rect x="161.70" y="291.80" width="88.30" height="87.70" fill="none" stroke="#7c7c7c" stroke-width="1.25"/>
<text x="158.3" y="305.8" font-size="4.0" text-anchor="end" fill="#111" stroke="#111" stroke-width="0.15" font-family='"Liberation Sans", sans-serif'>10</text>
<text x="158.3" y="320.8" font-size="4.0" text-anchor="end" fill="#111" stroke="#111" stroke-width="0.15" font-family='"Liberation Sans", sans-serif'>8</text>
<text x="158.3" y="336.4" font-size="4.0" text-anchor="end" fill="#111" stroke="#111" stroke-width="0.15" font-family='"Liberation Sans", sans-serif'>6</text>
<text x="158.3" y="351.4" font-size="4.0" text-anchor="end" fill="#111" stroke="#111" stroke-width="0.15" font-family='"Liberation Sans", sans-serif'>4</text>
<text x="158.3" y="366.4" font-size="4.0" text-anchor="end" fill="#111" stroke="#111" stroke-width="0.15" font-family='"Liberation Sans", sans-serif'>2</text>
<text x="158.3" y="380.8" font-size="4.0" text-anchor="end" fill="#111" stroke="#111" stroke-width="0.15" font-family='"Liberation Sans", sans-serif'>0</text>
<path d="M161.70 304.40h-1.5M161.70 319.40h-1.5M161.70 335.00h-1.5M161.70 350.00h-1.5M161.70 365.00h-1.5M161.70 379.40h-1.5" stroke="#777" stroke-width="0.7" fill="none"/>
<text x="162.00" y="387.90" font-size="4.2" text-anchor="middle" fill="#111" stroke="#111" stroke-width="0.15" font-family='"Liberation Sans", sans-serif'>10<tspan font-size="2.60" dy="-1.6">0</tspan></text>
<text x="184.07" y="387.90" font-size="4.2" text-anchor="middle" fill="#111" stroke="#111" stroke-width="0.15" font-family='"Liberation Sans", sans-serif'>10<tspan font-size="2.60" dy="-1.6">1</tspan></text>
<text x="206.15" y="387.90" font-size="4.2" text-anchor="middle" fill="#111" stroke="#111" stroke-width="0.15" font-family='"Liberation Sans", sans-serif'>10<tspan font-size="2.60" dy="-1.6">2</tspan></text>
<text x="228.23" y="387.90" font-size="4.2" text-anchor="middle" fill="#111" stroke="#111" stroke-width="0.15" font-family='"Liberation Sans", sans-serif'>10<tspan font-size="2.60" dy="-1.6">3</tspan></text>
<text x="250.30" y="387.90" font-size="4.2" text-anchor="middle" fill="#111" stroke="#111" stroke-width="0.15" font-family='"Liberation Sans", sans-serif'>10<tspan font-size="2.60" dy="-1.6">4</tspan></text>
<path d="M161.70 379.50v1.6M168.35 379.50v0.9M172.23 379.50v0.9M174.99 379.50v0.9M177.13 379.50v0.9M178.88 379.50v0.9M180.36 379.50v0.9M181.64 379.50v0.9M182.76 379.50v0.9M183.77 379.50v1.6M190.42 379.50v0.9M194.31 379.50v0.9M197.07 379.50v0.9M199.20 379.50v0.9M200.95 379.50v0.9M202.43 379.50v0.9M203.71 379.50v0.9M204.84 379.50v0.9M205.85 379.50v1.6M212.50 379.50v0.9M216.38 379.50v0.9M219.14 379.50v0.9M221.28 379.50v0.9M223.03 379.50v0.9M224.51 379.50v0.9M225.79 379.50v0.9M226.91 379.50v0.9M227.93 379.50v1.6M234.57 379.50v0.9M238.46 379.50v0.9M241.22 379.50v0.9M243.35 379.50v0.9M245.10 379.50v0.9M246.58 379.50v0.9M247.86 379.50v0.9M248.99 379.50v0.9" stroke="#888" stroke-width="0.6" fill="none"/>
<text x="206.0" y="392.5" font-size="4.1" font-weight="bold" text-anchor="middle" fill="#111" font-family='"Liberation Sans", sans-serif'>FL1-H: CD44 FITC</text>
<path d="M213.7 307.7H250.0M213.7 305.5v4.4" stroke="#2a2a2a" stroke-width="1.0" fill="none"/>
<text x="237.7" y="305.8" font-size="8.4" text-anchor="middle" font-weight="normal" font-style="normal" fill="#000" font-family='"Liberation Sans", sans-serif'  stroke="#000" stroke-width="0.25">70.1</text>
<polyline points="268.7,379.6 278.3,379.2 283.1,374.4 286.9,373.8 291.7,363.8 295.6,356.2 298.5,350.4 301.3,333.1 303.8,320.6 305.8,310.0 307.1,301.3 309.0,303.3 310.4,298.5 311.9,310.0 314.8,325.4 317.3,346.5 319.6,350.4 322.5,363.8 326.3,361.0 330.2,373.5 334.0,378.3 338.8,379.6 355.0,379.6" fill="none" stroke="#444" stroke-width="1.0" stroke-linejoin="round"/>
<rect x="267.70" y="291.80" width="88.30" height="87.70" fill="none" stroke="#7c7c7c" stroke-width="1.25"/>
<text x="264.3" y="309.0" font-size="4.0" text-anchor="end" fill="#111" stroke="#111" stroke-width="0.15" font-family='"Liberation Sans", sans-serif'>80</text>
<text x="264.3" y="326.4" font-size="4.0" text-anchor="end" fill="#111" stroke="#111" stroke-width="0.15" font-family='"Liberation Sans", sans-serif'>60</text>
<text x="264.3" y="344.7" font-size="4.0" text-anchor="end" fill="#111" stroke="#111" stroke-width="0.15" font-family='"Liberation Sans", sans-serif'>40</text>
<text x="264.3" y="362.8" font-size="4.0" text-anchor="end" fill="#111" stroke="#111" stroke-width="0.15" font-family='"Liberation Sans", sans-serif'>20</text>
<text x="264.3" y="380.8" font-size="4.0" text-anchor="end" fill="#111" stroke="#111" stroke-width="0.15" font-family='"Liberation Sans", sans-serif'>0</text>
<path d="M267.70 307.60h-1.5M267.70 325.00h-1.5M267.70 343.30h-1.5M267.70 361.40h-1.5M267.70 379.40h-1.5" stroke="#777" stroke-width="0.7" fill="none"/>
<text x="268.00" y="387.90" font-size="4.2" text-anchor="middle" fill="#111" stroke="#111" stroke-width="0.15" font-family='"Liberation Sans", sans-serif'>10<tspan font-size="2.60" dy="-1.6">0</tspan></text>
<text x="290.07" y="387.90" font-size="4.2" text-anchor="middle" fill="#111" stroke="#111" stroke-width="0.15" font-family='"Liberation Sans", sans-serif'>10<tspan font-size="2.60" dy="-1.6">1</tspan></text>
<text x="312.15" y="387.90" font-size="4.2" text-anchor="middle" fill="#111" stroke="#111" stroke-width="0.15" font-family='"Liberation Sans", sans-serif'>10<tspan font-size="2.60" dy="-1.6">2</tspan></text>
<text x="334.23" y="387.90" font-size="4.2" text-anchor="middle" fill="#111" stroke="#111" stroke-width="0.15" font-family='"Liberation Sans", sans-serif'>10<tspan font-size="2.60" dy="-1.6">3</tspan></text>
<text x="356.30" y="387.90" font-size="4.2" text-anchor="middle" fill="#111" stroke="#111" stroke-width="0.15" font-family='"Liberation Sans", sans-serif'>10<tspan font-size="2.60" dy="-1.6">4</tspan></text>
<path d="M267.70 379.50v1.6M274.35 379.50v0.9M278.23 379.50v0.9M280.99 379.50v0.9M283.13 379.50v0.9M284.88 379.50v0.9M286.36 379.50v0.9M287.64 379.50v0.9M288.76 379.50v0.9M289.77 379.50v1.6M296.42 379.50v0.9M300.31 379.50v0.9M303.07 379.50v0.9M305.20 379.50v0.9M306.95 379.50v0.9M308.43 379.50v0.9M309.71 379.50v0.9M310.84 379.50v0.9M311.85 379.50v1.6M318.50 379.50v0.9M322.38 379.50v0.9M325.14 379.50v0.9M327.28 379.50v0.9M329.03 379.50v0.9M330.51 379.50v0.9M331.79 379.50v0.9M332.91 379.50v0.9M333.93 379.50v1.6M340.57 379.50v0.9M344.46 379.50v0.9M347.22 379.50v0.9M349.35 379.50v0.9M351.10 379.50v0.9M352.58 379.50v0.9M353.86 379.50v0.9M354.99 379.50v0.9" stroke="#888" stroke-width="0.6" fill="none"/>
<text x="312.1" y="392.5" font-size="4.1" font-weight="bold" text-anchor="middle" fill="#111" font-family='"Liberation Sans", sans-serif'>FL1-H: CD44 FITC</text>
<path d="M319.6 308.3H356.0M319.6 306.1v4.4" stroke="#2a2a2a" stroke-width="1.0" fill="none"/>
<text x="336.9" y="306.40000000000003" font-size="8.4" text-anchor="middle" font-weight="normal" font-style="normal" fill="#000" font-family='"Liberation Sans", sans-serif'  stroke="#000" stroke-width="0.25">12.6</text>
<polyline points="376.7,379.6 386.3,379.2 391.1,375.4 394.9,370.6 398.8,364.8 401.7,359.0 403.6,358.1 405.5,362.9 407.4,354.2 409.3,355.2 411.8,352.3 414.2,357.1 416.1,348.5 418.4,356.2 421.5,345.6 423.8,354.2 425.7,334.0 427.6,341.7 429.2,331.2 430.5,329.2 432.4,308.1 434.3,293.7 435.7,293.7 437.2,313.8 439.5,335.0 442.0,358.1 444.9,374.4 449.7,378.8 452.6,379.6 463.0,379.6" fill="none" stroke="#444" stroke-width="1.0" stroke-linejoin="round"/>
<rect x="376.10" y="291.80" width="88.30" height="87.70" fill="none" stroke="#7c7c7c" stroke-width="1.25"/>
<text x="372.7" y="307.4" font-size="4.0" text-anchor="end" fill="#111" stroke="#111" stroke-width="0.15" font-family='"Liberation Sans", sans-serif'>20</text>
<text x="372.7" y="326.0" font-size="4.0" text-anchor="end" fill="#111" stroke="#111" stroke-width="0.15" font-family='"Liberation Sans", sans-serif'>15</text>
<text x="372.7" y="344.4" font-size="4.0" text-anchor="end" fill="#111" stroke="#111" stroke-width="0.15" font-family='"Liberation Sans", sans-serif'>10</text>
<text x="372.7" y="362.4" font-size="4.0" text-anchor="end" fill="#111" stroke="#111" stroke-width="0.15" font-family='"Liberation Sans", sans-serif'>5</text>
<text x="372.7" y="380.6" font-size="4.0" text-anchor="end" fill="#111" stroke="#111" stroke-width="0.15" font-family='"Liberation Sans", sans-serif'>0</text>
<path d="M376.10 306.00h-1.5M376.10 324.60h-1.5M376.10 343.00h-1.5M376.10 361.00h-1.5M376.10 379.20h-1.5" stroke="#777" stroke-width="0.7" fill="none"/>
<text x="376.40" y="387.90" font-size="4.2" text-anchor="middle" fill="#111" stroke="#111" stroke-width="0.15" font-family='"Liberation Sans", sans-serif'>10<tspan font-size="2.60" dy="-1.6">0</tspan></text>
<text x="398.48" y="387.90" font-size="4.2" text-anchor="middle" fill="#111" stroke="#111" stroke-width="0.15" font-family='"Liberation Sans", sans-serif'>10<tspan font-size="2.60" dy="-1.6">1</tspan></text>
<text x="420.55" y="387.90" font-size="4.2" text-anchor="middle" fill="#111" stroke="#111" stroke-width="0.15" font-family='"Liberation Sans", sans-serif'>10<tspan font-size="2.60" dy="-1.6">2</tspan></text>
<text x="442.63" y="387.90" font-size="4.2" text-anchor="middle" fill="#111" stroke="#111" stroke-width="0.15" font-family='"Liberation Sans", sans-serif'>10<tspan font-size="2.60" dy="-1.6">3</tspan></text>
<text x="464.70" y="387.90" font-size="4.2" text-anchor="middle" fill="#111" stroke="#111" stroke-width="0.15" font-family='"Liberation Sans", sans-serif'>10<tspan font-size="2.60" dy="-1.6">4</tspan></text>
<path d="M376.10 379.50v1.6M382.75 379.50v0.9M386.63 379.50v0.9M389.39 379.50v0.9M391.53 379.50v0.9M393.28 379.50v0.9M394.76 379.50v0.9M396.04 379.50v0.9M397.16 379.50v0.9M398.18 379.50v1.6M404.82 379.50v0.9M408.71 379.50v0.9M411.47 379.50v0.9M413.60 379.50v0.9M415.35 379.50v0.9M416.83 379.50v0.9M418.11 379.50v0.9M419.24 379.50v0.9M420.25 379.50v1.6M426.90 379.50v0.9M430.78 379.50v0.9M433.54 379.50v0.9M435.68 379.50v0.9M437.43 379.50v0.9M438.91 379.50v0.9M440.19 379.50v0.9M441.31 379.50v0.9M442.33 379.50v1.6M448.97 379.50v0.9M452.86 379.50v0.9M455.62 379.50v0.9M457.75 379.50v0.9M459.50 379.50v0.9M460.98 379.50v0.9M462.26 379.50v0.9M463.39 379.50v0.9" stroke="#888" stroke-width="0.6" fill="none"/>
<text x="420.4" y="392.5" font-size="4.1" font-weight="bold" text-anchor="middle" fill="#111" font-family='"Liberation Sans", sans-serif'>FL1-H: CD44 FITC</text>
<path d="M427.6 307.7H464.40000000000003M427.6 305.5v4.4" stroke="#2a2a2a" stroke-width="1.0" fill="none"/>
<text x="450.2" y="305.8" font-size="8.4" text-anchor="middle" font-weight="normal" font-style="normal" fill="#000" font-family='"Liberation Sans", sans-serif'  stroke="#000" stroke-width="0.25">50.6</text>
<polyline points="54.8,510.7 60.6,509.9 63.5,505.5 65.4,501.7 68.3,491.1 70.8,475.7 72.1,459.3 74.0,450.7 75.4,439.2 76.5,427.6 77.9,437.2 79.2,445.9 80.4,446.8 81.7,455.5 83.1,457.4 84.6,459.3 86.0,465.1 87.5,459.3 88.5,468.0 90.4,483.4 91.9,476.7 93.3,481.5 95.2,487.2 97.1,489.2 98.1,493.0 99.6,496.8 101.5,496.8 103.5,501.7 105.8,505.5 108.7,500.7 111.5,497.8 114.0,500.7 116.3,507.4 119.2,510.3 122.0,511.0 142.0,511.0" fill="none" stroke="#444" stroke-width="1.0" stroke-linejoin="round"/>
<rect x="54.20" y="423.00" width="88.30" height="88.60" fill="none" stroke="#7c7c7c" stroke-width="1.25"/>
<text x="50.8" y="439.4" font-size="4.0" text-anchor="end" fill="#111" stroke="#111" stroke-width="0.15" font-family='"Liberation Sans", sans-serif'>60</text>
<text x="50.8" y="463.7" font-size="4.0" text-anchor="end" fill="#111" stroke="#111" stroke-width="0.15" font-family='"Liberation Sans", sans-serif'>40</text>
<text x="50.8" y="488.1" font-size="4.0" text-anchor="end" fill="#111" stroke="#111" stroke-width="0.15" font-family='"Liberation Sans", sans-serif'>20</text>
<text x="50.8" y="512.4" font-size="4.0" text-anchor="end" fill="#111" stroke="#111" stroke-width="0.15" font-family='"Liberation Sans", sans-serif'>0</text>
<path d="M54.20 438.00h-1.5M54.20 462.30h-1.5M54.20 486.70h-1.5M54.20 511.00h-1.5" stroke="#777" stroke-width="0.7" fill="none"/>
<text x="54.50" y="520.00" font-size="4.2" text-anchor="middle" fill="#111" stroke="#111" stroke-width="0.15" font-family='"Liberation Sans", sans-serif'>10<tspan font-size="2.60" dy="-1.6">0</tspan></text>
<text x="76.58" y="520.00" font-size="4.2" text-anchor="middle" fill="#111" stroke="#111" stroke-width="0.15" font-family='"Liberation Sans", sans-serif'>10<tspan font-size="2.60" dy="-1.6">1</tspan></text>
<text x="98.65" y="520.00" font-size="4.2" text-anchor="middle" fill="#111" stroke="#111" stroke-width="0.15" font-family='"Liberation Sans", sans-serif'>10<tspan font-size="2.60" dy="-1.6">2</tspan></text>
<text x="120.72" y="520.00" font-size="4.2" text-anchor="middle" fill="#111" stroke="#111" stroke-width="0.15" font-family='"Liberation Sans", sans-serif'>10<tspan font-size="2.60" dy="-1.6">3</tspan></text>
<text x="142.80" y="520.00" font-size="4.2" text-anchor="middle" fill="#111" stroke="#111" stroke-width="0.15" font-family='"Liberation Sans", sans-serif'>10<tspan font-size="2.60" dy="-1.6">4</tspan></text>
<path d="M54.20 511.60v1.6M60.85 511.60v0.9M64.73 511.60v0.9M67.49 511.60v0.9M69.63 511.60v0.9M71.38 511.60v0.9M72.86 511.60v0.9M74.14 511.60v0.9M75.26 511.60v0.9M76.28 511.60v1.6M82.92 511.60v0.9M86.81 511.60v0.9M89.57 511.60v0.9M91.70 511.60v0.9M93.45 511.60v0.9M94.93 511.60v0.9M96.21 511.60v0.9M97.34 511.60v0.9M98.35 511.60v1.6M105.00 511.60v0.9M108.88 511.60v0.9M111.64 511.60v0.9M113.78 511.60v0.9M115.53 511.60v0.9M117.01 511.60v0.9M118.29 511.60v0.9M119.41 511.60v0.9M120.42 511.60v1.6M127.07 511.60v0.9M130.96 511.60v0.9M133.72 511.60v0.9M135.85 511.60v0.9M137.60 511.60v0.9M139.08 511.60v0.9M140.36 511.60v0.9M141.49 511.60v0.9" stroke="#888" stroke-width="0.6" fill="none"/>
<text x="98.5" y="524.6" font-size="4.1" font-weight="bold" text-anchor="middle" fill="#111" font-family='"Liberation Sans", sans-serif'>FL1-H: CD44 FITC</text>
<path d="M105.8 442.0H142.5M105.8 439.8v4.4" stroke="#2a2a2a" stroke-width="1.0" fill="none"/>
<text x="121.9" y="440.1" font-size="8.4" text-anchor="middle" font-weight="normal" font-style="normal" fill="#000" font-family='"Liberation Sans", sans-serif'  stroke="#000" stroke-width="0.25">6.44</text>
<polyline points="161.7,511.5 170.4,511.5 173.3,508.4 176.2,504.5 178.1,498.8 180.0,491.1 181.3,490.1 182.9,483.4 184.2,480.5 185.8,484.3 187.7,491.1 189.2,495.9 191.9,500.7 193.5,504.5 195.4,501.7 196.9,505.5 199.2,501.7 202.1,500.7 204.6,498.8 206.0,493.0 206.9,488.2 208.5,489.2 210.8,479.5 212.7,462.2 215.0,446.8 216.5,433.4 217.5,425.7 218.8,437.2 220.4,460.3 221.9,485.3 223.8,504.5 226.2,511.3 249.0,511.5" fill="none" stroke="#444" stroke-width="1.0" stroke-linejoin="round"/>
<rect x="161.20" y="423.00" width="88.30" height="88.60" fill="none" stroke="#7c7c7c" stroke-width="1.25"/>
<text x="157.8" y="435.4" font-size="4.0" text-anchor="end" fill="#111" stroke="#111" stroke-width="0.15" font-family='"Liberation Sans", sans-serif'>20</text>
<text x="157.8" y="455.0" font-size="4.0" text-anchor="end" fill="#111" stroke="#111" stroke-width="0.15" font-family='"Liberation Sans", sans-serif'>15</text>
<text x="157.8" y="473.8" font-size="4.0" text-anchor="end" fill="#111" stroke="#111" stroke-width="0.15" font-family='"Liberation Sans", sans-serif'>10</text>
<text x="157.8" y="493.4" font-size="4.0" text-anchor="end" fill="#111" stroke="#111" stroke-width="0.15" font-family='"Liberation Sans", sans-serif'>5</text>
<text x="157.8" y="512.4" font-size="4.0" text-anchor="end" fill="#111" stroke="#111" stroke-width="0.15" font-family='"Liberation Sans", sans-serif'>0</text>
<path d="M161.20 434.00h-1.5M161.20 453.60h-1.5M161.20 472.40h-1.5M161.20 492.00h-1.5M161.20 511.00h-1.5" stroke="#777" stroke-width="0.7" fill="none"/>
<text x="161.50" y="520.00" font-size="4.2" text-anchor="middle" fill="#111" stroke="#111" stroke-width="0.15" font-family='"Liberation Sans", sans-serif'>10<tspan font-size="2.60" dy="-1.6">0</tspan></text>
<text x="183.57" y="520.00" font-size="4.2" text-anchor="middle" fill="#111" stroke="#111" stroke-width="0.15" font-family='"Liberation Sans", sans-serif'>10<tspan font-size="2.60" dy="-1.6">1</tspan></text>
<text x="205.65" y="520.00" font-size="4.2" text-anchor="middle" fill="#111" stroke="#111" stroke-width="0.15" font-family='"Liberation Sans", sans-serif'>10<tspan font-size="2.60" dy="-1.6">2</tspan></text>
<text x="227.73" y="520.00" font-size="4.2" text-anchor="middle" fill="#111" stroke="#111" stroke-width="0.15" font-family='"Liberation Sans", sans-serif'>10<tspan font-size="2.60" dy="-1.6">3</tspan></text>
<text x="249.80" y="520.00" font-size="4.2" text-anchor="middle" fill="#111" stroke="#111" stroke-width="0.15" font-family='"Liberation Sans", sans-serif'>10<tspan font-size="2.60" dy="-1.6">4</tspan></text>
<path d="M161.20 511.60v1.6M167.85 511.60v0.9M171.73 511.60v0.9M174.49 511.60v0.9M176.63 511.60v0.9M178.38 511.60v0.9M179.86 511.60v0.9M181.14 511.60v0.9M182.26 511.60v0.9M183.27 511.60v1.6M189.92 511.60v0.9M193.81 511.60v0.9M196.57 511.60v0.9M198.70 511.60v0.9M200.45 511.60v0.9M201.93 511.60v0.9M203.21 511.60v0.9M204.34 511.60v0.9M205.35 511.60v1.6M212.00 511.60v0.9M215.88 511.60v0.9M218.64 511.60v0.9M220.78 511.60v0.9M222.53 511.60v0.9M224.01 511.60v0.9M225.29 511.60v0.9M226.41 511.60v0.9M227.43 511.60v1.6M234.07 511.60v0.9M237.96 511.60v0.9M240.72 511.60v0.9M242.85 511.60v0.9M244.60 511.60v0.9M246.08 511.60v0.9M247.36 511.60v0.9M248.49 511.60v0.9" stroke="#888" stroke-width="0.6" fill="none"/>
<text x="205.5" y="524.6" font-size="4.1" font-weight="bold" text-anchor="middle" fill="#111" font-family='"Liberation Sans", sans-serif'>FL1-H: CD44 FITC</text>
<path d="M212.7 442.0H249.5M212.7 439.8v4.4" stroke="#2a2a2a" stroke-width="1.0" fill="none"/>
<text x="237.9" y="440.1" font-size="8.4" text-anchor="middle" font-weight="normal" font-style="normal" fill="#000" font-family='"Liberation Sans", sans-serif'  stroke="#000" stroke-width="0.25">46.4</text>
<polyline points="267.7,511.6 272.5,510.3 276.3,508.0 279.2,500.7 280.8,495.9 282.1,494.9 283.5,481.5 284.6,468.0 286.0,463.2 286.9,458.4 287.9,441.1 288.8,439.2 289.8,433.4 290.8,428.6 291.7,439.2 292.7,444.9 293.7,439.2 294.6,448.8 296.2,446.8 297.5,455.5 298.5,454.5 299.4,466.1 300.4,457.4 301.9,460.3 302.7,467.0 303.8,474.7 305.2,473.8 307.1,469.0 309.0,462.2 311.0,463.2 312.9,469.9 314.8,458.4 316.7,470.9 318.7,462.2 320.6,445.9 321.9,436.3 323.1,444.9 324.4,446.8 325.8,449.7 326.9,471.8 328.3,498.8 330.2,509.3 333.1,511.6 355.0,511.6" fill="none" stroke="#444" stroke-width="1.0" stroke-linejoin="round"/>
<rect x="267.30" y="423.00" width="88.30" height="88.60" fill="none" stroke="#7c7c7c" stroke-width="1.25"/>
<text x="263.9" y="425.2" font-size="4.0" text-anchor="end" fill="#111" stroke="#111" stroke-width="0.15" font-family='"Liberation Sans", sans-serif'>50</text>
<text x="263.9" y="442.9" font-size="4.0" text-anchor="end" fill="#111" stroke="#111" stroke-width="0.15" font-family='"Liberation Sans", sans-serif'>40</text>
<text x="263.9" y="460.4" font-size="4.0" text-anchor="end" fill="#111" stroke="#111" stroke-width="0.15" font-family='"Liberation Sans", sans-serif'>30</text>
<text x="263.9" y="478.1" font-size="4.0" text-anchor="end" fill="#111" stroke="#111" stroke-width="0.15" font-family='"Liberation Sans", sans-serif'>20</text>
<text x="263.9" y="495.4" font-size="4.0" text-anchor="end" fill="#111" stroke="#111" stroke-width="0.15" font-family='"Liberation Sans", sans-serif'>10</text>
<text x="263.9" y="512.9" font-size="4.0" text-anchor="end" fill="#111" stroke="#111" stroke-width="0.15" font-family='"Liberation Sans", sans-serif'>0</text>
<path d="M267.30 423.80h-1.5M267.30 441.50h-1.5M267.30 459.00h-1.5M267.30 476.70h-1.5M267.30 494.00h-1.5M267.30 511.50h-1.5" stroke="#777" stroke-width="0.7" fill="none"/>
<text x="267.60" y="520.00" font-size="4.2" text-anchor="middle" fill="#111" stroke="#111" stroke-width="0.15" font-family='"Liberation Sans", sans-serif'>10<tspan font-size="2.60" dy="-1.6">0</tspan></text>
<text x="289.68" y="520.00" font-size="4.2" text-anchor="middle" fill="#111" stroke="#111" stroke-width="0.15" font-family='"Liberation Sans", sans-serif'>10<tspan font-size="2.60" dy="-1.6">1</tspan></text>
<text x="311.75" y="520.00" font-size="4.2" text-anchor="middle" fill="#111" stroke="#111" stroke-width="0.15" font-family='"Liberation Sans", sans-serif'>10<tspan font-size="2.60" dy="-1.6">2</tspan></text>
<text x="333.83" y="520.00" font-size="4.2" text-anchor="middle" fill="#111" stroke="#111" stroke-width="0.15" font-family='"Liberation Sans", sans-serif'>10<tspan font-size="2.60" dy="-1.6">3</tspan></text>
<text x="355.90" y="520.00" font-size="4.2" text-anchor="middle" fill="#111" stroke="#111" stroke-width="0.15" font-family='"Liberation Sans", sans-serif'>10<tspan font-size="2.60" dy="-1.6">4</tspan></text>
<path d="M267.30 511.60v1.6M273.95 511.60v0.9M277.83 511.60v0.9M280.59 511.60v0.9M282.73 511.60v0.9M284.48 511.60v0.9M285.96 511.60v0.9M287.24 511.60v0.9M288.36 511.60v0.9M289.38 511.60v1.6M296.02 511.60v0.9M299.91 511.60v0.9M302.67 511.60v0.9M304.80 511.60v0.9M306.55 511.60v0.9M308.03 511.60v0.9M309.31 511.60v0.9M310.44 511.60v0.9M311.45 511.60v1.6M318.10 511.60v0.9M321.98 511.60v0.9M324.74 511.60v0.9M326.88 511.60v0.9M328.63 511.60v0.9M330.11 511.60v0.9M331.39 511.60v0.9M332.51 511.60v0.9M333.53 511.60v1.6M340.17 511.60v0.9M344.06 511.60v0.9M346.82 511.60v0.9M348.95 511.60v0.9M350.70 511.60v0.9M352.18 511.60v0.9M353.46 511.60v0.9M354.59 511.60v0.9" stroke="#888" stroke-width="0.6" fill="none"/>
<text x="311.7" y="524.6" font-size="4.1" font-weight="bold" text-anchor="middle" fill="#111" font-family='"Liberation Sans", sans-serif'>FL1-H: CD44 FITC</text>
<path d="M319.2 442.0H355.6M319.2 439.8v4.4" stroke="#2a2a2a" stroke-width="1.0" fill="none"/>
<text x="336.9" y="440.1" font-size="8.4" text-anchor="middle" font-weight="normal" font-style="normal" fill="#000" font-family='"Liberation Sans", sans-serif'  stroke="#000" stroke-width="0.25">20.7</text>
<polyline points="375.7,511.6 385.3,511.5 389.2,508.4 392.0,506.5 394.5,502.6 395.9,498.8 397.2,494.9 398.8,496.8 400.3,495.9 401.7,494.9 403.0,498.8 404.5,502.6 407.4,504.2 409.3,504.5 411.8,506.1 414.2,505.5 417.0,503.6 419.9,501.7 421.8,500.7 422.8,494.9 424.2,492.0 425.3,485.3 426.7,471.8 428.0,456.5 429.2,441.1 429.9,428.6 431.1,435.3 431.8,434.3 433.4,450.7 434.9,475.7 436.3,498.8 438.2,508.4 441.1,511.6 463.0,511.6" fill="none" stroke="#444" stroke-width="1.0" stroke-linejoin="round"/>
<rect x="375.30" y="423.00" width="88.30" height="88.60" fill="none" stroke="#7c7c7c" stroke-width="1.25"/>
<text x="371.9" y="425.8" font-size="4.0" text-anchor="end" fill="#111" stroke="#111" stroke-width="0.15" font-family='"Liberation Sans", sans-serif'>50</text>
<text x="371.9" y="443.8" font-size="4.0" text-anchor="end" fill="#111" stroke="#111" stroke-width="0.15" font-family='"Liberation Sans", sans-serif'>40</text>
<text x="371.9" y="461.0" font-size="4.0" text-anchor="end" fill="#111" stroke="#111" stroke-width="0.15" font-family='"Liberation Sans", sans-serif'>30</text>
<text x="371.9" y="478.4" font-size="4.0" text-anchor="end" fill="#111" stroke="#111" stroke-width="0.15" font-family='"Liberation Sans", sans-serif'>20</text>
<text x="371.9" y="495.8" font-size="4.0" text-anchor="end" fill="#111" stroke="#111" stroke-width="0.15" font-family='"Liberation Sans", sans-serif'>10</text>
<text x="371.9" y="512.4" font-size="4.0" text-anchor="end" fill="#111" stroke="#111" stroke-width="0.15" font-family='"Liberation Sans", sans-serif'>0</text>
<path d="M375.30 424.40h-1.5M375.30 442.40h-1.5M375.30 459.60h-1.5M375.30 477.00h-1.5M375.30 494.40h-1.5M375.30 511.00h-1.5" stroke="#777" stroke-width="0.7" fill="none"/>
<text x="375.60" y="520.00" font-size="4.2" text-anchor="middle" fill="#111" stroke="#111" stroke-width="0.15" font-family='"Liberation Sans", sans-serif'>10<tspan font-size="2.60" dy="-1.6">0</tspan></text>
<text x="397.68" y="520.00" font-size="4.2" text-anchor="middle" fill="#111" stroke="#111" stroke-width="0.15" font-family='"Liberation Sans", sans-serif'>10<tspan font-size="2.60" dy="-1.6">1</tspan></text>
<text x="419.75" y="520.00" font-size="4.2" text-anchor="middle" fill="#111" stroke="#111" stroke-width="0.15" font-family='"Liberation Sans", sans-serif'>10<tspan font-size="2.60" dy="-1.6">2</tspan></text>
<text x="441.83" y="520.00" font-size="4.2" text-anchor="middle" fill="#111" stroke="#111" stroke-width="0.15" font-family='"Liberation Sans", sans-serif'>10<tspan font-size="2.60" dy="-1.6">3</tspan></text>
<text x="463.90" y="520.00" font-size="4.2" text-anchor="middle" fill="#111" stroke="#111" stroke-width="0.15" font-family='"Liberation Sans", sans-serif'>10<tspan font-size="2.60" dy="-1.6">4</tspan></text>
<path d="M375.30 511.60v1.6M381.95 511.60v0.9M385.83 511.60v0.9M388.59 511.60v0.9M390.73 511.60v0.9M392.48 511.60v0.9M393.96 511.60v0.9M395.24 511.60v0.9M396.36 511.60v0.9M397.38 511.60v1.6M404.02 511.60v0.9M407.91 511.60v0.9M410.67 511.60v0.9M412.80 511.60v0.9M414.55 511.60v0.9M416.03 511.60v0.9M417.31 511.60v0.9M418.44 511.60v0.9M419.45 511.60v1.6M426.10 511.60v0.9M429.98 511.60v0.9M432.74 511.60v0.9M434.88 511.60v0.9M436.63 511.60v0.9M438.11 511.60v0.9M439.39 511.60v0.9M440.51 511.60v0.9M441.53 511.60v1.6M448.17 511.60v0.9M452.06 511.60v0.9M454.82 511.60v0.9M456.95 511.60v0.9M458.70 511.60v0.9M460.18 511.60v0.9M461.46 511.60v0.9M462.59 511.60v0.9" stroke="#888" stroke-width="0.6" fill="none"/>
<text x="419.7" y="524.6" font-size="4.1" font-weight="bold" text-anchor="middle" fill="#111" font-family='"Liberation Sans", sans-serif'>FL1-H: CD44 FITC</text>
<path d="M427.2 442.0H463.6M427.2 439.8v4.4" stroke="#2a2a2a" stroke-width="1.0" fill="none"/>
<text x="450.0" y="440.1" font-size="8.4" text-anchor="middle" font-weight="normal" font-style="normal" fill="#000" font-family='"Liberation Sans", sans-serif'  stroke="#000" stroke-width="0.25">57.7</text></svg>
</body></html>
